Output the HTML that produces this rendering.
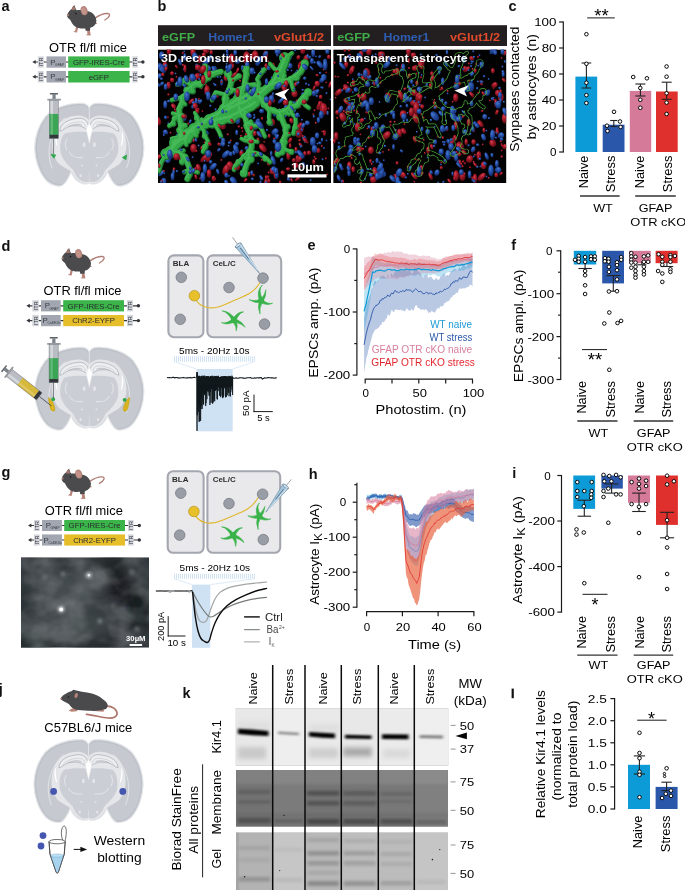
<!DOCTYPE html>
<html><head><meta charset="utf-8"><title>Figure</title>
<style>
html,body{margin:0;padding:0;background:#fff;}
body{width:685px;height:890px;overflow:hidden;font-family:"Liberation Sans",sans-serif;}
svg{display:block;will-change:transform;}
svg text{font-family:"Liberation Sans",sans-serif;}
</style></head><body>
<svg width="685" height="890" viewBox="0 0 685 890">
<rect width="685" height="890" fill="#fff"/>
<!-- panel_a -->
<text x="1.5" y="10.6" font-size="14.5" font-weight="bold" fill="#111">a</text><g transform="translate(55 0) scale(0.1022)"><path d="M395,175 C430,150 470,130 515,132 C545,135 540,165 488,196" fill="none" stroke="#b17f76" stroke-width="13" stroke-linecap="round"/><path d="M205,262 L198,300 L178,312 L215,318 L228,270 Z" fill="#b88479"/><path d="M312,290 L318,332 L302,345 L350,348 L340,290 Z" fill="#b88479"/><path d="M385,215 L415,228 L405,236 L380,232 Z" fill="#b88479"/><path d="M118,150 C125,120 150,95 165,85 C170,70 180,55 192,52 C198,70 200,90 212,100 C250,95 300,100 340,115 C375,128 400,160 405,200 C405,235 385,260 345,272 L342,300 L300,302 L296,278 C260,282 225,278 205,265 C180,250 165,225 150,195 C135,185 118,170 118,150 Z" fill="#4b4b4d"/><path d="M160,98 C165,80 178,62 190,56 C194,70 195,86 200,98 Z" fill="#a8776e"/><ellipse cx="285" cy="104" rx="33" ry="45" fill="#b5857c" transform="rotate(-18 285 104)"/><ellipse cx="282" cy="108" rx="22" ry="34" fill="#c4948a" transform="rotate(-18 282 108)"/><circle cx="205" cy="133" r="8" fill="#1c1416"/><circle cx="128" cy="148" r="9" fill="#b88479"/></g><text x="88" y="51.6" font-size="12.6" text-anchor="middle" textLength="78" lengthAdjust="spacingAndGlyphs">OTR fl/fl mice</text><line x1="34.3" y1="62" x2="142.5" y2="62" stroke="#33363b" stroke-width="1.2"/><polygon points="32.3,62 35.7,59.9 35.7,64.1" fill="#33363b"/><circle cx="142.9" cy="62" r="1.7" fill="#33363b"/><rect x="37.8" y="56.4" width="6" height="11.3" fill="#d3d6dc"/><rect x="132.3" y="56.4" width="5.5" height="11.3" fill="#d3d6dc"/><rect x="46.5" y="56.4" width="19.5" height="11.3" fill="#a1a6b0"/><rect x="68.2" y="56.4" width="61.4" height="11.3" fill="#3bb44a"/><text font-size="5.5" text-anchor="middle" fill="#2e3136" transform="translate(42.8 62) rotate(-90)">ITR</text><text font-size="5.5" text-anchor="middle" fill="#2e3136" transform="translate(137.1 62) rotate(-90)">ITR</text><text x="50.3" y="64.5" font-size="7.8" fill="#3a3d42">P</text><text x="55.1" y="65.8" font-size="3.4" fill="#3a3d42">GFAP</text><text x="98.9" y="64.8" font-size="7.5" text-anchor="middle" fill="#2a2d2f" textLength="52" lengthAdjust="spacingAndGlyphs">GFP-IRES-Cre</text><line x1="34.3" y1="76.8" x2="142.5" y2="76.8" stroke="#33363b" stroke-width="1.2"/><polygon points="32.3,76.8 35.7,74.7 35.7,78.8" fill="#33363b"/><circle cx="142.9" cy="76.8" r="1.7" fill="#33363b"/><rect x="37.8" y="71" width="6" height="11.5" fill="#d3d6dc"/><rect x="132.3" y="71" width="5.5" height="11.5" fill="#d3d6dc"/><rect x="46.5" y="71" width="19.5" height="11.5" fill="#a1a6b0"/><rect x="68.2" y="71" width="61.4" height="11.5" fill="#3bb44a"/><text font-size="5.5" text-anchor="middle" fill="#2e3136" transform="translate(42.8 76.8) rotate(-90)">ITR</text><text font-size="5.5" text-anchor="middle" fill="#2e3136" transform="translate(137.1 76.8) rotate(-90)">ITR</text><text x="50.3" y="79.2" font-size="7.8" fill="#3a3d42">P</text><text x="55.1" y="80.5" font-size="3.4" fill="#3a3d42">GFAP</text><text x="98.9" y="79.5" font-size="7.5" text-anchor="middle" fill="#2a2d2f" textLength="20.4" lengthAdjust="spacingAndGlyphs">eGFP</text><g transform="translate(89.3 102.6) scale(0.1781) translate(-342 -22)"><path d="M344,58 C338,35 320,24 290,24 C220,26 140,50 95,100 C55,150 35,220 35,275 C35,340 60,420 105,465 C130,488 170,496 190,488 C212,475 226,445 240,412 C250,440 270,465 300,476 C320,482 335,480 344,472 Z" fill="#c6cad0"/><path d="M344,58 C338,35 320,24 290,24 C220,26 140,50 95,100 C55,150 35,220 35,275 C35,340 60,420 105,465 C130,488 170,496 190,488 C212,475 226,445 240,412 C250,440 270,465 300,476 C320,482 335,480 344,472" fill="none" stroke="#e6e8eb" stroke-width="6"/><path d="M343,66 C336,44 318,34 290,34 C222,36 148,58 103,106 C65,154 45,222 45,275 C45,338 68,414 111,457 C134,478 168,486 187,479" fill="none" stroke="#a4aab3" stroke-width="1.9"/><path d="M344,124 C332,108 312,96 286,94 C246,92 205,108 180,132 C150,165 135,210 134,262 C134,302 148,340 172,366 C198,388 230,398 245,415 C256,442 276,462 302,473 C322,480 336,478 344,470 L344,124 Z" fill="#e4e6e9"/><path d="M205,108 C160,145 120,215 116,290 C114,330 122,362 134,392" fill="none" stroke="#e4e6e9" stroke-width="5"/><path d="M349,190 C310,184 240,184 205,196 C184,212 174,262 181,302 C190,342 222,372 252,400 C264,430 282,455 306,465 C325,470 338,468 349,462 Z" fill="#cbcfd5"/><path d="M230,300 C242,325 270,334 305,330" fill="none" stroke="#e0e2e6" stroke-width="6" stroke-linecap="round"/><path d="M216,226 C206,245 206,270 216,286" fill="none" stroke="#e0e2e6" stroke-width="6" stroke-linecap="round"/><ellipse cx="313" cy="258" rx="8" ry="13" fill="#e4e6e9"/><circle cx="302" cy="375" r="5" fill="#e4e6e9"/><ellipse cx="293" cy="432" rx="6" ry="9" fill="#e4e6e9"/><path d="M176,183 C178,140 225,112 291,110 C316,112 331,126 337,152 L326,172 C310,160 290,151 271,152 C250,152 232,151 215,162 C200,172 188,181 176,183 Z" fill="#eceef0" stroke="#7c838e" stroke-width="2.4"/><path d="M196,170 C212,142 258,128 298,131 C314,135 322,146 319,160" fill="none" stroke="#8f96a0" stroke-width="1.6"/><path d="M226,157 C248,141 280,138 303,149 C282,146 252,146 226,157 Z" fill="#d5d8dd" stroke="#8f96a0" stroke-width="1.4"/><path d="M154,184 C147,212 148,246 162,270 C168,272 166,262 164,250 C160,228 160,205 160,186 Z" fill="#fff" stroke="#c0c4ca" stroke-width="1"/><g transform="translate(684 0) scale(-1 1)"><path d="M344,58 C338,35 320,24 290,24 C220,26 140,50 95,100 C55,150 35,220 35,275 C35,340 60,420 105,465 C130,488 170,496 190,488 C212,475 226,445 240,412 C250,440 270,465 300,476 C320,482 335,480 344,472 Z" fill="#c6cad0"/><path d="M344,58 C338,35 320,24 290,24 C220,26 140,50 95,100 C55,150 35,220 35,275 C35,340 60,420 105,465 C130,488 170,496 190,488 C212,475 226,445 240,412 C250,440 270,465 300,476 C320,482 335,480 344,472" fill="none" stroke="#e6e8eb" stroke-width="6"/><path d="M343,66 C336,44 318,34 290,34 C222,36 148,58 103,106 C65,154 45,222 45,275 C45,338 68,414 111,457 C134,478 168,486 187,479" fill="none" stroke="#a4aab3" stroke-width="1.9"/><path d="M344,124 C332,108 312,96 286,94 C246,92 205,108 180,132 C150,165 135,210 134,262 C134,302 148,340 172,366 C198,388 230,398 245,415 C256,442 276,462 302,473 C322,480 336,478 344,470 L344,124 Z" fill="#e4e6e9"/><path d="M205,108 C160,145 120,215 116,290 C114,330 122,362 134,392" fill="none" stroke="#e4e6e9" stroke-width="5"/><path d="M349,190 C310,184 240,184 205,196 C184,212 174,262 181,302 C190,342 222,372 252,400 C264,430 282,455 306,465 C325,470 338,468 349,462 Z" fill="#cbcfd5"/><path d="M230,300 C242,325 270,334 305,330" fill="none" stroke="#e0e2e6" stroke-width="6" stroke-linecap="round"/><path d="M216,226 C206,245 206,270 216,286" fill="none" stroke="#e0e2e6" stroke-width="6" stroke-linecap="round"/><ellipse cx="313" cy="258" rx="8" ry="13" fill="#e4e6e9"/><circle cx="302" cy="375" r="5" fill="#e4e6e9"/><ellipse cx="293" cy="432" rx="6" ry="9" fill="#e4e6e9"/><path d="M176,183 C178,140 225,112 291,110 C316,112 331,126 337,152 L326,172 C310,160 290,151 271,152 C250,152 232,151 215,162 C200,172 188,181 176,183 Z" fill="#eceef0" stroke="#7c838e" stroke-width="2.4"/><path d="M196,170 C212,142 258,128 298,131 C314,135 322,146 319,160" fill="none" stroke="#8f96a0" stroke-width="1.6"/><path d="M226,157 C248,141 280,138 303,149 C282,146 252,146 226,157 Z" fill="#d5d8dd" stroke="#8f96a0" stroke-width="1.4"/><path d="M154,184 C147,212 148,246 162,270 C168,272 166,262 164,250 C160,228 160,205 160,186 Z" fill="#fff" stroke="#c0c4ca" stroke-width="1"/></g><path d="M342,136 L360,170 L354,196 L349,218 L342,250 L335,218 L330,196 L324,170 Z" fill="#fff" stroke="#e4e6e9" stroke-width="3"/><line x1="342" y1="50" x2="342" y2="122" stroke="#e9ebee" stroke-width="4"/><line x1="342" y1="418" x2="342" y2="470" stroke="#e3e5e8" stroke-width="3"/></g><g transform="translate(30 88) scale(0.1168)"><rect x="201" y="430" width="5" height="135" fill="#3a3f45"/><rect x="170" y="42" width="70" height="13" fill="#5d6268" rx="4"/><rect x="192" y="52" width="28" height="42" fill="#7d838a"/><rect x="148" y="92" width="117" height="16" fill="#969ba2" rx="5"/><rect x="165" y="106" width="78" height="326" fill="#b9bdc3"/><rect x="176" y="106" width="22" height="116" fill="#d4d7db"/><rect x="165" y="222" width="78" height="180" fill="#3aa655"/><rect x="178" y="222" width="18" height="180" fill="#fff" opacity="0.22"/><rect x="165" y="400" width="78" height="32" fill="#33373c" rx="5"/><rect x="165" y="106" width="78" height="326" fill="none" stroke="#6f747b" stroke-width="4"/></g><path d="M51.0,154.3 L55.6,154.9 L54.0,158.3 Z" fill="#2fa84a" stroke="#2fa84a" stroke-width="0.8" stroke-linejoin="round"/><path d="M122.3,157.6 L126.6,155.0 L126.0,159.6 Z" fill="#2fa84a" stroke="#2fa84a" stroke-width="0.8" stroke-linejoin="round"/>
<!-- panel_b -->
<text x="157.4" y="11.2" font-size="14.5" font-weight="bold" fill="#111">b</text><defs><radialGradient id="gB" cx="0.38" cy="0.32" r="0.75"><stop offset="0" stop-color="#4a7ad0"/><stop offset="0.38" stop-color="#2853ac"/><stop offset="1" stop-color="#0f2460"/></radialGradient><radialGradient id="gR" cx="0.38" cy="0.32" r="0.75"><stop offset="0" stop-color="#d04452"/><stop offset="0.36" stop-color="#aa1a2a"/><stop offset="1" stop-color="#4c0810"/></radialGradient><g id="tr0"><polyline points="166.3,153.9 170,151.2 173,147.6 174.7,143 179.7,139.8 181.8,135.9 186.3,132.7 191,130.8 194.4,127.5 199.9,125.5 204.6,122.2 208.8,119.6 212.6,117 215.4,116 220.6,112.6 226.1,111.4 229.2,109.7 234.2,107.2 238.7,104.8 244.2,103.2 249.8,99.3 253.9,96.4 259.4,94.5 263.3,91.3 266.9,88 272.3,84.2 275.5,79.8 277.1,75.5 280,71.3 283.6,63.8 285.2,58.3"/><polyline points="211.6,121.6 215.3,121.1 220.8,119.6 225.8,118.3 230.3,117.2 235.5,114.7 241.3,112.1 245.7,108.7 250.8,106.5 255.5,102.8"/><polyline points="223.2,107.9 229,105.9 232.6,103.4 238.7,99.7 244.1,98 248.7,95.4 254.2,91.9"/><polyline points="171.5,150.8 175.6,145.3 180.5,141 185.7,138.8 189.3,133.5 194.8,131.2"/></g><g id="tr1"><polyline points="181.8,135.9 180.9,129.9 180.8,126.5 179.8,120.1 179.3,115.2 178.7,109.1 182,102 181.8,97.1 185.7,94.5 187.5,90 192.2,86.8 195.4,84 201.5,82.7 205.3,78.9 207.7,76.4 214.1,73.2 220.6,71.3"/><polyline points="220.6,112.6 221.5,109.6 224.6,103.9 224.5,98.5 225.8,94.5 229.2,89.2 230.9,81.6 228.4,73.8"/><polyline points="238.7,104.8 240.5,101.1 240.8,96.4 241.9,91.2 243.9,86.8 244.5,81.7 246.4,73.8 243.9,68.2"/><polyline points="259.4,94.5 261.2,99.4 264.4,104.1 267.1,107.4 273.1,110.5 280,112.6 284.7,111.1 290.4,107.4 297,105 300.7,99.7 303.5,96.8 308.5,91.9"/><polyline points="272.3,84.2 277.4,83.6 282,80.6 286.7,80.6 290.4,79 295.9,76 300.7,71.3 304.6,63.5"/><polyline points="238.7,104.8 240.4,109.8 241.7,114.5 244.9,117 246.4,122.9 246.3,126.3 248.5,131 249.4,135.1 251.6,141 251.1,147.3 249.1,154.3 249,159.1 245.8,165.3 243.9,172"/><polyline points="171.5,151.4 177.6,152.5 184.4,156.5 187.1,162.5 189.6,169.4 189.3,173.7 187,178.5"/><polyline points="280,112.6 280.9,116 282.9,121.8 285.3,127.6 285.2,130.7 285.6,134.3 282.3,141.2 282.6,146.2 280.4,151.3 277.4,153.9"/></g><g id="tr2"><polyline points="192.2,86.8 187.5,82.2 184.4,79 182,82.9 176.7,84.2"/><polyline points="249,151.4 255.7,152.6 259.4,153.9 266,157.8 269.7,161.7"/><polyline points="249,151.4 244.4,155.2 242,157.6 238.7,161.7 234.6,165.7 233.5,169.4"/><polyline points="199.9,125.5 203.4,129.9 204.4,134.8 207.7,141 205.4,146.1 202.5,151.4"/><polyline points="166.3,153.9 164.5,156.6 161.2,161.7 160,165.7 158.6,170.7"/><polyline points="181.8,97.1 176.6,98 171.5,99.7"/><polyline points="179.3,115.2 174.4,117.9 172.2,123.4 168.9,125.5"/><polyline points="220.6,112.6 216.5,119.9 215.4,125.5 218.7,131.1 220.6,135.9"/><polyline points="259.4,94.5 258.1,89 258.7,83.2 256.8,79 259.3,74.9 264.5,68.7"/><polyline points="290.4,107.4 291.4,113.5 295.1,116.7 295.5,122.9 294.2,127.6 293,133.3"/><polyline points="285.2,58.3 291.7,52.7"/><polyline points="280,71.3 274,68.4 269.7,63.5"/><polyline points="207.7,76.4 204.9,71.9 205.1,66.1"/><polyline points="230.9,81.6 235.4,77.6 238.7,76.4"/><polyline points="300.7,99.7 305,105 308.5,107.4"/><polyline points="246.4,122.9 252.3,125.5 259.4,125.5 261.7,129.6 264.5,135.9"/><polyline points="225.8,94.5 219.4,92.8 215.4,91.9 211.6,99.7"/><polyline points="267.1,107.4 269.1,111.5 268.6,117.2 269.7,122.9"/><polyline points="189.6,169.4 197.3,172"/><polyline points="251.6,141 245.1,140.3 241.3,138.4"/><polyline points="290.4,79 291.7,85.4 293,89.3"/><polyline points="181.8,135.9 175.9,137.3 171.5,138.4"/><polyline points="199.9,125.5 197.4,117.9 194.8,112.6"/><polyline points="243.9,86.8 249.8,84.5 254.2,84.2"/><polyline points="282.6,146.2 285.2,149.3 290.4,151.4"/><polyline points="170,151.2 173.9,155"/><polyline points="173,147.6 176.5,144.1"/><polyline points="174.7,143 175.6,140"/><polyline points="181.8,135.9 185.8,141.4"/><polyline points="191,130.8 196.1,135.4"/><polyline points="204.6,122.2 201.5,119.1"/><polyline points="208.8,119.6 206.1,124.3"/><polyline points="212.6,117 209.9,119.3"/><polyline points="229.2,109.7 232.2,105.6"/><polyline points="249.8,99.3 252.4,101.1"/><polyline points="253.9,96.4 260.3,98"/><polyline points="266.9,88 260.5,89.2"/><polyline points="275.5,79.8 272.2,80.6"/><polyline points="277.1,75.5 279.5,79.3"/><polyline points="280,71.3 282.7,68.8"/><polyline points="283.6,63.8 283,67.4"/><polyline points="215.3,121.1 215.8,126"/><polyline points="220.8,119.6 224.7,117.5"/><polyline points="250.8,106.5 248.8,102.8"/><polyline points="238.7,99.7 239.6,102.6"/><polyline points="244.1,98 248.1,100.1"/><polyline points="175.6,145.3 173.8,149.8"/><polyline points="180.5,141 179.9,135.2"/><polyline points="185.7,138.8 186,144.5"/><polyline points="180.8,126.5 183.8,126.1"/><polyline points="179.8,120.1 180.6,115.5"/><polyline points="179.3,115.2 172.6,113.1"/><polyline points="182,102 184.8,103.8"/><polyline points="192.2,86.8 192.3,90"/><polyline points="195.4,84 199.2,85.5"/><polyline points="201.5,82.7 200.4,85.7"/><polyline points="205.3,78.9 208.9,78.2"/><polyline points="214.1,73.2 210.8,72.5"/><polyline points="221.5,109.6 225.5,112.8"/><polyline points="229.2,89.2 234.4,89.8"/><polyline points="240.8,96.4 236.7,92.3"/><polyline points="243.9,86.8 237.9,88.8"/><polyline points="244.5,81.7 247.7,84.5"/><polyline points="246.4,73.8 247.3,67.6"/><polyline points="261.2,99.4 263.5,101.8"/><polyline points="264.4,104.1 268.5,106.5"/><polyline points="273.1,110.5 278.5,112.6"/><polyline points="280,112.6 281.3,116.5"/><polyline points="284.7,111.1 288.5,113.8"/><polyline points="290.4,107.4 290.4,102.2"/><polyline points="282,80.6 284.3,75.4"/><polyline points="300.7,71.3 302.4,67.1"/><polyline points="240.4,109.8 243.8,111.3"/><polyline points="241.7,114.5 239.8,110.8"/><polyline points="244.9,117 245.3,111.8"/><polyline points="246.4,122.9 249.8,124"/><polyline points="246.3,126.3 250.7,121.1"/><polyline points="249.4,135.1 245.4,137"/><polyline points="251.6,141 256.9,141.4"/><polyline points="249,159.1 245.4,158.4"/><polyline points="177.6,152.5 183.3,150.2"/><polyline points="184.4,156.5 181.7,162.6"/><polyline points="189.6,169.4 183.9,171.6"/><polyline points="285.2,130.7 287,126.4"/><polyline points="285.6,134.3 288.7,133.9"/></g><g id="tr3"><polyline points="165.8,153.5 165.9,153.5"/><polyline points="170.2,151 170.3,151"/><polyline points="174.4,142.5 174.5,142.5"/><polyline points="193.7,128.2 193.8,128.2"/><polyline points="199,124.9 199.1,124.9"/><polyline points="205,123 205.1,123"/><polyline points="209.4,119.3 209.5,119.3"/><polyline points="228.2,109.7 228.3,109.7"/><polyline points="238.5,104.5 238.6,104.5"/><polyline points="243.9,103 244,103"/><polyline points="250.2,99.1 250.3,99.1"/><polyline points="280.2,71.6 280.3,71.6"/><polyline points="284.4,57.5 284.5,57.5"/><polyline points="211.7,122.2 211.8,122.2"/><polyline points="221.6,119.1 221.7,119.1"/><polyline points="230.8,117.5 230.9,117.5"/><polyline points="229,106.7 229.1,106.7"/><polyline points="233.5,103.4 233.6,103.4"/><polyline points="237.7,99.5 237.8,99.5"/><polyline points="244.4,98.8 244.5,98.8"/><polyline points="170.7,151.2 170.8,151.2"/><polyline points="186.4,138.2 186.5,138.2"/><polyline points="188.9,133.8 189,133.8"/></g><g id="tr4"><polyline points="182.1,136.4 182.2,136.4"/><polyline points="180,130 180.1,130"/><polyline points="187.1,90.2 187.2,90.2"/><polyline points="194.5,83.3 194.6,83.3"/><polyline points="207.1,76.6 207.2,76.6"/><polyline points="221.5,110.3 221.6,110.3"/><polyline points="225.2,98.8 225.3,98.8"/><polyline points="229.6,89.9 229.7,89.9"/><polyline points="227.7,73.2 227.8,73.2"/><polyline points="238,105.1 238.1,105.1"/><polyline points="241,101.6 241.1,101.6"/><polyline points="260.4,98.5 260.5,98.5"/><polyline points="264.2,104 264.3,104"/><polyline points="279.8,112.7 279.9,112.7"/><polyline points="284,111.3 284.1,111.3"/><polyline points="290.7,107.4 290.8,107.4"/><polyline points="304.1,97.3 304.2,97.3"/><polyline points="307.7,91.9 307.8,91.9"/><polyline points="272.8,85 272.9,85"/><polyline points="277,83.6 277.1,83.6"/><polyline points="295.6,76.7 295.7,76.7"/><polyline points="304.4,63 304.5,63"/><polyline points="240,109 240.1,109"/><polyline points="247.2,125.5 247.3,125.5"/><polyline points="249.1,130 249.2,130"/><polyline points="250.6,140.5 250.7,140.5"/><polyline points="249.1,153.4 249.2,153.4"/><polyline points="250,159 250.1,159"/><polyline points="243.4,172.9 243.5,172.9"/><polyline points="184.2,157.1 184.3,157.1"/><polyline points="280,116.6 280.1,116.6"/><polyline points="283.3,141.7 283.4,141.7"/><polyline points="281,151.1 281.1,151.1"/></g><g id="tr5"><polyline points="187.3,81.8 187.4,81.8"/><polyline points="248.4,151.3 248.5,151.3"/><polyline points="255.4,153.4 255.5,153.4"/><polyline points="265.1,158.5 265.2,158.5"/><polyline points="243.9,156 244,156"/><polyline points="238.1,161.6 238.2,161.6"/><polyline points="204.4,135.7 204.5,135.7"/><polyline points="204.7,146.4 204.8,146.4"/><polyline points="174.3,118.3 174.4,118.3"/><polyline points="172.8,123.2 172.9,123.2"/><polyline points="215.4,124.6 215.5,124.6"/><polyline points="259,94.4 259.1,94.4"/><polyline points="295.1,126.7 295.2,126.7"/><polyline points="204.8,66.1 204.9,66.1"/><polyline points="235.3,76.7 235.4,76.7"/><polyline points="238.4,75.7 238.5,75.7"/><polyline points="269,122 269.1,122"/><polyline points="250.7,141.7 250.8,141.7"/><polyline points="290.5,78.2 290.6,78.2"/><polyline points="199.1,125.9 199.2,125.9"/><polyline points="196.5,117.8 196.6,117.8"/><polyline points="254.5,84.9 254.6,84.9"/><polyline points="283.1,145.7 283.2,145.7"/><polyline points="290.9,151.4 291,151.4"/><polyline points="172.5,147.1 172.6,147.1"/><polyline points="173.8,142.7 173.9,142.7"/><polyline points="175.4,140.3 175.5,140.3"/><polyline points="185.1,141.4 185.2,141.4"/><polyline points="208.3,119.6 208.4,119.6"/><polyline points="259.8,97.7 259.9,97.7"/><polyline points="280,79 280.1,79"/><polyline points="280.3,71.9 280.4,71.9"/><polyline points="284.5,63.6 284.6,63.6"/><polyline points="249.9,106.9 250,106.9"/><polyline points="239.2,102 239.3,102"/><polyline points="180.4,140.5 180.5,140.5"/><polyline points="180,134.8 180.1,134.8"/><polyline points="185.7,139.6 185.8,139.6"/><polyline points="184.4,125.3 184.5,125.3"/><polyline points="181.6,115.6 181.7,115.6"/><polyline points="192.3,90.8 192.4,90.8"/><polyline points="213.2,74.1 213.3,74.1"/><polyline points="245.8,74.2 245.9,74.2"/><polyline points="262.2,98.6 262.3,98.6"/><polyline points="262.6,101.7 262.7,101.7"/><polyline points="273.5,109.7 273.6,109.7"/><polyline points="285.2,110.3 285.3,110.3"/><polyline points="239.7,110.6 239.8,110.6"/><polyline points="245.7,112.3 245.8,112.3"/><polyline points="250.7,123.7 250.8,123.7"/><polyline points="181.7,161.6 181.8,161.6"/><polyline points="287.1,126.3 287.2,126.3"/><polyline points="285,135.3 285.1,135.3"/></g><clipPath id="cb0"><rect x="158" y="49.4" width="173" height="133.6"/></clipPath></defs><rect x="158" y="25.2" width="173" height="20.8" fill="#231f20"/><text x="162.1" y="40.6" font-size="11" font-weight="bold" fill="#3fae49" textLength="33" lengthAdjust="spacingAndGlyphs">eGFP</text><text x="208.3" y="40.6" font-size="11" font-weight="bold" fill="#2e5eb4" textLength="45.8" lengthAdjust="spacingAndGlyphs">Homer1</text><text x="324.2" y="40.6" font-size="11" text-anchor="end" font-weight="bold" fill="#e04a2a" textLength="50.2" lengthAdjust="spacingAndGlyphs">vGlut1/2</text><g transform="translate(0 0)"><g clip-path="url(#cb0)"><rect x="158" y="49.4" width="174" height="133.6" fill="#020202"/><g fill="url(#gR)"><ellipse cx="214" cy="69.6" rx="1.6" ry="3"/><circle cx="168" cy="117.2" r="1"/><ellipse rx="2.1" ry="3" transform="translate(173.7 106.1)rotate(-40)"/><ellipse cx="257.8" cy="102.4" rx="2.5" ry="6.2"/><circle cx="183" cy="65.1" r="1.2"/><ellipse cx="258.6" cy="134.8" rx="1.4" ry="1.3"/><ellipse cx="193.6" cy="140.3" rx="1.3" ry="2.3"/><ellipse rx="1.9" ry="3.4" transform="translate(209.9 155.5)rotate(25)"/><ellipse rx="2.6" ry="4.5" transform="translate(284.2 87.9)rotate(-20)"/><ellipse rx="2.5" ry="4.9" transform="translate(319.5 105.7)rotate(25)"/><ellipse cx="216.8" cy="96.2" rx="1.8" ry="1.5"/><circle cx="204.7" cy="142.5" r="1"/><ellipse cx="258" cy="140.4" rx="1.6" ry="2.9"/><ellipse cx="320.7" cy="96.9" rx="1.9" ry="2.2"/><ellipse cx="285.7" cy="102.6" rx="2.9" ry="3.2"/><ellipse rx="1.5" ry="2.5" transform="translate(206.1 67.7)rotate(45)"/><circle cx="323.7" cy="69.6" r="1.1"/><circle cx="241.9" cy="128.1" r="1.2"/><ellipse rx="3.4" ry="4.7" transform="translate(221.9 125.1)rotate(-40)"/><ellipse cx="237" cy="165.8" rx="3.4" ry="4.8"/><ellipse cx="226.2" cy="113.7" rx="1.2" ry="2.8"/><circle cx="177" cy="129.7" r="1"/><circle cx="322.2" cy="131.4" r="1"/><ellipse cx="267.8" cy="177.1" rx="1.8" ry="1.9"/><circle cx="327.2" cy="113.6" r="1.2"/><ellipse rx="2.1" ry="2.4" transform="translate(286.1 113.3)rotate(25)"/><circle cx="183.4" cy="122" r="1"/><circle cx="307.4" cy="142.4" r="1.2"/><ellipse rx="2.2" ry="2.8" transform="translate(291.5 120.6)rotate(-20)"/><ellipse cx="297.5" cy="158.7" rx="2" ry="3.4"/><circle cx="163" cy="53.1" r="1.2"/><ellipse cx="323.5" cy="109.1" rx="3.8" ry="6.2"/><circle cx="196.1" cy="79.7" r="1.1"/><ellipse cx="313.8" cy="161.7" rx="1.6" ry="2.8"/><ellipse cx="272.3" cy="170.9" rx="2.7" ry="3.5"/><ellipse cx="294.5" cy="93.8" rx="3.1" ry="3.4"/><circle cx="321.8" cy="146.2" r="1.1"/><circle cx="314.5" cy="157.1" r="1"/><ellipse rx="1.4" ry="1.6" transform="translate(271.7 96.2)rotate(-40)"/><ellipse cx="249.1" cy="174.1" rx="1.7" ry="2.7"/><circle cx="201.6" cy="88.5" r="1.1"/><ellipse rx="2.7" ry="4.2" transform="translate(230.5 66.9)rotate(45)"/><circle cx="301.1" cy="166.7" r="1"/><ellipse cx="309" cy="153.1" rx="2.1" ry="2"/><circle cx="265.1" cy="65.5" r="1"/><ellipse cx="241.5" cy="153.1" rx="2.2" ry="3.2"/><circle cx="174.9" cy="109.8" r="1"/><ellipse rx="1.6" ry="2.3" transform="translate(214.3 179.4)rotate(45)"/><ellipse rx="1.9" ry="3.3" transform="translate(245.8 82.5)rotate(-20)"/><circle cx="303.3" cy="67.7" r="1"/><ellipse cx="199.6" cy="59.2" rx="2.3" ry="4"/><circle cx="281.9" cy="137.6" r="1"/><ellipse rx="1.4" ry="2.8" transform="translate(196 176.7)rotate(-20)"/><ellipse cx="280.2" cy="182.2" rx="1.3" ry="1.8"/><ellipse rx="1.6" ry="2" transform="translate(221.3 94.6)rotate(25)"/><ellipse cx="246.6" cy="58" rx="3.7" ry="6.7"/><ellipse cx="203.9" cy="54.7" rx="2.1" ry="2.5"/><circle cx="315.7" cy="158.8" r="1.2"/><circle cx="256.7" cy="143" r="1"/><ellipse cx="231.6" cy="59.1" rx="3.2" ry="5.6"/><ellipse rx="2.6" ry="3.5" transform="translate(306.1 58.3)rotate(25)"/><ellipse cx="265.6" cy="55.2" rx="2.6" ry="4.5"/><ellipse cx="189.3" cy="173.9" rx="1.9" ry="2.2"/><ellipse cx="274.3" cy="85.5" rx="3.1" ry="2.3"/><ellipse rx="1.4" ry="2.3" transform="translate(245.5 180.1)rotate(45)"/><ellipse cx="271.6" cy="122.3" rx="3.5" ry="3.6"/><ellipse rx="3.1" ry="3" transform="translate(197.7 75.9)rotate(-40)"/><ellipse cx="302.8" cy="51.3" rx="2.3" ry="2.7"/><ellipse rx="2" ry="2.6" transform="translate(273.1 100.3)rotate(-40)"/><ellipse rx="1.3" ry="3" transform="translate(237.5 70.4)rotate(25)"/><circle cx="200.3" cy="178.4" r="1.2"/><ellipse cx="224" cy="112.8" rx="1.3" ry="2.4"/><ellipse cx="203.7" cy="61.4" rx="1.1" ry="1.3"/><ellipse rx="1.9" ry="2.8" transform="translate(198.3 127.6)rotate(45)"/><ellipse cx="290.2" cy="145.7" rx="1.4" ry="2.6"/><ellipse rx="1.5" ry="2.8" transform="translate(300.7 144.9)rotate(-40)"/><ellipse cx="301" cy="127.4" rx="3.1" ry="4.9"/><circle cx="163.4" cy="67.2" r="1.3"/><ellipse cx="254.6" cy="133.3" rx="2.1" ry="2.8"/><ellipse cx="296" cy="149.4" rx="1.6" ry="2.7"/><circle cx="285.5" cy="83.1" r="1"/><ellipse cx="193.5" cy="148.2" rx="3.2" ry="4.3"/><ellipse cx="276.3" cy="151.9" rx="2" ry="1.9"/><circle cx="201.9" cy="148.7" r="1.2"/><ellipse cx="168.5" cy="85.3" rx="2.2" ry="3.5"/><ellipse cx="247.4" cy="111.5" rx="1.2" ry="3"/><circle cx="327.2" cy="174.5" r="1"/><circle cx="325.5" cy="109.4" r="1.2"/><circle cx="194.5" cy="127.1" r="1"/><ellipse cx="180.9" cy="159" rx="1.9" ry="2.8"/><circle cx="313.3" cy="114.3" r="1"/><circle cx="236" cy="89.7" r="1"/><ellipse rx="2.7" ry="2.4" transform="translate(303.4 49.6)rotate(-40)"/><ellipse rx="1.2" ry="2.8" transform="translate(314 88.1)rotate(25)"/><ellipse rx="2.4" ry="2.6" transform="translate(318.1 150.4)rotate(-20)"/><ellipse rx="1.4" ry="2.2" transform="translate(201.1 84.9)rotate(-40)"/><ellipse rx="3.6" ry="4.6" transform="translate(298.5 133.7)rotate(-40)"/><ellipse cx="319.5" cy="104.3" rx="1.5" ry="3.6"/><circle cx="315.8" cy="122.9" r="1.1"/><ellipse cx="202.2" cy="148.1" rx="1.9" ry="2.3"/><ellipse rx="1.5" ry="2.9" transform="translate(273.7 65.4)rotate(-20)"/><ellipse cx="236.4" cy="93.9" rx="2.2" ry="3.6"/><circle cx="188.2" cy="123.7" r="1.2"/><ellipse cx="193" cy="52.1" rx="2.6" ry="4.9"/><ellipse rx="1.6" ry="2.1" transform="translate(204.8 149.9)rotate(-20)"/><ellipse cx="174" cy="169.2" rx="1.4" ry="1.9"/><circle cx="298.9" cy="178.7" r="1"/><ellipse rx="1.2" ry="3.1" transform="translate(297.1 178.8)rotate(45)"/><circle cx="326.2" cy="82.6" r="1"/><ellipse cx="276" cy="175.2" rx="2.4" ry="4"/><ellipse rx="2.1" ry="4.8" transform="translate(253.4 54.7)rotate(25)"/><ellipse cx="324.5" cy="133.1" rx="1.6" ry="3"/><circle cx="210" cy="175.5" r="1.1"/><ellipse rx="2.9" ry="4.2" transform="translate(158.2 121.2)rotate(-20)"/><circle cx="240.2" cy="80.8" r="1.1"/><ellipse cx="211.2" cy="52.3" rx="1.7" ry="2.2"/><circle cx="273.5" cy="173" r="1.1"/><circle cx="230.8" cy="140.6" r="1.1"/><ellipse cx="245.3" cy="76.8" rx="2.9" ry="6"/><circle cx="196.3" cy="151" r="1.2"/><ellipse cx="190.4" cy="79.2" rx="1.5" ry="2.9"/><ellipse cx="226.1" cy="77.8" rx="2.6" ry="3.1"/><ellipse rx="3.1" ry="5.9" transform="translate(226 169.4)rotate(25)"/><ellipse rx="1.6" ry="2.1" transform="translate(191 136.6)rotate(25)"/><circle cx="328.4" cy="108.5" r="1"/><ellipse rx="1.9" ry="2.3" transform="translate(230.7 167.7)rotate(25)"/><circle cx="300.2" cy="107.2" r="1"/><ellipse cx="317.1" cy="75.2" rx="1.6" ry="1.2"/><circle cx="298.4" cy="151.8" r="1"/><ellipse cx="317.2" cy="83.7" rx="2.7" ry="3"/><circle cx="323.7" cy="131.8" r="1.2"/><ellipse rx="2.8" ry="3.8" transform="translate(205.7 49.9)rotate(-40)"/><ellipse rx="2.1" ry="4" transform="translate(300.9 63.7)rotate(45)"/><ellipse cx="299" cy="67.1" rx="1.2" ry="3.2"/><circle cx="277.7" cy="69.6" r="1.1"/><ellipse cx="293.6" cy="129" rx="1.5" ry="1.7"/><ellipse cx="270.4" cy="113.8" rx="1.4" ry="2.4"/><circle cx="170.5" cy="132.8" r="1.1"/><circle cx="326.2" cy="72.5" r="1"/><ellipse cx="198.6" cy="121.4" rx="2.7" ry="4.4"/><circle cx="206.3" cy="85.2" r="1.1"/><circle cx="190.1" cy="80.9" r="1.2"/><circle cx="169.2" cy="83" r="1.1"/><circle cx="175.4" cy="111.4" r="1"/><ellipse cx="198" cy="109.3" rx="1.6" ry="1.6"/><circle cx="261.9" cy="160" r="1.1"/><ellipse rx="2.6" ry="2.2" transform="translate(188.8 130)rotate(25)"/><circle cx="195.7" cy="98.7" r="1"/><circle cx="261.7" cy="136.5" r="1.1"/><circle cx="275.3" cy="74.1" r="1.2"/><circle cx="252.8" cy="57.9" r="1"/><circle cx="268.6" cy="61.6" r="1.1"/><ellipse cx="207" cy="90.5" rx="2.8" ry="4.9"/><ellipse rx="3.1" ry="3.7" transform="translate(230 164.9)rotate(-20)"/><circle cx="321" cy="107.4" r="1.1"/><ellipse cx="258" cy="98.1" rx="1.9" ry="2.3"/><ellipse cx="297.5" cy="102.4" rx="2.1" ry="3.1"/><circle cx="218.2" cy="71" r="1.1"/><ellipse cx="288.4" cy="155.2" rx="2.2" ry="4.7"/><ellipse rx="2" ry="1.9" transform="translate(315.9 91.4)rotate(-20)"/><ellipse cx="268.8" cy="163.8" rx="2" ry="2.1"/><ellipse cx="255.8" cy="55" rx="2.5" ry="4"/><circle cx="325.9" cy="158.4" r="1.1"/><circle cx="274.3" cy="138.6" r="1.2"/><ellipse cx="304.9" cy="153.4" rx="1.8" ry="2.4"/><circle cx="221.6" cy="116.7" r="1.1"/><ellipse rx="2.2" ry="3.6" transform="translate(238.5 109.1)rotate(45)"/><ellipse rx="1.1" ry="2" transform="translate(176.5 66.6)rotate(-40)"/><ellipse cx="165" cy="66.8" rx="2.7" ry="5.2"/><ellipse cx="288.1" cy="169" rx="2.3" ry="1.8"/><circle cx="264.2" cy="141.9" r="1"/><ellipse cx="207.8" cy="157.7" rx="2.7" ry="4.3"/><circle cx="302.1" cy="131" r="1.1"/><circle cx="314.6" cy="110.4" r="1.1"/><circle cx="260.4" cy="131.7" r="1.1"/><circle cx="227.8" cy="134.4" r="1.2"/><ellipse rx="1.8" ry="4.5" transform="translate(295 84.7)rotate(45)"/><ellipse rx="2.2" ry="5.8" transform="translate(254 126.9)rotate(45)"/><ellipse cx="285.7" cy="99" rx="1.2" ry="1.4"/><ellipse rx="2.3" ry="2.3" transform="translate(172.1 80.1)rotate(25)"/><ellipse cx="268.6" cy="180.9" rx="1.9" ry="2.3"/><ellipse rx="1.8" ry="2.8" transform="translate(163.8 69.4)rotate(-20)"/><circle cx="242.5" cy="131.2" r="1"/><ellipse cx="210.5" cy="119.3" rx="1.6" ry="2.1"/><circle cx="221.4" cy="160.1" r="1.1"/><circle cx="280.4" cy="109.6" r="1"/><ellipse rx="2.5" ry="5.9" transform="translate(204.7 157.8)rotate(45)"/><ellipse cx="262.1" cy="118.5" rx="1.3" ry="1.4"/><circle cx="162.4" cy="74.2" r="1.1"/><circle cx="264" cy="137.1" r="1.1"/><ellipse cx="269.2" cy="135.9" rx="1.5" ry="2.1"/><ellipse cx="266.3" cy="182.2" rx="2.2" ry="3.4"/><circle cx="233.5" cy="171.3" r="1"/><ellipse rx="1.6" ry="3.8" transform="translate(330.4 84.3)rotate(25)"/><ellipse rx="1.7" ry="3.1" transform="translate(281.1 84.9)rotate(25)"/><ellipse cx="209.1" cy="173.5" rx="2.3" ry="4.3"/><circle cx="314.5" cy="161.9" r="1.1"/><ellipse rx="1.7" ry="3.5" transform="translate(191.2 101.3)rotate(45)"/><circle cx="239.7" cy="120.3" r="1"/><ellipse rx="2.3" ry="3.9" transform="translate(198.5 167.6)rotate(-20)"/><circle cx="183" cy="53" r="1"/><circle cx="182.5" cy="53.2" r="1"/><circle cx="278.6" cy="147.8" r="1"/><ellipse rx="2.2" ry="5.5" transform="translate(299.4 158.9)rotate(45)"/><circle cx="176.5" cy="76.9" r="1"/><ellipse cx="298.5" cy="134.1" rx="2.7" ry="3.2"/><circle cx="174.9" cy="150.6" r="1.1"/><circle cx="161.6" cy="83.7" r="1.2"/><ellipse cx="213.5" cy="178.2" rx="1.9" ry="2.6"/><ellipse rx="2.2" ry="4.1" transform="translate(229.4 107.7)rotate(-20)"/></g><g fill="url(#gB)"><ellipse rx="1.5" ry="2.4" transform="translate(281.6 160)rotate(25)"/><circle cx="289.9" cy="180" r="1"/><ellipse cx="295.8" cy="74.1" rx="1.4" ry="2.8"/><circle cx="321.3" cy="87.3" r="1.1"/><circle cx="177" cy="134.4" r="1"/><circle cx="294.1" cy="133.3" r="1.3"/><ellipse cx="312" cy="60.9" rx="2" ry="3"/><circle cx="313.9" cy="116.4" r="1.3"/><ellipse cx="237.7" cy="120.4" rx="2.4" ry="3.6"/><ellipse cx="214.5" cy="70.2" rx="2.6" ry="4.3"/><ellipse rx="1.4" ry="2.4" transform="translate(233.9 152.7)rotate(-20)"/><ellipse rx="2.5" ry="3.5" transform="translate(245.8 85.1)rotate(-20)"/><circle cx="283.1" cy="129.9" r="1.2"/><ellipse cx="202.8" cy="177" rx="2.5" ry="5"/><circle cx="184.1" cy="69.2" r="1.2"/><circle cx="176.9" cy="171.2" r="1.2"/><ellipse cx="160.2" cy="163.5" rx="1.2" ry="2.9"/><ellipse rx="1.6" ry="2.5" transform="translate(161.8 83.8)rotate(45)"/><ellipse rx="2.2" ry="3.1" transform="translate(304.4 138.6)rotate(-20)"/><ellipse cx="275.6" cy="135.1" rx="1.3" ry="2.3"/><ellipse cx="230.6" cy="153.9" rx="2.1" ry="2.4"/><ellipse cx="236.7" cy="132.4" rx="1.5" ry="2.7"/><ellipse cx="271.2" cy="153.4" rx="1.3" ry="2.7"/><ellipse cx="252" cy="70.9" rx="2.7" ry="3.4"/><ellipse rx="2" ry="3.4" transform="translate(257.4 121.7)rotate(25)"/><circle cx="229" cy="176" r="1.1"/><ellipse cx="289.9" cy="65.8" rx="2.7" ry="2.8"/><ellipse cx="227.1" cy="51.2" rx="1.3" ry="2.3"/><ellipse cx="203.9" cy="79.4" rx="2.6" ry="3.2"/><circle cx="296.7" cy="101.8" r="1.1"/><ellipse rx="1.5" ry="1.7" transform="translate(298.1 134.1)rotate(25)"/><ellipse rx="2.2" ry="4.7" transform="translate(273.2 160.4)rotate(-20)"/><ellipse rx="1.9" ry="3.9" transform="translate(292.9 112.1)rotate(45)"/><ellipse rx="2.6" ry="3.1" transform="translate(275.4 113.7)rotate(25)"/><ellipse rx="2" ry="2.4" transform="translate(241 106.6)rotate(45)"/><ellipse rx="3" ry="2.8" transform="translate(167.9 160)rotate(-40)"/><circle cx="271.7" cy="77.4" r="1"/><circle cx="258.1" cy="163.5" r="1.1"/><ellipse rx="1.7" ry="2.7" transform="translate(194.1 103.2)rotate(-40)"/><ellipse rx="2.6" ry="2.5" transform="translate(273.6 168.8)rotate(-40)"/><ellipse cx="286.4" cy="108" rx="2.6" ry="3.1"/><circle cx="182.1" cy="115.3" r="1"/><ellipse rx="1.9" ry="1.4" transform="translate(243 116)rotate(45)"/><circle cx="278.4" cy="115.9" r="1.2"/><circle cx="331" cy="139.7" r="1.1"/><ellipse cx="161.6" cy="55.5" rx="2.6" ry="3.9"/><circle cx="241.8" cy="150.6" r="1"/><ellipse rx="1.7" ry="3.4" transform="translate(180 62)rotate(-20)"/><circle cx="207.2" cy="95.1" r="1.1"/><circle cx="219.4" cy="115.4" r="1.2"/><ellipse rx="1.2" ry="1.7" transform="translate(217.7 76.6)rotate(-20)"/><ellipse rx="1.7" ry="3.9" transform="translate(259.5 134.2)rotate(-40)"/><circle cx="226.9" cy="63.9" r="1"/><ellipse cx="290.5" cy="57.4" rx="1.5" ry="2"/><ellipse rx="2" ry="2.4" transform="translate(274.6 141.5)rotate(-20)"/><circle cx="175.5" cy="73.6" r="1"/><ellipse cx="271.4" cy="98.7" rx="2.7" ry="3.7"/><circle cx="210.3" cy="105.8" r="1.2"/><ellipse rx="1.3" ry="1.7" transform="translate(319.6 56.7)rotate(45)"/><circle cx="235.2" cy="51.3" r="1.3"/><ellipse cx="327.7" cy="112.9" rx="1.1" ry="2.2"/><circle cx="184.3" cy="51.5" r="1"/><ellipse rx="2" ry="2.3" transform="translate(325.2 61.2)rotate(-20)"/><ellipse rx="2.5" ry="4.9" transform="translate(236 148.8)rotate(-20)"/><ellipse rx="2" ry="2.6" transform="translate(284.2 60.7)rotate(25)"/><circle cx="316" cy="56.4" r="1"/><ellipse rx="1.2" ry="2.1" transform="translate(276.8 132)rotate(45)"/><ellipse cx="263.3" cy="91.7" rx="3.1" ry="4.1"/><ellipse cx="325.2" cy="65" rx="2.3" ry="5.3"/><circle cx="292.6" cy="109.9" r="1.1"/><ellipse rx="2.1" ry="3" transform="translate(206.4 132.5)rotate(-40)"/><circle cx="301.8" cy="129.7" r="1.2"/><ellipse cx="223.2" cy="140.9" rx="2.1" ry="3.2"/><ellipse rx="1.4" ry="2.6" transform="translate(158.3 84.5)rotate(-40)"/><ellipse rx="3.2" ry="2.8" transform="translate(207.9 68.2)rotate(45)"/><ellipse rx="1.9" ry="1.8" transform="translate(218 60.8)rotate(-20)"/><ellipse rx="1.4" ry="2.6" transform="translate(211.5 57.1)rotate(-40)"/><circle cx="295" cy="110.8" r="1"/><ellipse cx="198.3" cy="126.8" rx="3.1" ry="4"/><circle cx="260" cy="74.7" r="1.1"/><ellipse cx="220.8" cy="124.8" rx="1.3" ry="1.4"/><circle cx="330.5" cy="99.4" r="1"/><circle cx="185" cy="129.2" r="1.2"/><ellipse cx="163.8" cy="181.7" rx="2.5" ry="4"/><ellipse rx="3.2" ry="5.3" transform="translate(292.8 106.3)rotate(25)"/><ellipse cx="304" cy="94.7" rx="2.8" ry="2.8"/><ellipse rx="1.7" ry="2.9" transform="translate(221.9 143.7)rotate(45)"/><circle cx="317.5" cy="143.8" r="1"/><ellipse cx="173.5" cy="172.4" rx="1.3" ry="2.9"/><circle cx="198.7" cy="145.7" r="1.1"/><circle cx="168.3" cy="123.3" r="1"/><ellipse cx="246.8" cy="148.2" rx="2.1" ry="2.2"/><ellipse rx="2.2" ry="3" transform="translate(159 76)rotate(45)"/><circle cx="214" cy="83.7" r="1"/><ellipse cx="199.3" cy="68.5" rx="1.5" ry="3.4"/><circle cx="164.2" cy="173.3" r="1.1"/><ellipse rx="1.1" ry="2.8" transform="translate(311.7 68.1)rotate(-40)"/><ellipse cx="236.3" cy="94.8" rx="2.3" ry="3.9"/><ellipse rx="2.1" ry="2.2" transform="translate(196.3 57)rotate(25)"/><circle cx="230.4" cy="82.4" r="1"/><circle cx="297.1" cy="84.2" r="1"/><ellipse rx="2.1" ry="3.6" transform="translate(184.5 118)rotate(25)"/><ellipse cx="178.6" cy="150.2" rx="2.8" ry="3.5"/><ellipse rx="1.1" ry="2.6" transform="translate(199.2 101.5)rotate(-20)"/><ellipse cx="327.3" cy="51.5" rx="2.1" ry="2.5"/><circle cx="302" cy="119.8" r="1.1"/><circle cx="195.8" cy="125.7" r="1"/><circle cx="281.1" cy="75.7" r="1"/><circle cx="243.7" cy="86" r="1.1"/><circle cx="298.4" cy="127.3" r="1.1"/><circle cx="228.6" cy="145.8" r="1"/><ellipse cx="303.7" cy="164.9" rx="1.1" ry="3"/><circle cx="308.9" cy="85" r="1.1"/><ellipse cx="186.3" cy="99" rx="1.3" ry="2.6"/><ellipse cx="247.2" cy="65.5" rx="2.3" ry="3.9"/><ellipse rx="1.7" ry="4.1" transform="translate(281 100.4)rotate(45)"/><ellipse cx="235.2" cy="52.8" rx="1.9" ry="2.7"/><circle cx="265.1" cy="71.8" r="1.2"/><ellipse rx="1.8" ry="4" transform="translate(161.4 173.2)rotate(45)"/><circle cx="248.5" cy="143.3" r="1"/><ellipse cx="165.8" cy="65.8" rx="1.5" ry="1.8"/><ellipse rx="2" ry="1.8" transform="translate(228.2 67.7)rotate(45)"/><ellipse rx="2.6" ry="3.9" transform="translate(186.4 159.8)rotate(-40)"/><ellipse cx="226.4" cy="175.2" rx="2" ry="2.6"/><ellipse rx="2.8" ry="4.3" transform="translate(233.4 180.5)rotate(-40)"/><ellipse rx="1.8" ry="3.7" transform="translate(214.2 69)rotate(-40)"/><circle cx="221" cy="120.3" r="1"/><ellipse rx="3.3" ry="5.8" transform="translate(161.6 68)rotate(-40)"/><circle cx="163.9" cy="135.1" r="1.1"/><ellipse cx="251.8" cy="172.9" rx="1.6" ry="2.7"/><circle cx="322.5" cy="87.8" r="1.2"/><ellipse rx="1.4" ry="2.2" transform="translate(260.8 177.1)rotate(-20)"/><ellipse cx="234.1" cy="117.8" rx="3.1" ry="4.1"/><circle cx="285.3" cy="148.3" r="1.2"/><ellipse cx="196.3" cy="101.1" rx="1.5" ry="3.2"/><circle cx="240.7" cy="158.8" r="1"/><ellipse rx="1.6" ry="1.4" transform="translate(252.4 178.9)rotate(25)"/><circle cx="254.3" cy="115.1" r="1.2"/><circle cx="291.6" cy="70.6" r="1"/><ellipse cx="168.7" cy="101.2" rx="1.6" ry="1.4"/><circle cx="324" cy="148.1" r="1"/><ellipse rx="2.8" ry="3.7" transform="translate(274.8 131.7)rotate(45)"/><ellipse cx="204.5" cy="133.7" rx="2" ry="2.5"/><circle cx="229" cy="122.9" r="1"/><circle cx="183.9" cy="163" r="1.2"/><circle cx="305.3" cy="141.9" r="1.2"/><ellipse rx="1.4" ry="3.3" transform="translate(249 128.9)rotate(45)"/><circle cx="234.8" cy="74" r="1.2"/><ellipse rx="2.5" ry="5.1" transform="translate(258.6 61.1)rotate(25)"/><ellipse rx="2" ry="2.5" transform="translate(193.3 106.4)rotate(45)"/><circle cx="209.9" cy="121.1" r="1.2"/><ellipse rx="1.3" ry="1.3" transform="translate(300.8 146.5)rotate(45)"/><ellipse cx="322" cy="139.8" rx="1.2" ry="2.1"/><ellipse cx="255.1" cy="126.1" rx="3.1" ry="3.8"/><circle cx="266.1" cy="182.5" r="1.2"/><ellipse cx="187.5" cy="91.9" rx="3.4" ry="4.4"/><ellipse cx="312.8" cy="141.6" rx="2.9" ry="4.6"/><ellipse cx="185.1" cy="88.1" rx="1.5" ry="1.7"/><circle cx="267" cy="130" r="1.2"/><ellipse cx="165.3" cy="104.4" rx="2" ry="3.9"/><ellipse cx="210.7" cy="161.9" rx="1.8" ry="1.9"/><ellipse rx="1.9" ry="3.9" transform="translate(253.7 84.9)rotate(45)"/><ellipse cx="262.1" cy="68.8" rx="1.5" ry="1.4"/><ellipse rx="1.4" ry="2.7" transform="translate(322 114.9)rotate(25)"/><circle cx="182.9" cy="81.2" r="1.2"/><circle cx="306.7" cy="176" r="1"/><ellipse cx="161.4" cy="78.8" rx="1.5" ry="1.3"/><circle cx="199.2" cy="79.2" r="1.1"/><ellipse rx="1.4" ry="1.7" transform="translate(159.1 165.2)rotate(-40)"/><ellipse rx="1.7" ry="2.6" transform="translate(200 101.5)rotate(45)"/><circle cx="161.9" cy="165.4" r="1"/><ellipse rx="1.2" ry="1.7" transform="translate(159.3 167.3)rotate(25)"/><circle cx="227.8" cy="58.1" r="1"/><circle cx="200.4" cy="74.9" r="1.2"/><circle cx="272.9" cy="95" r="1"/><circle cx="204.7" cy="161" r="1"/><circle cx="297.3" cy="70.7" r="1.2"/><ellipse cx="323.8" cy="77.2" rx="2.8" ry="3.3"/><circle cx="180.7" cy="143.8" r="1.1"/><ellipse cx="221.7" cy="82.3" rx="1.5" ry="3.4"/><circle cx="246.8" cy="121.9" r="1.1"/><circle cx="271.8" cy="125.2" r="1.2"/><circle cx="188.6" cy="163.1" r="1.2"/><ellipse cx="255.2" cy="97.7" rx="1.3" ry="1.5"/><ellipse rx="1.8" ry="2.8" transform="translate(197.2 66.3)rotate(-20)"/><circle cx="320.1" cy="73" r="1.3"/><ellipse cx="313.2" cy="52.8" rx="2" ry="4.2"/><circle cx="314.7" cy="62.5" r="1.2"/><ellipse rx="1.4" ry="1.9" transform="translate(195.9 139.9)rotate(-20)"/><circle cx="223.9" cy="54.6" r="1.2"/><ellipse rx="1.8" ry="2.9" transform="translate(303.2 125.6)rotate(25)"/><ellipse rx="2.3" ry="4.3" transform="translate(319.9 64.3)rotate(-40)"/><circle cx="326.5" cy="140.4" r="1"/><ellipse rx="1.5" ry="2.8" transform="translate(217.8 171.5)rotate(-20)"/><ellipse rx="2.7" ry="5.6" transform="translate(206.6 61.4)rotate(45)"/><circle cx="246" cy="139.8" r="1.1"/><circle cx="292.6" cy="114.8" r="1.1"/><circle cx="254.7" cy="72.7" r="1.1"/><circle cx="203" cy="178.1" r="1.1"/><ellipse rx="1.9" ry="2.9" transform="translate(268.1 67.7)rotate(-40)"/><ellipse rx="2.5" ry="3.5" transform="translate(247.2 108.9)rotate(-20)"/><ellipse rx="1.4" ry="2.5" transform="translate(259.6 81.6)rotate(-20)"/><ellipse cx="261.6" cy="111" rx="2.5" ry="2.3"/><circle cx="220.4" cy="77" r="1"/><circle cx="279.4" cy="109.3" r="1"/><circle cx="220.8" cy="71.9" r="1"/><ellipse cx="287.8" cy="60.6" rx="2.5" ry="3.2"/><circle cx="242.6" cy="107.4" r="1.1"/><ellipse cx="317.1" cy="135.5" rx="2.2" ry="3"/><circle cx="200.6" cy="67.9" r="1"/></g><g fill="none" stroke="#1c6e2b" stroke-linecap="round" stroke-linejoin="round" transform="translate(0.5 0.6)"><use href="#tr0" stroke-width="9.3"/><use href="#tr1" stroke-width="6.3"/><use href="#tr2" stroke-width="4.7"/><use href="#tr3" stroke-width="11.8"/><use href="#tr4" stroke-width="8.5"/><use href="#tr5" stroke-width="6.3"/></g><g fill="none" stroke="#35aa48" stroke-linecap="round" stroke-linejoin="round"><use href="#tr0" stroke-width="8"/><use href="#tr1" stroke-width="5"/><use href="#tr2" stroke-width="3.4"/><use href="#tr3" stroke-width="10.5"/><use href="#tr4" stroke-width="7.2"/><use href="#tr5" stroke-width="5"/></g><g fill="none" stroke="#6bdc7b" stroke-linecap="round" stroke-linejoin="round" opacity="0.3" transform="translate(-0.7 -0.8)"><use href="#tr0" stroke-width="2.4"/><use href="#tr1" stroke-width="1.5"/><use href="#tr2" stroke-width="1"/><use href="#tr3" stroke-width="3.1"/><use href="#tr4" stroke-width="2.2"/><use href="#tr5" stroke-width="1.5"/></g><g fill="url(#gR)"><ellipse cx="209.3" cy="74.2" rx="2" ry="3.5"/><ellipse rx="1.8" ry="2.2" transform="translate(293.7 160.3)rotate(25)"/><ellipse cx="197.8" cy="67.6" rx="2.9" ry="3"/><ellipse cx="176.6" cy="156.7" rx="3.2" ry="3.5"/><ellipse rx="2.4" ry="3.2" transform="translate(195.4 105.9)rotate(-20)"/><ellipse cx="277" cy="71.3" rx="1.7" ry="1.4"/><ellipse rx="1.5" ry="3.7" transform="translate(234 74.9)rotate(45)"/><circle cx="182.8" cy="59" r="1"/><ellipse cx="168.9" cy="50.6" rx="2.2" ry="4.7"/><ellipse rx="1.9" ry="2.7" transform="translate(158.7 156.8)rotate(45)"/><ellipse rx="1.4" ry="2.4" transform="translate(232.1 120.8)rotate(-40)"/><ellipse rx="1.9" ry="2.3" transform="translate(298.3 57.4)rotate(25)"/><circle cx="241.2" cy="135.9" r="1.2"/><ellipse rx="1.8" ry="1.8" transform="translate(162.8 74.6)rotate(25)"/><circle cx="254" cy="175.4" r="1.2"/><ellipse cx="203.2" cy="79.8" rx="2.3" ry="4.8"/><circle cx="302.9" cy="136.2" r="1.1"/><ellipse rx="1.7" ry="2.7" transform="translate(197.3 110.6)rotate(-40)"/><ellipse rx="1.8" ry="3.2" transform="translate(305.3 140.2)rotate(-40)"/><ellipse rx="1.4" ry="2.5" transform="translate(266.4 177.7)rotate(-20)"/><circle cx="255.4" cy="152.9" r="1"/><circle cx="199" cy="99.1" r="1"/><ellipse rx="1.6" ry="2.2" transform="translate(209.9 143.9)rotate(-40)"/><circle cx="316.7" cy="165.7" r="1.1"/><ellipse rx="1.8" ry="3" transform="translate(290.1 140.3)rotate(25)"/><ellipse rx="1.3" ry="2.6" transform="translate(282.9 55.2)rotate(-40)"/><circle cx="163.9" cy="171" r="1.1"/><ellipse cx="161.7" cy="181.5" rx="1.5" ry="2"/><ellipse rx="3" ry="4.4" transform="translate(202.7 69.5)rotate(25)"/><ellipse cx="251.1" cy="141.5" rx="2.7" ry="2"/><ellipse cx="184.1" cy="116.4" rx="2.7" ry="2.2"/><circle cx="299.6" cy="140.2" r="1.3"/><ellipse cx="304.2" cy="102" rx="2.5" ry="2.4"/><ellipse cx="195.4" cy="168.8" rx="1.3" ry="1.8"/><circle cx="238.9" cy="126.5" r="1.3"/><circle cx="258.2" cy="94" r="1"/><ellipse rx="1.6" ry="2.2" transform="translate(165.9 68.9)rotate(25)"/><ellipse rx="1.3" ry="2.8" transform="translate(219.7 126)rotate(-40)"/><ellipse cx="308.9" cy="152.8" rx="1.8" ry="2.3"/><ellipse rx="2.8" ry="3.3" transform="translate(295.6 166)rotate(25)"/><circle cx="246" cy="134.3" r="1.2"/><circle cx="168.5" cy="94.5" r="1.2"/><circle cx="221.5" cy="81.9" r="1.1"/><ellipse cx="159.3" cy="165.8" rx="1.3" ry="2.2"/><circle cx="187.2" cy="58.3" r="1.2"/><circle cx="253.4" cy="174.6" r="1.2"/><ellipse rx="2" ry="2.1" transform="translate(171.8 73.3)rotate(45)"/><ellipse rx="2.1" ry="2.5" transform="translate(282.8 172.6)rotate(-40)"/><circle cx="289.2" cy="133.1" r="1.1"/><circle cx="235.5" cy="168.7" r="1.1"/><circle cx="199.8" cy="57" r="1"/><ellipse rx="1.5" ry="2.4" transform="translate(299.2 126.3)rotate(-40)"/><circle cx="268.7" cy="172.7" r="1.1"/><ellipse cx="270.3" cy="103.6" rx="1.7" ry="1.8"/><circle cx="165.9" cy="133.1" r="1.2"/><circle cx="202.5" cy="111.3" r="1"/><ellipse cx="328.8" cy="56.9" rx="1.9" ry="2.2"/><ellipse cx="185" cy="68.5" rx="1.6" ry="3.9"/><ellipse cx="251.2" cy="128" rx="1.7" ry="2.5"/><ellipse cx="286.2" cy="83.8" rx="2.2" ry="3.5"/><ellipse rx="1.2" ry="2.1" transform="translate(291.7 180)rotate(-20)"/><circle cx="201.8" cy="124" r="1"/><circle cx="184.1" cy="133.4" r="1.3"/><ellipse cx="266.1" cy="65.7" rx="1.3" ry="2.8"/><ellipse rx="2.9" ry="4.8" transform="translate(262.9 147.9)rotate(-40)"/><ellipse rx="1.6" ry="1.6" transform="translate(218.7 144.2)rotate(45)"/><ellipse cx="237.6" cy="92.7" rx="2" ry="4.4"/><ellipse cx="269.7" cy="103.1" rx="1.8" ry="3.7"/><ellipse cx="317" cy="175.6" rx="1.5" ry="2.1"/><circle cx="233" cy="80.3" r="1.1"/></g><g fill="url(#gB)"><circle cx="209.6" cy="182.2" r="1.2"/><circle cx="307.3" cy="165.5" r="1.2"/><ellipse rx="1.9" ry="1.7" transform="translate(206.9 93.7)rotate(45)"/><ellipse cx="194.7" cy="56.4" rx="2.7" ry="4"/><ellipse rx="1.2" ry="3" transform="translate(291.9 108.1)rotate(-40)"/><circle cx="184.3" cy="171.3" r="1.1"/><ellipse rx="1.4" ry="2.1" transform="translate(218.8 149.8)rotate(45)"/><circle cx="310.6" cy="180.3" r="1.1"/><ellipse cx="277.3" cy="54.5" rx="1.4" ry="2.2"/><circle cx="161.4" cy="181.8" r="1.3"/><ellipse cx="242.3" cy="67.5" rx="1.2" ry="2.5"/><circle cx="285.7" cy="116.3" r="1.1"/><circle cx="316.9" cy="96.1" r="1.2"/><circle cx="284.5" cy="85.9" r="1.2"/><ellipse cx="165.5" cy="117.4" rx="1.5" ry="1.9"/><ellipse rx="1.7" ry="2.9" transform="translate(277 136.7)rotate(25)"/><ellipse cx="227.1" cy="91.9" rx="1.8" ry="2"/><ellipse rx="2.3" ry="4.9" transform="translate(228.9 68.5)rotate(25)"/><ellipse cx="278" cy="146.9" rx="3.4" ry="5"/><ellipse rx="2" ry="3.3" transform="translate(265.4 53.9)rotate(45)"/><ellipse rx="2.2" ry="5.2" transform="translate(253 91.6)rotate(25)"/><circle cx="260.5" cy="182.3" r="1.2"/><ellipse rx="1.4" ry="2.3" transform="translate(223.5 144.5)rotate(25)"/><ellipse cx="170.5" cy="155.9" rx="2.3" ry="3.5"/><ellipse rx="1.4" ry="2.1" transform="translate(303.5 164)rotate(-40)"/><ellipse cx="318.4" cy="120" rx="1.6" ry="3"/><ellipse rx="1.6" ry="2.8" transform="translate(187.8 159.2)rotate(-40)"/><ellipse rx="2.4" ry="3.5" transform="translate(213.7 97.7)rotate(45)"/><ellipse cx="175.8" cy="97" rx="2.4" ry="3.4"/><ellipse rx="2" ry="3" transform="translate(226.4 182.6)rotate(-20)"/><ellipse rx="1.7" ry="2.6" transform="translate(159 66.8)rotate(45)"/><circle cx="201.7" cy="123.7" r="1.1"/><ellipse cx="211" cy="122.2" rx="2.4" ry="3.3"/><circle cx="248.9" cy="115.3" r="1.1"/><ellipse cx="208.2" cy="153.7" rx="3" ry="3.7"/><ellipse cx="288.3" cy="179" rx="1.5" ry="1.8"/><ellipse rx="2.3" ry="3.5" transform="translate(305 66.7)rotate(-40)"/><circle cx="273.1" cy="93.4" r="1.1"/><ellipse rx="3" ry="2.5" transform="translate(249 115.7)rotate(45)"/><ellipse cx="319.8" cy="143" rx="1.8" ry="1.6"/><ellipse cx="226.8" cy="67.5" rx="1.6" ry="2.6"/><circle cx="251.7" cy="173.1" r="1.3"/><ellipse cx="237.6" cy="61.4" rx="2.6" ry="2.3"/><ellipse cx="304.7" cy="78.2" rx="1.7" ry="1.7"/><ellipse cx="307.3" cy="122.9" rx="2.5" ry="2.3"/><circle cx="166.7" cy="133.1" r="1.3"/><ellipse rx="1.3" ry="2.2" transform="translate(190.2 121.4)rotate(25)"/><ellipse rx="1.1" ry="1.8" transform="translate(254.1 117.7)rotate(45)"/><circle cx="306.2" cy="83.7" r="1.2"/><ellipse rx="1.6" ry="2.1" transform="translate(222.7 111.4)rotate(-20)"/><ellipse cx="237" cy="143.8" rx="2.2" ry="1.8"/><circle cx="322.6" cy="159.4" r="1.1"/><ellipse rx="3.1" ry="4" transform="translate(192.7 77.4)rotate(-20)"/><ellipse rx="1.6" ry="1.4" transform="translate(309.9 57.1)rotate(-40)"/><circle cx="298.9" cy="115.8" r="1.1"/><ellipse rx="2.3" ry="3.9" transform="translate(186.4 78.9)rotate(-20)"/><circle cx="183.2" cy="172" r="1.2"/><ellipse rx="1.5" ry="1.7" transform="translate(293.7 176.4)rotate(45)"/><ellipse cx="184.8" cy="57" rx="1.6" ry="3.8"/><circle cx="198.3" cy="127.2" r="1.3"/><ellipse rx="2" ry="4.5" transform="translate(315.8 92.7)rotate(45)"/><circle cx="326.5" cy="93.2" r="1.1"/><circle cx="278.1" cy="75.9" r="1.1"/><ellipse rx="1.4" ry="1.5" transform="translate(227.4 54.6)rotate(-40)"/><ellipse cx="208.3" cy="95.9" rx="2.2" ry="4.4"/><ellipse cx="241.9" cy="164.8" rx="1.8" ry="1.8"/><ellipse cx="204.9" cy="168.7" rx="2.1" ry="4.9"/><ellipse cx="261.6" cy="178.6" rx="1.6" ry="2.2"/><circle cx="215.6" cy="109.5" r="1.2"/><circle cx="294.3" cy="89.2" r="1.1"/><ellipse rx="1.7" ry="1.7" transform="translate(253.4 154.7)rotate(-40)"/><ellipse rx="1.7" ry="1.4" transform="translate(229.5 142.5)rotate(-20)"/><circle cx="220.2" cy="137.9" r="1.1"/><circle cx="302.8" cy="89.9" r="1.2"/><ellipse rx="1.5" ry="2" transform="translate(184.5 85.5)rotate(-40)"/><circle cx="245.7" cy="98.4" r="1.2"/><ellipse cx="180" cy="81.4" rx="2.5" ry="5"/><ellipse cx="321.2" cy="114.7" rx="2.4" ry="4"/><circle cx="287.8" cy="69.9" r="1.2"/><ellipse cx="247.6" cy="88.4" rx="2.1" ry="4.2"/><ellipse rx="1.6" ry="2.5" transform="translate(261 154.1)rotate(-40)"/><ellipse rx="2.3" ry="2.6" transform="translate(165.1 132)rotate(45)"/><circle cx="260.4" cy="73.8" r="1.3"/><circle cx="163.6" cy="154.8" r="1.1"/><circle cx="296" cy="152.3" r="1.2"/><circle cx="280.6" cy="58.3" r="1.1"/><circle cx="248.9" cy="93.5" r="1.1"/><ellipse rx="1.3" ry="2.3" transform="translate(307.9 56.1)rotate(-20)"/><ellipse rx="2.2" ry="2.7" transform="translate(297 115.2)rotate(25)"/><ellipse cx="314.5" cy="148.9" rx="2.8" ry="3.9"/><ellipse rx="2.3" ry="5.2" transform="translate(300.8 154.2)rotate(-40)"/><ellipse cx="169.8" cy="154" rx="2.6" ry="4.5"/><ellipse rx="2.7" ry="5.2" transform="translate(259.7 124.4)rotate(-40)"/><ellipse rx="2.5" ry="4.7" transform="translate(225.8 154.1)rotate(45)"/><ellipse rx="2.2" ry="3.3" transform="translate(322 79.9)rotate(45)"/><ellipse rx="1.2" ry="1.6" transform="translate(295.2 50)rotate(45)"/><circle cx="229.1" cy="89.4" r="1.1"/><circle cx="226.1" cy="111.6" r="1.1"/><ellipse cx="190.4" cy="168.2" rx="1.4" ry="1.7"/><ellipse cx="266.5" cy="99.6" rx="2.5" ry="3.4"/><ellipse cx="187" cy="96.4" rx="2.8" ry="4.9"/><ellipse rx="2.4" ry="4.4" transform="translate(213.1 166.5)rotate(45)"/><circle cx="249.2" cy="49.4" r="1.2"/><ellipse rx="1.1" ry="2.1" transform="translate(298 82.9)rotate(45)"/><circle cx="181.4" cy="150" r="1.2"/><circle cx="215.3" cy="85" r="1.3"/><ellipse cx="276.7" cy="174.7" rx="1.8" ry="3.9"/><ellipse cx="277.6" cy="51.8" rx="3.1" ry="2.7"/><circle cx="211.8" cy="117.9" r="1.1"/><circle cx="322" cy="113.9" r="1.1"/><ellipse rx="2" ry="1.8" transform="translate(190.5 172)rotate(25)"/><ellipse cx="266.5" cy="81.7" rx="1.7" ry="3.5"/><ellipse cx="172.6" cy="176.3" rx="1.9" ry="3.9"/><ellipse rx="2.4" ry="2.3" transform="translate(314.2 92.7)rotate(-20)"/><circle cx="192.7" cy="157.3" r="1.1"/><ellipse cx="275.9" cy="170.7" rx="2.2" ry="3.2"/><ellipse rx="2.6" ry="4.3" transform="translate(278 85.8)rotate(45)"/><ellipse cx="176.8" cy="84.2" rx="1.3" ry="2.9"/><ellipse rx="1.7" ry="2.5" transform="translate(193.3 170.8)rotate(25)"/><ellipse cx="165.6" cy="86.7" rx="1.8" ry="3.2"/></g></g></g><rect x="333.2" y="25.2" width="173.8" height="20.8" fill="#231f20"/><text x="337.3" y="40.6" font-size="11" font-weight="bold" fill="#3fae49" textLength="33" lengthAdjust="spacingAndGlyphs">eGFP</text><text x="383.5" y="40.6" font-size="11" font-weight="bold" fill="#2e5eb4" textLength="45.8" lengthAdjust="spacingAndGlyphs">Homer1</text><text x="500.2" y="40.6" font-size="11" text-anchor="end" font-weight="bold" fill="#e04a2a" textLength="50.2" lengthAdjust="spacingAndGlyphs">vGlut1/2</text><g transform="translate(175.2 0)"><g clip-path="url(#cb0)"><rect x="158" y="49.4" width="174" height="133.6" fill="#020202"/><g fill="url(#gR)"><ellipse rx="2" ry="3.9" transform="translate(171.2 101.7)rotate(-40)"/><circle cx="202.9" cy="152.5" r="1"/><circle cx="219.2" cy="175" r="1.1"/><ellipse cx="252.9" cy="150.1" rx="1.9" ry="3.7"/><ellipse rx="3.2" ry="5.1" transform="translate(211.1 135.5)rotate(45)"/><ellipse cx="303.6" cy="154.9" rx="2.4" ry="3.7"/><circle cx="307.6" cy="144.5" r="1"/><circle cx="318.4" cy="88" r="1.1"/><ellipse cx="169.6" cy="49.8" rx="1.5" ry="2.4"/><ellipse cx="284.1" cy="154.3" rx="2.3" ry="2.1"/><circle cx="305" cy="81.3" r="1"/><ellipse rx="1.2" ry="2.2" transform="translate(325.8 173.7)rotate(45)"/><circle cx="263.9" cy="86.2" r="1"/><circle cx="205.2" cy="77.9" r="1.1"/><circle cx="326.6" cy="156.6" r="1.3"/><circle cx="303.1" cy="92.8" r="1"/><ellipse cx="205.6" cy="57.3" rx="1.5" ry="2.6"/><circle cx="301.1" cy="64.2" r="1.1"/><circle cx="215.3" cy="125.3" r="1.1"/><ellipse cx="303.2" cy="157.4" rx="1.2" ry="2.9"/><circle cx="245.3" cy="106" r="1"/><ellipse rx="1.6" ry="1.8" transform="translate(259.2 102.9)rotate(-40)"/><circle cx="297.1" cy="177.8" r="1.2"/><ellipse cx="240.7" cy="67.3" rx="1.6" ry="2.5"/><ellipse rx="1.2" ry="1.5" transform="translate(217.1 74.8)rotate(-40)"/><ellipse rx="1.7" ry="2.5" transform="translate(233.9 75.8)rotate(25)"/><ellipse cx="287.3" cy="176.1" rx="3.1" ry="4.9"/><ellipse cx="193.6" cy="51.1" rx="2.9" ry="4.2"/><ellipse cx="219.5" cy="71.3" rx="2.3" ry="2.3"/><ellipse cx="188.3" cy="96.9" rx="3.1" ry="3.9"/><ellipse rx="2.2" ry="4.7" transform="translate(176.5 70)rotate(25)"/><circle cx="240.4" cy="159.2" r="1"/><circle cx="245.9" cy="77.4" r="1.1"/><ellipse cx="280.9" cy="175.7" rx="2.9" ry="5.4"/><circle cx="298.5" cy="161.8" r="1"/><circle cx="259.3" cy="100" r="1"/><ellipse cx="238.2" cy="55.2" rx="2.7" ry="2.6"/><ellipse cx="266.1" cy="167.7" rx="1.6" ry="1.7"/><circle cx="314.7" cy="100.5" r="1"/><ellipse cx="192.6" cy="110.4" rx="1.8" ry="3"/><circle cx="169.7" cy="146.2" r="1"/><circle cx="274.4" cy="144.8" r="1.1"/><ellipse cx="239.6" cy="68.3" rx="2.9" ry="2.7"/><ellipse rx="1.5" ry="2.5" transform="translate(328.7 80)rotate(-40)"/><circle cx="200" cy="170.7" r="1.1"/><ellipse rx="3.3" ry="2.8" transform="translate(227.5 175.1)rotate(45)"/><circle cx="203.5" cy="69.9" r="1"/><circle cx="326.4" cy="144.3" r="1.1"/><ellipse cx="246.6" cy="63.5" rx="2.7" ry="4.6"/><ellipse rx="2.4" ry="4" transform="translate(305.3 123.7)rotate(-40)"/><ellipse rx="1.8" ry="3.1" transform="translate(280.1 137.8)rotate(-20)"/><ellipse rx="2.3" ry="2.5" transform="translate(162.2 160.2)rotate(-20)"/><ellipse rx="1.4" ry="2.7" transform="translate(274.2 180.8)rotate(-40)"/><ellipse cx="284.3" cy="162.9" rx="2" ry="3.4"/><ellipse cx="289.9" cy="69.1" rx="2.2" ry="3.2"/><ellipse cx="171" cy="64.6" rx="2.1" ry="3.1"/><ellipse rx="2.3" ry="3.4" transform="translate(228.5 131)rotate(-40)"/><circle cx="302.8" cy="145.1" r="1"/><circle cx="232.5" cy="166.7" r="1.1"/><circle cx="280.2" cy="83.2" r="1.2"/><ellipse rx="3.3" ry="6.1" transform="translate(174.4 108.6)rotate(25)"/><ellipse rx="1" ry="1.6" transform="translate(205.4 82.8)rotate(25)"/><circle cx="158.3" cy="152.4" r="1.1"/><ellipse cx="185.9" cy="54.1" rx="2.4" ry="3.3"/><circle cx="179.1" cy="110.6" r="1.1"/><ellipse rx="2.8" ry="5.2" transform="translate(200.4 172)rotate(-20)"/><ellipse cx="195.7" cy="150.3" rx="2.9" ry="3.8"/><ellipse cx="321.9" cy="131" rx="1.5" ry="3.7"/><ellipse rx="2.3" ry="5.7" transform="translate(225.6 95.1)rotate(-20)"/><ellipse cx="271.5" cy="129.3" rx="1.8" ry="2"/><circle cx="160.5" cy="97.7" r="1"/><circle cx="325.7" cy="141.3" r="1.2"/><ellipse rx="1.5" ry="1.9" transform="translate(175.3 89.9)rotate(-40)"/><circle cx="307" cy="110.9" r="1.2"/><circle cx="293.7" cy="63.6" r="1.1"/><circle cx="266.1" cy="162.4" r="1"/><circle cx="272.5" cy="91.1" r="1.1"/><circle cx="302.8" cy="57" r="1.1"/><circle cx="168.7" cy="88.9" r="1.2"/><circle cx="219.5" cy="121.8" r="1.1"/><ellipse cx="222.1" cy="71.6" rx="2.3" ry="3.8"/><circle cx="289.6" cy="173.9" r="1"/><circle cx="289.9" cy="163.4" r="1.1"/><circle cx="159.3" cy="62.7" r="1.3"/><circle cx="239.8" cy="114.5" r="1"/><ellipse cx="228" cy="114.2" rx="3.4" ry="3.9"/><ellipse cx="191" cy="84.9" rx="1.2" ry="1.8"/><circle cx="246.1" cy="114.1" r="1.1"/><circle cx="318.6" cy="99.7" r="1"/><circle cx="248.2" cy="117.6" r="1.2"/><ellipse rx="1.9" ry="4.3" transform="translate(239 175.8)rotate(-40)"/><circle cx="193.5" cy="138" r="1.3"/><circle cx="241.3" cy="73.4" r="1"/><ellipse cx="162.2" cy="112.2" rx="2.2" ry="2.5"/><circle cx="262.7" cy="136.4" r="1"/><circle cx="286.1" cy="163.9" r="1.3"/><ellipse cx="197.3" cy="129.3" rx="2.1" ry="3.1"/><circle cx="233.9" cy="68.2" r="1.1"/><ellipse cx="320.5" cy="103.1" rx="1.5" ry="4"/><ellipse rx="2.9" ry="6" transform="translate(240.5 117.8)rotate(-20)"/><circle cx="191.3" cy="112.3" r="1.2"/><circle cx="326.7" cy="150.4" r="1"/><ellipse cx="280.6" cy="125.4" rx="2" ry="4.3"/><ellipse cx="298.4" cy="130.4" rx="1.5" ry="2"/><ellipse cx="255.2" cy="86" rx="1.6" ry="2.9"/><circle cx="213.6" cy="150" r="1.1"/><circle cx="299.8" cy="154.9" r="1.1"/><ellipse cx="184.1" cy="148.9" rx="3.3" ry="3"/><ellipse cx="299.8" cy="178.7" rx="2.1" ry="4.9"/><circle cx="181.9" cy="59.2" r="1.3"/><ellipse rx="1.4" ry="2.2" transform="translate(280.1 127.3)rotate(25)"/><circle cx="313.5" cy="178" r="1.1"/><ellipse cx="256.7" cy="73.7" rx="1.8" ry="2.4"/><circle cx="248.6" cy="139.9" r="1"/><ellipse rx="1.8" ry="3.4" transform="translate(239.6 139.2)rotate(-20)"/><ellipse rx="3.7" ry="3" transform="translate(238.5 92.7)rotate(45)"/><ellipse cx="227.4" cy="67.3" rx="2" ry="3.8"/><ellipse cx="243.5" cy="98.2" rx="3.3" ry="6"/><ellipse cx="246.2" cy="167.6" rx="1.9" ry="2.6"/><circle cx="215.4" cy="121.9" r="1.3"/><ellipse cx="298.4" cy="142" rx="2.2" ry="2.7"/><ellipse rx="1.4" ry="2" transform="translate(266.9 88.4)rotate(-20)"/><ellipse cx="221.9" cy="163" rx="1.6" ry="1.8"/><circle cx="273.2" cy="151.8" r="1"/><circle cx="229.3" cy="124.3" r="1"/><circle cx="172.8" cy="82.7" r="1.1"/><circle cx="293.9" cy="81" r="1"/><circle cx="192.3" cy="112.2" r="1"/><circle cx="287.3" cy="166.3" r="1.2"/><circle cx="203.9" cy="57.9" r="1"/><ellipse rx="1.3" ry="2.5" transform="translate(308.2 93.3)rotate(-40)"/><ellipse cx="288" cy="161.5" rx="1.2" ry="1.3"/><circle cx="170.5" cy="112.5" r="1"/><ellipse cx="236.2" cy="112" rx="2.5" ry="4.5"/><ellipse cx="233.3" cy="51.2" rx="2.4" ry="5.4"/><ellipse cx="287.9" cy="116.4" rx="1.4" ry="1.5"/><circle cx="162.1" cy="117.9" r="1.1"/><ellipse cx="191.3" cy="74" rx="3.8" ry="6"/><circle cx="168.7" cy="111.2" r="1.2"/><ellipse rx="1.3" ry="1.7" transform="translate(279.4 157)rotate(25)"/><ellipse rx="1.3" ry="3.1" transform="translate(173.4 56)rotate(45)"/><ellipse rx="2.5" ry="4.5" transform="translate(163.2 92.2)rotate(45)"/><circle cx="249.6" cy="153" r="1"/><ellipse cx="241.7" cy="83.1" rx="1.7" ry="2.5"/><circle cx="281.2" cy="152.3" r="1.3"/><circle cx="319.6" cy="132.1" r="1"/><ellipse cx="206.2" cy="54.4" rx="3.6" ry="3.2"/><circle cx="265.1" cy="89.5" r="1"/><ellipse cx="233.7" cy="60.8" rx="1.1" ry="2.7"/><circle cx="207.8" cy="152" r="1"/><ellipse rx="2.1" ry="2.7" transform="translate(186.4 120.5)rotate(45)"/><ellipse cx="280.5" cy="97.8" rx="2.6" ry="4.2"/><ellipse cx="321.1" cy="175" rx="2" ry="2.4"/><ellipse rx="1.1" ry="2.4" transform="translate(298.3 150.8)rotate(45)"/><circle cx="176.5" cy="158.1" r="1.2"/><circle cx="239.2" cy="181.7" r="1"/><circle cx="187.9" cy="148.9" r="1.2"/><ellipse rx="1.3" ry="3.1" transform="translate(300.1 164.7)rotate(-40)"/><ellipse cx="322.7" cy="93.1" rx="2.9" ry="3.1"/><ellipse rx="1" ry="1.5" transform="translate(222.8 96.5)rotate(45)"/><ellipse rx="2" ry="3.1" transform="translate(288.8 152.2)rotate(-40)"/><ellipse rx="2.5" ry="2.6" transform="translate(329.4 146.7)rotate(45)"/><circle cx="233.6" cy="90.4" r="1.1"/><circle cx="167.5" cy="169.1" r="1.1"/><ellipse rx="2.7" ry="5.2" transform="translate(306.3 176.9)rotate(45)"/><ellipse rx="1.6" ry="2.8" transform="translate(321.7 112.2)rotate(25)"/><circle cx="201.1" cy="62.8" r="1.2"/><circle cx="197.3" cy="58.8" r="1"/><ellipse rx="2.9" ry="3" transform="translate(237.9 103.1)rotate(45)"/><ellipse rx="2.8" ry="3.3" transform="translate(213.1 95.5)rotate(-40)"/><ellipse cx="241.7" cy="105" rx="2.8" ry="3"/><ellipse cx="220.8" cy="177.5" rx="1.6" ry="4"/><ellipse rx="2" ry="2.1" transform="translate(260.2 107.2)rotate(25)"/><ellipse rx="1.4" ry="2.4" transform="translate(175.6 155.5)rotate(45)"/><circle cx="185.3" cy="134.5" r="1"/><ellipse cx="329.6" cy="118.3" rx="3" ry="5.4"/><ellipse cx="308.7" cy="130.2" rx="1.5" ry="2.6"/><ellipse cx="161" cy="136.1" rx="2.1" ry="4.2"/><ellipse rx="3.2" ry="4.8" transform="translate(167.6 116.9)rotate(-20)"/><ellipse rx="1.4" ry="2.7" transform="translate(246.4 174)rotate(45)"/><ellipse rx="1.5" ry="2" transform="translate(181.6 141.3)rotate(-40)"/><circle cx="174" cy="50.2" r="1.2"/><ellipse rx="1.3" ry="2.5" transform="translate(199 83.6)rotate(-20)"/><circle cx="326.9" cy="145.8" r="1"/><ellipse cx="195.3" cy="161.1" rx="1.4" ry="2"/><ellipse cx="308.4" cy="165.4" rx="2.8" ry="3.8"/><ellipse rx="1.5" ry="2.9" transform="translate(187.7 78.3)rotate(-20)"/><ellipse cx="185.9" cy="104.2" rx="1.6" ry="2"/><circle cx="172.7" cy="75.2" r="1.2"/><ellipse cx="241" cy="108.2" rx="3" ry="6.1"/><circle cx="192.2" cy="128.5" r="1"/><ellipse cx="279.3" cy="178.6" rx="1.2" ry="1.9"/><circle cx="277.5" cy="101.8" r="1"/><ellipse rx="2" ry="3.5" transform="translate(159.1 162.9)rotate(45)"/><circle cx="322.7" cy="132.2" r="1.1"/><ellipse cx="158.7" cy="141.1" rx="2" ry="2.5"/><ellipse rx="1.9" ry="3.7" transform="translate(256.9 78.7)rotate(25)"/><ellipse cx="178" cy="169.3" rx="1.8" ry="3"/><ellipse rx="2.5" ry="4.1" transform="translate(243.8 98)rotate(45)"/><ellipse cx="178.1" cy="83.4" rx="1.8" ry="3.4"/><ellipse rx="2.5" ry="2.2" transform="translate(296.4 58.4)rotate(25)"/><ellipse cx="300.1" cy="70.8" rx="1.5" ry="2.3"/><circle cx="297.4" cy="69" r="1.1"/><ellipse rx="3.4" ry="4.3" transform="translate(284.9 145.6)rotate(-40)"/><ellipse rx="1.9" ry="3.7" transform="translate(291.7 69.2)rotate(45)"/><ellipse cx="174.1" cy="166" rx="2.3" ry="4.5"/><circle cx="167.7" cy="66" r="1"/><circle cx="177.4" cy="71" r="1.1"/><ellipse cx="325.7" cy="97.6" rx="2.9" ry="4.1"/><ellipse cx="198.2" cy="179.6" rx="3.4" ry="3.4"/><ellipse rx="1.7" ry="3.3" transform="translate(184.3 96.3)rotate(-40)"/><ellipse cx="293.5" cy="122.5" rx="2" ry="3.8"/><ellipse rx="1.3" ry="1.5" transform="translate(267.6 137.6)rotate(-20)"/><circle cx="243.9" cy="141.4" r="1.1"/><ellipse rx="3.3" ry="3.8" transform="translate(317.6 143.1)rotate(-20)"/><ellipse rx="1.7" ry="2.8" transform="translate(256.6 146.7)rotate(-20)"/><circle cx="212.7" cy="99.7" r="1.2"/><ellipse rx="3.3" ry="3.9" transform="translate(294.3 159.1)rotate(25)"/><ellipse rx="1.7" ry="3.5" transform="translate(296.6 94.4)rotate(-40)"/><circle cx="243.1" cy="160.1" r="1"/><ellipse rx="1.7" ry="1.4" transform="translate(229.7 88.7)rotate(-20)"/><circle cx="175.8" cy="86.4" r="1"/><ellipse cx="283.7" cy="83.7" rx="2.3" ry="2.2"/><ellipse rx="1.7" ry="2.6" transform="translate(282.9 78.1)rotate(45)"/><ellipse cx="291" cy="141.9" rx="1.7" ry="3.1"/><ellipse rx="2.3" ry="5.6" transform="translate(276.2 142.6)rotate(25)"/><ellipse rx="1.8" ry="1.7" transform="translate(167.3 181.4)rotate(45)"/><ellipse cx="306.4" cy="84.1" rx="1.5" ry="1.4"/><circle cx="294.9" cy="167.4" r="1.1"/><ellipse rx="2.6" ry="5.1" transform="translate(171.9 88.3)rotate(-40)"/><circle cx="269.6" cy="161.4" r="1.1"/><circle cx="196.6" cy="164" r="1.1"/><circle cx="185.9" cy="182.6" r="1.2"/><ellipse cx="224.3" cy="132.9" rx="2.5" ry="4.2"/><ellipse rx="1.4" ry="1.9" transform="translate(212.1 57.5)rotate(-20)"/><ellipse cx="317.7" cy="70.8" rx="2" ry="2.7"/><ellipse rx="1.3" ry="2" transform="translate(181.7 112.2)rotate(25)"/><circle cx="186" cy="167.8" r="1.3"/><ellipse cx="182.3" cy="127.2" rx="2.8" ry="4.6"/><circle cx="163" cy="76.7" r="1"/><ellipse rx="1.8" ry="4.1" transform="translate(255.4 176.1)rotate(-20)"/><circle cx="220.3" cy="130.2" r="1.2"/><circle cx="326.3" cy="58" r="1"/><ellipse rx="2.7" ry="4.3" transform="translate(245.8 65.2)rotate(-20)"/><circle cx="275.3" cy="144.7" r="1"/><ellipse rx="1.3" ry="2.3" transform="translate(325.6 91.2)rotate(-20)"/><circle cx="160.3" cy="76.5" r="1.1"/><ellipse rx="2.6" ry="3.4" transform="translate(319.2 85.1)rotate(45)"/><ellipse rx="1.9" ry="2.5" transform="translate(329.7 53)rotate(25)"/><ellipse cx="247" cy="106.6" rx="2" ry="2.4"/></g><g fill="url(#gB)"><ellipse cx="232" cy="120.4" rx="1.2" ry="1.8"/><ellipse cx="317" cy="98.8" rx="1.3" ry="1.8"/><circle cx="295.9" cy="66.1" r="1.2"/><ellipse cx="243.9" cy="111.3" rx="2.4" ry="2.6"/><ellipse rx="2.5" ry="4.9" transform="translate(318.2 50.2)rotate(45)"/><circle cx="232.3" cy="113" r="1"/><circle cx="166.5" cy="181.4" r="1.1"/><ellipse cx="192.3" cy="84.1" rx="2.5" ry="3"/><ellipse cx="288.5" cy="59.3" rx="2.2" ry="3.9"/><circle cx="232.7" cy="173.9" r="1"/><ellipse rx="3.4" ry="5.5" transform="translate(259.6 115.9)rotate(-40)"/><circle cx="207.3" cy="54.7" r="1"/><circle cx="191.1" cy="103.4" r="1.1"/><ellipse cx="236.5" cy="81.5" rx="1.6" ry="2.5"/><circle cx="228.6" cy="121" r="1.2"/><circle cx="272.4" cy="93.5" r="1"/><circle cx="170" cy="60.7" r="1"/><ellipse rx="1.7" ry="2" transform="translate(266.7 100.5)rotate(45)"/><ellipse cx="208.5" cy="174.2" rx="2.4" ry="2.6"/><ellipse cx="180" cy="141" rx="2.1" ry="4.2"/><circle cx="281.7" cy="156.4" r="1"/><circle cx="258.9" cy="146" r="1.3"/><ellipse cx="281.2" cy="86.4" rx="2.9" ry="2.7"/><ellipse rx="1.5" ry="3.6" transform="translate(283.6 164.9)rotate(-40)"/><circle cx="297.7" cy="61.7" r="1.1"/><ellipse rx="2" ry="3.1" transform="translate(172.6 90.3)rotate(45)"/><ellipse rx="3" ry="3.3" transform="translate(325.7 135.5)rotate(45)"/><circle cx="283.8" cy="66.3" r="1.3"/><circle cx="265.2" cy="137.5" r="1"/><circle cx="261.4" cy="55.2" r="1.2"/><ellipse rx="1.6" ry="2.9" transform="translate(235.1 99.5)rotate(25)"/><circle cx="208.7" cy="160.3" r="1"/><ellipse cx="275.9" cy="146.8" rx="2.8" ry="3.7"/><ellipse rx="3" ry="3.5" transform="translate(220.3 136.8)rotate(25)"/><circle cx="267.9" cy="142.1" r="1.2"/><ellipse rx="1.7" ry="3.3" transform="translate(163.6 177.9)rotate(-20)"/><ellipse cx="216.9" cy="112.5" rx="2.3" ry="2.3"/><circle cx="192.1" cy="169.2" r="1"/><circle cx="230.7" cy="177.4" r="1.2"/><circle cx="269" cy="144.6" r="1.3"/><circle cx="200.5" cy="54.3" r="1.1"/><ellipse rx="1.2" ry="1.9" transform="translate(184.4 154.2)rotate(25)"/><circle cx="328.7" cy="101.8" r="1.1"/><circle cx="177.7" cy="92.3" r="1"/><ellipse rx="1.5" ry="1.7" transform="translate(193.8 126.8)rotate(-20)"/><ellipse cx="198.4" cy="127.7" rx="1.5" ry="1.6"/><ellipse cx="269.5" cy="129.8" rx="1.3" ry="1.8"/><ellipse cx="230" cy="97.9" rx="2.2" ry="5.6"/><ellipse rx="1.6" ry="1.6" transform="translate(306.2 81.9)rotate(25)"/><ellipse cx="204.6" cy="153.1" rx="1.8" ry="1.4"/><ellipse cx="197.4" cy="132.9" rx="2.7" ry="3.5"/><circle cx="296.3" cy="63.4" r="1.1"/><ellipse cx="329.8" cy="61.6" rx="1.2" ry="1.3"/><ellipse rx="1.4" ry="1.7" transform="translate(173.7 98.7)rotate(25)"/><ellipse rx="1.5" ry="2.1" transform="translate(327.9 72)rotate(-20)"/><ellipse cx="196.1" cy="101.2" rx="2.6" ry="3.9"/><ellipse rx="2.4" ry="2.8" transform="translate(289.7 132)rotate(25)"/><circle cx="181.8" cy="139.4" r="1"/><circle cx="313.4" cy="79.1" r="1"/><circle cx="250" cy="97.6" r="1.1"/><ellipse rx="1.9" ry="3.2" transform="translate(186.5 171.9)rotate(25)"/><ellipse cx="276" cy="139.7" rx="1.5" ry="1.7"/><circle cx="269.6" cy="142.1" r="1.1"/><ellipse cx="264.1" cy="72.3" rx="1.4" ry="2.4"/><circle cx="241.6" cy="131.8" r="1"/><ellipse cx="252.5" cy="131.8" rx="2.4" ry="2.7"/><ellipse rx="2" ry="3.2" transform="translate(301.6 125.1)rotate(-40)"/><ellipse rx="1.4" ry="3.6" transform="translate(270.9 63.6)rotate(-20)"/><circle cx="204.3" cy="162.4" r="1.1"/><ellipse rx="1.6" ry="2.4" transform="translate(160.7 168.3)rotate(-20)"/><circle cx="193.1" cy="169.4" r="1.2"/><ellipse cx="169.4" cy="59" rx="1.5" ry="2"/><ellipse cx="206.2" cy="172.3" rx="3.2" ry="5.7"/><ellipse cx="295.7" cy="86.9" rx="3.2" ry="5"/><ellipse cx="173.8" cy="173" rx="1.7" ry="3.2"/><ellipse rx="2.2" ry="2.6" transform="translate(279 111.4)rotate(25)"/><ellipse cx="204.8" cy="176.8" rx="1.3" ry="2"/><ellipse cx="174.4" cy="108.2" rx="2.3" ry="3"/><ellipse cx="266" cy="151.7" rx="2.6" ry="3.2"/><ellipse cx="243.8" cy="171.3" rx="2.3" ry="5.1"/><circle cx="189.9" cy="179.1" r="1.1"/><ellipse cx="201" cy="125.7" rx="2.4" ry="3.6"/><ellipse rx="2.3" ry="4.6" transform="translate(206.8 128.7)rotate(25)"/><ellipse cx="201.9" cy="160.4" rx="1.7" ry="2.7"/><ellipse rx="2.9" ry="4.4" transform="translate(292.5 88.4)rotate(45)"/><ellipse cx="302.4" cy="144.7" rx="1.6" ry="1.5"/><ellipse cx="313.2" cy="91.9" rx="1.8" ry="2.3"/><circle cx="282.9" cy="161.7" r="1.1"/><circle cx="269.7" cy="114.3" r="1"/><ellipse rx="1.5" ry="2.7" transform="translate(234.9 168.2)rotate(25)"/><ellipse cx="267.1" cy="128.8" rx="2.4" ry="3.8"/><circle cx="297.6" cy="180.4" r="1.1"/><circle cx="298.6" cy="156.5" r="1"/><circle cx="192.2" cy="76.9" r="1.1"/><ellipse rx="2.4" ry="3.3" transform="translate(189.6 49.4)rotate(45)"/><circle cx="177.7" cy="79.3" r="1"/><ellipse rx="2.6" ry="2.9" transform="translate(278.6 153.7)rotate(45)"/><circle cx="270.7" cy="120.7" r="1.1"/><ellipse rx="2" ry="3" transform="translate(297.8 149.3)rotate(25)"/><ellipse rx="2.5" ry="4.5" transform="translate(188.8 103.7)rotate(45)"/><ellipse rx="3.1" ry="3.2" transform="translate(322.8 170)rotate(45)"/><ellipse cx="327.2" cy="51.2" rx="1.9" ry="3.5"/><ellipse rx="2.3" ry="2.4" transform="translate(180.7 89.5)rotate(-40)"/><ellipse cx="271.8" cy="52.3" rx="1.3" ry="2.3"/><circle cx="180.2" cy="139" r="1.2"/><circle cx="252.4" cy="157.4" r="1"/><ellipse cx="320" cy="52.8" rx="2" ry="2.3"/><circle cx="244.7" cy="104.8" r="1"/><ellipse cx="325.3" cy="100.6" rx="1.2" ry="2.9"/><ellipse cx="269.8" cy="160.6" rx="1.5" ry="1.6"/><ellipse rx="2.2" ry="3.7" transform="translate(165.3 109.4)rotate(25)"/><circle cx="220.5" cy="130" r="1.1"/><circle cx="303" cy="65.8" r="1"/><ellipse cx="272.8" cy="154.9" rx="2.7" ry="5"/><ellipse cx="296.4" cy="103.5" rx="1.8" ry="2.9"/><circle cx="296.1" cy="61.3" r="1"/><ellipse rx="1.4" ry="2.2" transform="translate(299 123.2)rotate(45)"/><ellipse cx="201.6" cy="81.6" rx="1.9" ry="4.4"/><ellipse cx="321.4" cy="103.9" rx="2.1" ry="1.8"/><ellipse cx="278" cy="127.9" rx="1.9" ry="3.1"/><ellipse rx="1.5" ry="2.1" transform="translate(233.6 87)rotate(-40)"/><circle cx="174.3" cy="118.4" r="1.2"/><circle cx="302" cy="88.3" r="1.2"/><ellipse cx="246.8" cy="128.9" rx="1.5" ry="2.5"/><ellipse cx="321.7" cy="163.8" rx="1.9" ry="3.7"/><circle cx="298.1" cy="51.4" r="1.1"/><ellipse cx="277.3" cy="173.6" rx="1.1" ry="2.2"/><ellipse rx="1.9" ry="2.6" transform="translate(296.6 74)rotate(45)"/><circle cx="225.6" cy="106.2" r="1.3"/><ellipse rx="1.7" ry="1.9" transform="translate(270.5 103.2)rotate(25)"/><ellipse rx="2.2" ry="4.4" transform="translate(329.7 111.6)rotate(-20)"/><circle cx="302.2" cy="166.9" r="1.2"/><ellipse rx="2.7" ry="4.5" transform="translate(212.1 98.6)rotate(-20)"/><ellipse rx="1.6" ry="3.1" transform="translate(173.3 168.6)rotate(-20)"/><ellipse cx="282" cy="79.3" rx="2.3" ry="4.8"/><circle cx="204.3" cy="102.1" r="1"/><circle cx="160.2" cy="164.5" r="1.3"/><circle cx="197.5" cy="83.2" r="1"/><circle cx="258.7" cy="116.7" r="1.1"/><ellipse cx="222.4" cy="181.6" rx="2.2" ry="5.1"/><ellipse cx="281" cy="157.6" rx="2.1" ry="3.8"/><ellipse rx="1.1" ry="2.3" transform="translate(251.4 84.9)rotate(25)"/><ellipse rx="2.5" ry="3.1" transform="translate(261.7 172.6)rotate(25)"/><circle cx="245.7" cy="54.5" r="1.1"/><ellipse cx="203" cy="86" rx="1.4" ry="2"/><ellipse rx="1.7" ry="2.1" transform="translate(256 172.3)rotate(-20)"/><ellipse rx="1.6" ry="2.5" transform="translate(194.2 77.3)rotate(45)"/><circle cx="295.2" cy="133.8" r="1.1"/><circle cx="171.1" cy="109.9" r="1"/><ellipse cx="323.1" cy="104.7" rx="2.9" ry="4"/><ellipse cx="210.7" cy="115.1" rx="1.4" ry="2"/><circle cx="263" cy="182.5" r="1.1"/><ellipse rx="1.6" ry="2.4" transform="translate(174.2 56.8)rotate(-40)"/><circle cx="259.4" cy="126.9" r="1"/><ellipse cx="265.4" cy="58.1" rx="1.5" ry="2.4"/><ellipse rx="2.5" ry="2.4" transform="translate(175.7 147.1)rotate(25)"/><ellipse rx="1.7" ry="3.9" transform="translate(165.9 166.8)rotate(-20)"/><circle cx="218.8" cy="112" r="1"/><circle cx="167.1" cy="90.4" r="1.1"/><ellipse rx="1.8" ry="3.8" transform="translate(311.5 156.1)rotate(-20)"/><ellipse rx="1.9" ry="3.2" transform="translate(265.8 113.3)rotate(-40)"/><ellipse rx="2.3" ry="2.4" transform="translate(183.6 144.2)rotate(-20)"/><ellipse rx="1.1" ry="2.3" transform="translate(296.5 81.2)rotate(25)"/><ellipse cx="264.3" cy="68.3" rx="2.7" ry="2.4"/><circle cx="311.3" cy="176.6" r="1"/><circle cx="324.4" cy="88" r="1.3"/><ellipse rx="1.9" ry="4.7" transform="translate(167.1 65.7)rotate(-40)"/><ellipse cx="214.5" cy="58.9" rx="1.6" ry="2"/><ellipse rx="1.6" ry="2.1" transform="translate(309.9 163.4)rotate(-40)"/><ellipse rx="2.1" ry="2.1" transform="translate(195.5 174.9)rotate(25)"/><ellipse rx="2.4" ry="4.3" transform="translate(174.9 151.8)rotate(25)"/><circle cx="327.2" cy="66.7" r="1.1"/><ellipse cx="183.1" cy="139.8" rx="1.6" ry="2.3"/><circle cx="264.3" cy="99.1" r="1"/><circle cx="309" cy="76.3" r="1.2"/><ellipse cx="286.1" cy="172.3" rx="2.3" ry="3"/><circle cx="174.1" cy="103.1" r="1.1"/><ellipse cx="159.2" cy="170.8" rx="1.1" ry="1.9"/><circle cx="321.2" cy="133" r="1"/><circle cx="259.7" cy="107.6" r="1.3"/><circle cx="305.2" cy="166.5" r="1"/><ellipse rx="1.2" ry="2.8" transform="translate(178.3 107.7)rotate(25)"/><ellipse rx="2.8" ry="4.5" transform="translate(223.7 172.5)rotate(25)"/><circle cx="243.5" cy="102.2" r="1.1"/><circle cx="246.4" cy="74.9" r="1"/><ellipse cx="324.8" cy="95.2" rx="1.9" ry="3.3"/><ellipse rx="1.1" ry="1.7" transform="translate(225.9 70.2)rotate(25)"/><ellipse cx="315.8" cy="170.4" rx="2.8" ry="5.8"/><ellipse cx="317.3" cy="134.9" rx="2.5" ry="5.4"/><circle cx="304.7" cy="158.9" r="1.3"/><ellipse rx="1.1" ry="2.5" transform="translate(288.2 112)rotate(-40)"/><circle cx="268.2" cy="182" r="1.2"/><ellipse cx="272.5" cy="141" rx="1.4" ry="2"/><ellipse rx="2.5" ry="4.4" transform="translate(211.4 64.7)rotate(45)"/><ellipse cx="267.5" cy="81.4" rx="1.8" ry="3.8"/><ellipse rx="1.6" ry="3.2" transform="translate(224.7 182.9)rotate(-40)"/><circle cx="298.7" cy="56.9" r="1.2"/><ellipse rx="2.6" ry="2.7" transform="translate(244.2 89.3)rotate(-20)"/><ellipse cx="273.5" cy="141.5" rx="1.6" ry="2.5"/><ellipse cx="169.6" cy="123.3" rx="1.6" ry="1.8"/><ellipse cx="163.9" cy="147.8" rx="1.6" ry="2.6"/><ellipse cx="190.2" cy="73.6" rx="2.3" ry="4.2"/><ellipse cx="297.6" cy="129" rx="1.8" ry="3"/><ellipse cx="326.5" cy="139.2" rx="1.7" ry="1.6"/><circle cx="197.9" cy="162" r="1"/><circle cx="293.4" cy="145.4" r="1.2"/><circle cx="209.7" cy="146" r="1.3"/><ellipse rx="1.6" ry="1.2" transform="translate(299.1 181.1)rotate(-40)"/><ellipse cx="259.9" cy="141.9" rx="2" ry="2.7"/><circle cx="270.2" cy="129.3" r="1.1"/><ellipse rx="2.5" ry="2.8" transform="translate(311.8 93)rotate(-20)"/><ellipse rx="2.3" ry="2.4" transform="translate(268.1 108.6)rotate(-20)"/><circle cx="284.1" cy="75.8" r="1.2"/><ellipse cx="218.3" cy="146.9" rx="1.4" ry="3"/><circle cx="288" cy="69.1" r="1"/><ellipse rx="2.5" ry="5.1" transform="translate(204.7 167.5)rotate(25)"/><ellipse cx="202.1" cy="176.3" rx="2.2" ry="3.8"/><ellipse cx="192.3" cy="106.9" rx="2.1" ry="5.1"/><circle cx="160.3" cy="169.6" r="1.2"/><circle cx="221.5" cy="65.4" r="1.1"/><ellipse cx="235.2" cy="90.2" rx="1.8" ry="2.8"/><ellipse cx="316.8" cy="155.1" rx="1.6" ry="2.2"/><circle cx="311.2" cy="130.7" r="1"/><circle cx="163.8" cy="143" r="1.1"/><ellipse cx="218.6" cy="116" rx="1.6" ry="3.2"/><ellipse cx="328" cy="74.5" rx="1.6" ry="2.5"/><circle cx="183.8" cy="120" r="1.1"/><circle cx="265.8" cy="164.4" r="1"/><circle cx="239.4" cy="173.9" r="1.2"/><ellipse rx="2.3" ry="4.1" transform="translate(217.5 178.5)rotate(-40)"/><ellipse cx="277.2" cy="110.9" rx="2.6" ry="5.4"/><ellipse cx="183.9" cy="74.8" rx="1.8" ry="2.2"/><circle cx="176" cy="121.7" r="1.2"/><circle cx="238.1" cy="85.5" r="1.2"/><circle cx="190.4" cy="73.1" r="1.1"/><circle cx="190.6" cy="146.5" r="1"/><circle cx="304.3" cy="55.3" r="1"/><circle cx="320.8" cy="137.7" r="1.1"/><circle cx="255.8" cy="120" r="1.2"/><circle cx="307.2" cy="81.9" r="1"/><circle cx="204.6" cy="114.4" r="1.3"/><ellipse rx="3" ry="4.9" transform="translate(278.6 117)rotate(-40)"/><ellipse cx="228.1" cy="67.6" rx="1.9" ry="4.1"/><ellipse cx="309.6" cy="116.7" rx="2.5" ry="2.8"/><circle cx="318.4" cy="98" r="1"/><circle cx="189.7" cy="118.6" r="1"/><circle cx="197.5" cy="55.7" r="1.1"/><ellipse rx="2.2" ry="3.6" transform="translate(308.4 137.1)rotate(-20)"/><ellipse rx="1.4" ry="1.4" transform="translate(182.8 140.4)rotate(-20)"/><circle cx="297.2" cy="180.1" r="1"/><ellipse rx="2.1" ry="2.9" transform="translate(283.2 149)rotate(-40)"/><ellipse cx="271.5" cy="128.1" rx="1.7" ry="2.4"/><ellipse cx="231.7" cy="105.7" rx="1.4" ry="1.9"/><ellipse rx="2.4" ry="2.7" transform="translate(231.8 99)rotate(45)"/><circle cx="243.8" cy="72.8" r="1"/><ellipse rx="2.4" ry="3.5" transform="translate(184.2 56.3)rotate(-20)"/><circle cx="302.7" cy="81.6" r="1.1"/><circle cx="239.3" cy="101.2" r="1.1"/><ellipse cx="306.4" cy="64.7" rx="2.2" ry="3.1"/><ellipse rx="1.7" ry="4" transform="translate(183.1 57.5)rotate(45)"/><ellipse cx="294.4" cy="174.5" rx="1.8" ry="3.9"/><ellipse cx="228.7" cy="116.7" rx="2.6" ry="3.3"/><circle cx="195.6" cy="168.8" r="1"/><ellipse rx="3.3" ry="2.9" transform="translate(283.9 118.6)rotate(-40)"/><ellipse cx="177.2" cy="104.2" rx="1.9" ry="2.4"/><circle cx="179.5" cy="124.3" r="1.1"/><circle cx="313.8" cy="118.2" r="1.1"/><circle cx="293.3" cy="70.2" r="1.1"/><circle cx="186.6" cy="75.1" r="1"/><ellipse rx="1.3" ry="1.8" transform="translate(226.4 150.9)rotate(-40)"/></g><mask id="mo" maskUnits="userSpaceOnUse" x="158" y="49.4" width="174" height="133.6"><g fill="none" stroke="#fff" stroke-linecap="round" stroke-linejoin="round"><use href="#tr0" stroke-width="8.5"/><use href="#tr1" stroke-width="5.5"/><use href="#tr2" stroke-width="3.9"/><use href="#tr3" stroke-width="11"/><use href="#tr4" stroke-width="7.7"/><use href="#tr5" stroke-width="5.5"/></g><g fill="none" stroke="#000" stroke-linecap="round" stroke-linejoin="round"><use href="#tr0" stroke-width="7.1"/><use href="#tr1" stroke-width="4.1"/><use href="#tr2" stroke-width="2.5"/><use href="#tr3" stroke-width="9.6"/><use href="#tr4" stroke-width="6.3"/><use href="#tr5" stroke-width="4.1"/></g></mask><rect x="158" y="49.4" width="174" height="133.6" fill="#48a538" mask="url(#mo)"/></g></g><text x="161" y="61.5" font-size="10.2" font-weight="bold" fill="#fff" textLength="107" lengthAdjust="spacingAndGlyphs">3D reconstruction</text><text x="336.8" y="61.5" font-size="10.2" font-weight="bold" fill="#fff" textLength="131" lengthAdjust="spacingAndGlyphs">Transparent astrocyte</text><polygon points="274.5,94 289.5,88.5 284.5,94.5 287.5,100.5" fill="#fff"/><polygon points="454.5,90.5 468.5,85.5 464.5,91 467,96.5" fill="#fff"/><rect x="287.5" y="174.3" width="39" height="3.2" fill="#fff"/><text x="307.5" y="171.3" font-size="10.6" text-anchor="middle" font-weight="bold" fill="#fff" textLength="33" lengthAdjust="spacingAndGlyphs">10µm</text>
<!-- panel_c -->
<text x="508.6" y="10.6" font-size="14.5" font-weight="bold" fill="#111">c</text><rect x="575.4" y="76.6" width="21.8" height="75.4" fill="#0d9bd8"/><rect x="602.7" y="124.7" width="21.8" height="27.3" fill="#2a57a9"/><rect x="629.8" y="90.9" width="21.4" height="61.1" fill="#d67a9a"/><rect x="656" y="91.5" width="21.7" height="60.5" fill="#e0302d"/><line x1="563.3" y1="21.5" x2="563.3" y2="152.5" stroke="#1a1a1a" stroke-width="1.2"/><line x1="559.1" y1="152" x2="563.3" y2="152" stroke="#1a1a1a" stroke-width="1.2"/><text x="556.5" y="156.2" font-size="11.6" text-anchor="end">0</text><line x1="559.1" y1="126" x2="563.3" y2="126" stroke="#1a1a1a" stroke-width="1.2"/><text x="556.5" y="130.2" font-size="11.6" text-anchor="end" textLength="14.8" lengthAdjust="spacingAndGlyphs">20</text><line x1="559.1" y1="100" x2="563.3" y2="100" stroke="#1a1a1a" stroke-width="1.2"/><text x="556.5" y="104.2" font-size="11.6" text-anchor="end" textLength="14.8" lengthAdjust="spacingAndGlyphs">40</text><line x1="559.1" y1="74" x2="563.3" y2="74" stroke="#1a1a1a" stroke-width="1.2"/><text x="556.5" y="78.2" font-size="11.6" text-anchor="end" textLength="14.8" lengthAdjust="spacingAndGlyphs">60</text><line x1="559.1" y1="48" x2="563.3" y2="48" stroke="#1a1a1a" stroke-width="1.2"/><text x="556.5" y="52.2" font-size="11.6" text-anchor="end" textLength="14.8" lengthAdjust="spacingAndGlyphs">80</text><line x1="559.1" y1="22" x2="563.3" y2="22" stroke="#1a1a1a" stroke-width="1.2"/><text x="556.5" y="26.2" font-size="11.6" text-anchor="end" textLength="22.3" lengthAdjust="spacingAndGlyphs">100</text><line x1="586.4" y1="63" x2="586.4" y2="88" stroke="#222" stroke-width="1.1"/><line x1="581.6" y1="63" x2="591.2" y2="63" stroke="#222" stroke-width="1.1"/><line x1="581.6" y1="88" x2="591.2" y2="88" stroke="#222" stroke-width="1.1"/><line x1="613.8" y1="120.5" x2="613.8" y2="126.5" stroke="#222" stroke-width="1.1"/><line x1="610.2" y1="120.5" x2="617.4" y2="120.5" stroke="#222" stroke-width="1.1"/><line x1="610.2" y1="126.5" x2="617.4" y2="126.5" stroke="#222" stroke-width="1.1"/><line x1="640.4" y1="84" x2="640.4" y2="96" stroke="#222" stroke-width="1.1"/><line x1="635.4" y1="84" x2="645.4" y2="84" stroke="#222" stroke-width="1.1"/><line x1="635.4" y1="96" x2="645.4" y2="96" stroke="#222" stroke-width="1.1"/><line x1="666.7" y1="82.2" x2="666.7" y2="99.3" stroke="#222" stroke-width="1.1"/><line x1="661.7" y1="82.2" x2="671.7" y2="82.2" stroke="#222" stroke-width="1.1"/><line x1="661.7" y1="99.3" x2="671.7" y2="99.3" stroke="#222" stroke-width="1.1"/><g fill="#fff" stroke="#000" stroke-width="0.95"><circle cx="586.4" cy="34.2" r="1.8"/><circle cx="586.4" cy="63.8" r="1.8"/><circle cx="586.4" cy="82.8" r="1.8"/><circle cx="586.4" cy="95.1" r="1.8"/><circle cx="586.4" cy="103" r="1.8"/><circle cx="614" cy="111.8" r="1.8"/><circle cx="620" cy="121.5" r="1.8"/><circle cx="607" cy="125.7" r="1.8"/><circle cx="620.6" cy="127" r="1.8"/><circle cx="607.5" cy="131" r="1.8"/><circle cx="633.2" cy="77" r="1.8"/><circle cx="646.9" cy="78.3" r="1.8"/><circle cx="640.3" cy="88" r="1.8"/><circle cx="640.3" cy="99.8" r="1.8"/><circle cx="640.3" cy="107.8" r="1.8"/><circle cx="666.6" cy="66.5" r="1.8"/><circle cx="666.6" cy="76.7" r="1.8"/><circle cx="666.6" cy="93.3" r="1.8"/><circle cx="666.6" cy="102.6" r="1.8"/><circle cx="666.6" cy="114" r="1.8"/></g><line x1="587.2" y1="17.9" x2="614.8" y2="17.9" stroke="#1a1a1a" stroke-width="1"/><text x="601.4" y="21.8" font-size="18" text-anchor="middle" textLength="14.4" lengthAdjust="spacingAndGlyphs">**</text><text font-size="12.4" text-anchor="middle" textLength="125.4" lengthAdjust="spacingAndGlyphs" transform="translate(519.2 89.1) rotate(-90)">Synpases contacted</text><text font-size="12.4" text-anchor="middle" textLength="105.5" lengthAdjust="spacingAndGlyphs" transform="translate(536.4 86.8) rotate(-90)">by astrocytes (n)</text><text font-size="12.2" text-anchor="end" textLength="32.6" lengthAdjust="spacingAndGlyphs" transform="translate(587.7 155.6) rotate(-90)">Naive</text><text font-size="12.2" text-anchor="end" textLength="36.6" lengthAdjust="spacingAndGlyphs" transform="translate(615.2 155.6) rotate(-90)">Stress</text><text font-size="12.2" text-anchor="end" textLength="32.6" lengthAdjust="spacingAndGlyphs" transform="translate(644.4 155.6) rotate(-90)">Naive</text><text font-size="12.2" text-anchor="end" textLength="36.6" lengthAdjust="spacingAndGlyphs" transform="translate(672.4 155.6) rotate(-90)">Stress</text><line x1="580" y1="196" x2="619.6" y2="196" stroke="#333" stroke-width="1.3"/><line x1="635.2" y1="196" x2="675.8" y2="196" stroke="#333" stroke-width="1.3"/><text x="603" y="211.8" font-size="11.6" text-anchor="middle" textLength="19.7" lengthAdjust="spacingAndGlyphs">WT</text><text x="655.5" y="211.8" font-size="11.6" text-anchor="middle" textLength="33.7" lengthAdjust="spacingAndGlyphs">GFAP</text><text x="658.2" y="225.6" font-size="11.6" text-anchor="middle" textLength="56" lengthAdjust="spacingAndGlyphs">OTR cKO</text>
<!-- panel_d -->
<text x="1.5" y="250.8" font-size="14.5" font-weight="bold" fill="#111">d</text><g transform="translate(49.6 243) scale(0.1022)"><path d="M395,175 C430,150 470,130 515,132 C545,135 540,165 488,196" fill="none" stroke="#b17f76" stroke-width="13" stroke-linecap="round"/><path d="M205,262 L198,300 L178,312 L215,318 L228,270 Z" fill="#b88479"/><path d="M312,290 L318,332 L302,345 L350,348 L340,290 Z" fill="#b88479"/><path d="M385,215 L415,228 L405,236 L380,232 Z" fill="#b88479"/><path d="M118,150 C125,120 150,95 165,85 C170,70 180,55 192,52 C198,70 200,90 212,100 C250,95 300,100 340,115 C375,128 400,160 405,200 C405,235 385,260 345,272 L342,300 L300,302 L296,278 C260,282 225,278 205,265 C180,250 165,225 150,195 C135,185 118,170 118,150 Z" fill="#4b4b4d"/><path d="M160,98 C165,80 178,62 190,56 C194,70 195,86 200,98 Z" fill="#a8776e"/><ellipse cx="285" cy="104" rx="33" ry="45" fill="#b5857c" transform="rotate(-18 285 104)"/><ellipse cx="282" cy="108" rx="22" ry="34" fill="#c4948a" transform="rotate(-18 282 108)"/><circle cx="205" cy="133" r="8" fill="#1c1416"/><circle cx="128" cy="148" r="9" fill="#b88479"/></g><text x="82.5" y="294.8" font-size="12.6" text-anchor="middle" textLength="78" lengthAdjust="spacingAndGlyphs">OTR fl/fl mice</text><line x1="28.4" y1="305.8" x2="138" y2="305.8" stroke="#33363b" stroke-width="1.2"/><polygon points="26.4,305.8 29.8,303.7 29.8,307.9" fill="#33363b"/><circle cx="138.4" cy="305.8" r="1.7" fill="#33363b"/><rect x="32.3" y="300.2" width="6.5" height="11.2" fill="#d3d6dc"/><rect x="127" y="300.2" width="5.9" height="11.2" fill="#d3d6dc"/><rect x="41" y="300.2" width="19.7" height="11.2" fill="#a1a6b0"/><rect x="63.2" y="300.2" width="60.8" height="11.2" fill="#3bb44a"/><text font-size="5.5" text-anchor="middle" fill="#2e3136" transform="translate(37.5 305.8) rotate(-90)">ITR</text><text font-size="5.5" text-anchor="middle" fill="#2e3136" transform="translate(131.9 305.8) rotate(-90)">ITR</text><text x="44.8" y="308.3" font-size="7.8" fill="#3a3d42">P</text><text x="49.6" y="309.6" font-size="3.4" fill="#3a3d42">GFAP</text><text x="93.6" y="308.5" font-size="7.5" text-anchor="middle" fill="#2a2d2f" textLength="52" lengthAdjust="spacingAndGlyphs">GFP-IRES-Cre</text><line x1="28.4" y1="320.6" x2="138" y2="320.6" stroke="#33363b" stroke-width="1.2"/><polygon points="26.4,320.6 29.8,318.5 29.8,322.7" fill="#33363b"/><circle cx="138.4" cy="320.6" r="1.7" fill="#33363b"/><rect x="32.3" y="315" width="6.5" height="11.2" fill="#d3d6dc"/><rect x="127" y="315" width="5.9" height="11.2" fill="#d3d6dc"/><rect x="41" y="315" width="19.7" height="11.2" fill="#a1a6b0"/><rect x="63.2" y="315" width="60.8" height="11.2" fill="#e6be2a"/><text font-size="5.5" text-anchor="middle" fill="#2e3136" transform="translate(37.5 320.6) rotate(-90)">ITR</text><text font-size="5.5" text-anchor="middle" fill="#2e3136" transform="translate(131.9 320.6) rotate(-90)">ITR</text><text x="42.6" y="323.1" font-size="7.8" fill="#3a3d42">P</text><text x="47.4" y="324.4" font-size="3.4" fill="#3a3d42">CaMKIIa</text><text x="93.6" y="323.3" font-size="7.5" text-anchor="middle" fill="#2a2d2f" textLength="42.9" lengthAdjust="spacingAndGlyphs">ChR2-EYFP</text><g transform="translate(89.3 346.6) scale(0.1781) translate(-342 -22)"><path d="M344,58 C338,35 320,24 290,24 C220,26 140,50 95,100 C55,150 35,220 35,275 C35,340 60,420 105,465 C130,488 170,496 190,488 C212,475 226,445 240,412 C250,440 270,465 300,476 C320,482 335,480 344,472 Z" fill="#c6cad0"/><path d="M344,58 C338,35 320,24 290,24 C220,26 140,50 95,100 C55,150 35,220 35,275 C35,340 60,420 105,465 C130,488 170,496 190,488 C212,475 226,445 240,412 C250,440 270,465 300,476 C320,482 335,480 344,472" fill="none" stroke="#e6e8eb" stroke-width="6"/><path d="M343,66 C336,44 318,34 290,34 C222,36 148,58 103,106 C65,154 45,222 45,275 C45,338 68,414 111,457 C134,478 168,486 187,479" fill="none" stroke="#a4aab3" stroke-width="1.9"/><path d="M344,124 C332,108 312,96 286,94 C246,92 205,108 180,132 C150,165 135,210 134,262 C134,302 148,340 172,366 C198,388 230,398 245,415 C256,442 276,462 302,473 C322,480 336,478 344,470 L344,124 Z" fill="#e4e6e9"/><path d="M205,108 C160,145 120,215 116,290 C114,330 122,362 134,392" fill="none" stroke="#e4e6e9" stroke-width="5"/><path d="M349,190 C310,184 240,184 205,196 C184,212 174,262 181,302 C190,342 222,372 252,400 C264,430 282,455 306,465 C325,470 338,468 349,462 Z" fill="#cbcfd5"/><path d="M230,300 C242,325 270,334 305,330" fill="none" stroke="#e0e2e6" stroke-width="6" stroke-linecap="round"/><path d="M216,226 C206,245 206,270 216,286" fill="none" stroke="#e0e2e6" stroke-width="6" stroke-linecap="round"/><ellipse cx="313" cy="258" rx="8" ry="13" fill="#e4e6e9"/><circle cx="302" cy="375" r="5" fill="#e4e6e9"/><ellipse cx="293" cy="432" rx="6" ry="9" fill="#e4e6e9"/><path d="M176,183 C178,140 225,112 291,110 C316,112 331,126 337,152 L326,172 C310,160 290,151 271,152 C250,152 232,151 215,162 C200,172 188,181 176,183 Z" fill="#eceef0" stroke="#7c838e" stroke-width="2.4"/><path d="M196,170 C212,142 258,128 298,131 C314,135 322,146 319,160" fill="none" stroke="#8f96a0" stroke-width="1.6"/><path d="M226,157 C248,141 280,138 303,149 C282,146 252,146 226,157 Z" fill="#d5d8dd" stroke="#8f96a0" stroke-width="1.4"/><path d="M154,184 C147,212 148,246 162,270 C168,272 166,262 164,250 C160,228 160,205 160,186 Z" fill="#fff" stroke="#c0c4ca" stroke-width="1"/><g transform="translate(684 0) scale(-1 1)"><path d="M344,58 C338,35 320,24 290,24 C220,26 140,50 95,100 C55,150 35,220 35,275 C35,340 60,420 105,465 C130,488 170,496 190,488 C212,475 226,445 240,412 C250,440 270,465 300,476 C320,482 335,480 344,472 Z" fill="#c6cad0"/><path d="M344,58 C338,35 320,24 290,24 C220,26 140,50 95,100 C55,150 35,220 35,275 C35,340 60,420 105,465 C130,488 170,496 190,488 C212,475 226,445 240,412 C250,440 270,465 300,476 C320,482 335,480 344,472" fill="none" stroke="#e6e8eb" stroke-width="6"/><path d="M343,66 C336,44 318,34 290,34 C222,36 148,58 103,106 C65,154 45,222 45,275 C45,338 68,414 111,457 C134,478 168,486 187,479" fill="none" stroke="#a4aab3" stroke-width="1.9"/><path d="M344,124 C332,108 312,96 286,94 C246,92 205,108 180,132 C150,165 135,210 134,262 C134,302 148,340 172,366 C198,388 230,398 245,415 C256,442 276,462 302,473 C322,480 336,478 344,470 L344,124 Z" fill="#e4e6e9"/><path d="M205,108 C160,145 120,215 116,290 C114,330 122,362 134,392" fill="none" stroke="#e4e6e9" stroke-width="5"/><path d="M349,190 C310,184 240,184 205,196 C184,212 174,262 181,302 C190,342 222,372 252,400 C264,430 282,455 306,465 C325,470 338,468 349,462 Z" fill="#cbcfd5"/><path d="M230,300 C242,325 270,334 305,330" fill="none" stroke="#e0e2e6" stroke-width="6" stroke-linecap="round"/><path d="M216,226 C206,245 206,270 216,286" fill="none" stroke="#e0e2e6" stroke-width="6" stroke-linecap="round"/><ellipse cx="313" cy="258" rx="8" ry="13" fill="#e4e6e9"/><circle cx="302" cy="375" r="5" fill="#e4e6e9"/><ellipse cx="293" cy="432" rx="6" ry="9" fill="#e4e6e9"/><path d="M176,183 C178,140 225,112 291,110 C316,112 331,126 337,152 L326,172 C310,160 290,151 271,152 C250,152 232,151 215,162 C200,172 188,181 176,183 Z" fill="#eceef0" stroke="#7c838e" stroke-width="2.4"/><path d="M196,170 C212,142 258,128 298,131 C314,135 322,146 319,160" fill="none" stroke="#8f96a0" stroke-width="1.6"/><path d="M226,157 C248,141 280,138 303,149 C282,146 252,146 226,157 Z" fill="#d5d8dd" stroke="#8f96a0" stroke-width="1.4"/><path d="M154,184 C147,212 148,246 162,270 C168,272 166,262 164,250 C160,228 160,205 160,186 Z" fill="#fff" stroke="#c0c4ca" stroke-width="1"/></g><path d="M342,136 L360,170 L354,196 L349,218 L342,250 L335,218 L330,196 L324,170 Z" fill="#fff" stroke="#e4e6e9" stroke-width="3"/><line x1="342" y1="50" x2="342" y2="122" stroke="#e9ebee" stroke-width="4"/><line x1="342" y1="418" x2="342" y2="470" stroke="#e3e5e8" stroke-width="3"/></g><path d="M48.6,397.5 C50.5,398.5 52.5,401 53.5,404 C55,407.5 55.5,410.5 54,411.2 C51.5,411.6 50.5,409.5 50,407 C49.3,403.5 48.3,400 48.6,397.5 Z" fill="#d9b320" stroke="#b8951c" stroke-width="0.5"/><path d="M129.6,397.5 C127.7,398.5 125.7,401 124.7,404 C123.2,407.5 122.7,410.5 124.2,411.2 C126.7,411.6 127.7,409.5 128.2,407 C128.9,403.5 129.9,400 129.6,397.5 Z" fill="#d9b320" stroke="#b8951c" stroke-width="0.5"/><circle cx="53.2" cy="399.2" r="1.9" fill="#2fa84a"/><circle cx="124.6" cy="399.8" r="1.9" fill="#2fa84a"/><g transform="translate(29.8 332.2) scale(0.1168)"><rect x="201" y="430" width="5" height="135" fill="#3a3f45"/><rect x="170" y="42" width="70" height="13" fill="#5d6268" rx="4"/><rect x="192" y="52" width="28" height="42" fill="#7d838a"/><rect x="148" y="92" width="117" height="16" fill="#969ba2" rx="5"/><rect x="165" y="106" width="78" height="326" fill="#b9bdc3"/><rect x="176" y="106" width="22" height="116" fill="#d4d7db"/><rect x="165" y="222" width="78" height="180" fill="#3aa655"/><rect x="178" y="222" width="18" height="180" fill="#fff" opacity="0.22"/><rect x="165" y="400" width="78" height="32" fill="#33373c" rx="5"/><rect x="165" y="106" width="78" height="326" fill="none" stroke="#6f747b" stroke-width="4"/></g><g transform="translate(51.5 406) rotate(-52) translate(-23.77 -65.99)"><g transform="translate(0 0) scale(0.1168)"><rect x="201" y="430" width="5" height="135" fill="#3a3f45"/><rect x="170" y="42" width="70" height="13" fill="#5d6268" rx="4"/><rect x="192" y="52" width="28" height="42" fill="#7d838a"/><rect x="148" y="92" width="117" height="16" fill="#969ba2" rx="5"/><rect x="165" y="106" width="78" height="326" fill="#b9bdc3"/><rect x="176" y="106" width="22" height="116" fill="#d4d7db"/><rect x="165" y="222" width="78" height="180" fill="#d6b83a"/><rect x="178" y="222" width="18" height="180" fill="#fff" opacity="0.22"/><rect x="165" y="400" width="78" height="32" fill="#33373c" rx="5"/><rect x="165" y="106" width="78" height="326" fill="none" stroke="#6f747b" stroke-width="4"/></g></g><rect x="168.4" y="255.4" width="35" height="81.8" rx="5.5" fill="#e9e9eb" stroke="#a5a7b0" stroke-width="2.1"/><rect x="207.4" y="255.4" width="73.8" height="81.8" rx="5.5" fill="#e9e9eb" stroke="#a5a7b0" stroke-width="2.1"/><text x="172.7" y="266" font-size="7.3" font-weight="bold" fill="#2c2c2e" textLength="16.5" lengthAdjust="spacingAndGlyphs">BLA</text><text x="212.7" y="266" font-size="7.3" font-weight="bold" fill="#2c2c2e" textLength="23" lengthAdjust="spacingAndGlyphs">CeL/C</text><path d="M194.4,295.7 C198,309 212,310.5 225,304.5 C240,297 252,295.5 259,284 L261.8,280.5" fill="none" stroke="#e0b62a" stroke-width="1.1"/><circle cx="181.3" cy="277.3" r="5.3" fill="#999da6" stroke="#70747c" stroke-width="0.7"/><circle cx="180.2" cy="319.3" r="5.3" fill="#999da6" stroke="#70747c" stroke-width="0.7"/><circle cx="229" cy="287.5" r="5.3" fill="#999da6" stroke="#70747c" stroke-width="0.7"/><circle cx="263" cy="278.1" r="5.3" fill="#999da6" stroke="#70747c" stroke-width="0.7"/><circle cx="264.5" cy="324.1" r="5.3" fill="#999da6" stroke="#70747c" stroke-width="0.7"/><circle cx="194.4" cy="295.7" r="5.3" fill="#e7c02c" stroke="#b8951c" stroke-width="0.7"/><path d="M262.8,300.1 Q257.6,289.8 262.4,284.9 Q255.8,290.6 259.6,301.5 Z" fill="#39b24a" stroke="#39b24a" stroke-width="0.6" stroke-linejoin="round"/><path d="M262.4,302 Q266.5,296.8 265.9,289.8 Q265.1,295.4 260,299.6 Z" fill="#39b24a" stroke="#39b24a" stroke-width="0.6" stroke-linejoin="round"/><path d="M260.8,299.2 Q253.9,301.6 249.2,299.6 Q254.5,303.6 261.6,302.4 Z" fill="#39b24a" stroke="#39b24a" stroke-width="0.6" stroke-linejoin="round"/><path d="M260.1,302.1 Q266.5,306.3 272.6,303.2 Q267.7,304.7 262.3,299.5 Z" fill="#39b24a" stroke="#39b24a" stroke-width="0.6" stroke-linejoin="round"/><path d="M259.7,300.1 Q257.1,307.4 260,314 Q258.9,308.2 262.7,301.5 Z" fill="#39b24a" stroke="#39b24a" stroke-width="0.6" stroke-linejoin="round"/><circle cx="261.2" cy="300.8" r="3" fill="#39b24a"/><path d="M235.4,319.4 Q230.1,311.4 222.1,310.8 Q228.3,312.4 232.4,321 Z" fill="#39b24a" stroke="#39b24a" stroke-width="0.6" stroke-linejoin="round"/><path d="M235.4,321 Q239.5,312.4 243.5,311.9 Q237.7,311.4 232.4,319.4 Z" fill="#39b24a" stroke="#39b24a" stroke-width="0.6" stroke-linejoin="round"/><path d="M233,318.8 Q226.3,324.1 221.5,322.6 Q227.5,325.7 234.8,321.6 Z" fill="#39b24a" stroke="#39b24a" stroke-width="0.6" stroke-linejoin="round"/><path d="M232.5,321.1 Q236.8,326.7 236.3,331 Q238.6,325.5 235.3,319.3 Z" fill="#39b24a" stroke="#39b24a" stroke-width="0.6" stroke-linejoin="round"/><path d="M233.4,321.8 Q241.9,323.6 245.1,327.2 Q242.5,321.6 234.4,318.6 Z" fill="#39b24a" stroke="#39b24a" stroke-width="0.6" stroke-linejoin="round"/><circle cx="233.9" cy="320.2" r="3" fill="#39b24a"/><line x1="238.2" y1="245.2" x2="232.6" y2="237.4" stroke="#444" stroke-width="0.50"/><polygon points="259.6,273.6 241,243.1 235.4,247.3" fill="#a5c6dd" stroke="#5d7c94" stroke-width="0.5" stroke-linejoin="round"/><ellipse cx="238.2" cy="245.2" rx="1.3" ry="3.5" fill="#cfe3f1" stroke="#4f6d85" stroke-width="0.6" transform="rotate(-127 238.2 245.2)"/><line x1="248.9" y1="259.4" x2="240.3" y2="248" stroke="#3f5d75" stroke-width="0.80"/><line x1="257.8" y1="270.5" x2="239.9" y2="243.9" stroke="#e4f0f8" stroke-width="0.80"/><text x="214.3" y="353.8" font-size="9.4" text-anchor="middle" textLength="70.5" lengthAdjust="spacingAndGlyphs">5ms - 20Hz 10s</text><path d="M174.5,356.2V361.8M176.5,356.2V361.8M178.5,356.2V361.8M180.5,356.2V361.8M182.5,356.2V361.8M184.5,356.2V361.8M186.5,356.2V361.8M188.5,356.2V361.8M190.5,356.2V361.8M192.5,356.2V361.8M194.5,356.2V361.8M196.5,356.2V361.8M198.5,356.2V361.8M200.5,356.2V361.8M202.5,356.2V361.8M204.5,356.2V361.8M206.5,356.2V361.8M208.5,356.2V361.8M210.5,356.2V361.8M212.5,356.2V361.8M214.4,356.2V361.8M216.4,356.2V361.8M218.4,356.2V361.8M220.4,356.2V361.8M222.4,356.2V361.8M224.4,356.2V361.8M226.4,356.2V361.8M228.4,356.2V361.8M230.4,356.2V361.8M232.4,356.2V361.8M234.4,356.2V361.8M236.4,356.2V361.8M238.4,356.2V361.8M240.4,356.2V361.8M242.4,356.2V361.8M244.4,356.2V361.8M246.4,356.2V361.8M248.4,356.2V361.8M250.4,356.2V361.8M252.4,356.2V361.8M254.4,356.2V361.8" fill="none" stroke="#c9def2" stroke-width="0.9"/><line x1="174.5" y1="361.8" x2="196.6" y2="369" stroke="#d5e5f5" stroke-width="0.80"/><line x1="254.4" y1="361.8" x2="232.7" y2="369" stroke="#d5e5f5" stroke-width="0.80"/><rect x="196.6" y="369" width="36.1" height="62.3" fill="#cfe2f4"/><polyline points="167,377.5 168.1,377.7 169.2,377.6 170.3,377.8 171.4,377.8 172.5,377.4 173.6,377.3 174.7,378 175.8,377.5 176.9,377.5 178,378.1 179.1,377.7 180.2,378 181.3,377.7 182.4,377.8 183.5,377.4 184.6,377.8 185.7,378 186.8,377.7 187.9,377.9 189,377.8 190.1,377.4 191.2,377.9 192.3,377.8 193.4,377.5 194.5,377.3 195.6,378" fill="none" stroke="#10181c" stroke-width="1.1" stroke-linejoin="round"/><polyline points="196.6,377.7 196.9,372 197,430.9 197.2,372.1 197.3,415.3 197.5,373.7 197.6,414.2 197.8,376.9 197.9,410.7 198.1,376.8 198.2,412 198.4,376.6 198.5,397.9 198.7,376.4 198.8,403.4 199,375.7 199.1,421.8 199.3,376 199.4,406.9 199.6,376.6 199.7,421.3 199.9,376.1 200,406.9 200.2,377.8 200.3,395.3 200.5,377.7 200.6,420.9 200.8,377.6 200.9,409.2 201.1,376 201.2,399 201.4,377.8 201.5,397.2 201.7,376 201.8,406.4 202,375.7 202.1,409 202.3,376.6 202.4,391.7 202.6,377 202.7,392.5 202.9,377.8 203,401.7 203.2,375.8 203.3,404 203.5,376.9 203.6,404.7 203.8,376.6 203.9,395.3 204.1,375.8 204.2,394.9 204.4,376.3 204.5,393.1 204.7,375.7 204.8,391.9 205,377.9 205.1,393.6 205.3,377.9 205.4,393.6 205.6,377.8 205.7,406 205.9,376.4 206,403.2 206.2,376.3 206.3,394 206.5,376.4 206.6,389.1 206.8,376.9 206.9,399.2 207.1,377.1 207.2,390.7 207.4,376.6 207.5,390.8 207.7,376.2 207.8,390.7 208,376.3 208.1,391.9 208.3,376.1 208.4,389.4 208.6,376.9 208.7,389 208.9,377.2 209,395.6 209.2,376.9 209.3,393 209.5,377.2 209.6,396 209.8,376.9 209.9,404.9 210.1,376.7 210.2,388 210.4,376.1 210.5,392.2 210.7,376.1 210.8,388.8 211,377.1 211.1,402.8 211.3,376.2 211.4,388.7 211.6,377 211.7,388.9 211.9,375.9 212,389.1 212.2,375.8 212.3,386.7 212.5,376.9 212.6,403.7 212.8,377.4 212.9,402.8 213.1,376.4 213.2,401.6 213.4,377.1 213.5,388 213.7,376.6 213.8,386.6 214,377.8 214.1,390.7 214.3,375.9 214.4,399.2 214.6,376.6 214.7,401.3 214.8,377.5 215,390 215.1,376.7 215.3,389.5 215.4,376.6 215.6,390.9 215.7,376 215.9,387.1 216,377.1 216.2,389.8 216.3,376.1 216.5,388.5 216.6,375.9 216.8,389.7 216.9,377.9 217.1,399.1 217.2,377.8 217.4,399.4 217.5,376.7 217.7,386.8 217.8,376.2 218,387.8 218.1,377.6 218.3,385.7 218.4,375.8 218.6,385.7 218.7,376.8 218.9,391.1 219,377.1 219.2,386.8 219.3,377.1 219.5,395.8 219.6,377.6 219.8,386.7 219.9,377.1 220.1,388.6 220.2,377.1 220.4,385.9 220.5,377.1 220.7,397.2 220.8,377 221,395.6 221.1,376.4 221.3,387.3 221.4,376.9 221.6,388.2 221.7,376.4 221.9,387.4 222,377 222.2,386.8 222.3,377.1 222.5,398.1 222.6,377.3 222.8,396.6 222.9,376.1 223.1,385.3 223.2,376.2 223.4,397.4 223.5,376.7 223.7,395.9 223.8,377.9 224,387.3 224.1,377.8 224.3,388.1 224.4,376 224.6,385.1 224.7,376 224.9,384.7 225,376.4 225.2,388.3 225.3,376.6 225.5,397.4 225.6,376.2 225.8,389.2 225.9,377.7 226.1,387.6 226.2,377.8 226.4,397 226.5,376.1 226.7,386.9 226.8,377.4 227,385.2 227.1,377 227.3,395.2 227.4,377.1 227.6,386.1 227.7,376.8 227.9,384.7 228,376.3 228.2,392.2 228.3,376.2 228.5,387.3 228.6,376.8 228.8,393 228.9,377.6 229.1,396.2 229.2,375.9 229.3,387.4 229.5,376.3 229.6,386.1 229.8,377.5 229.9,385.4 230.1,377.4 230.2,385.5 230.4,377.2 230.5,396.4 230.7,376 230.8,391.8 231,377.4 231.1,385.3 231.3,377.1 231.4,386.1 231.6,377.2 231.7,385.6 231.9,375.7 232,389.5 232.2,376.9 232.3,386.6 232.5,376.7 232.6,395 232.7,377.9" fill="none" stroke="#10181c" stroke-width="0.8" stroke-linejoin="round"/><rect x="197" y="377.4" width="35.4" height="8" fill="#10181c"/><polyline points="232.7,377.9 233.8,378.1 234.9,378.2 236,377.8 237.1,378.1 238.2,378.3 239.3,377.9 240.4,377.7 241.5,377.7 242.6,378.1 243.7,378 244.8,378.3 245.9,378.2 247,377.7 248.1,377.7 249.2,377.7 250.3,377.6 251.4,378.1 252.5,378.2 253.6,378.2 254.7,377.7 255.8,378.2 256.9,377.8 258,377.8 259.1,378.1 260.2,377.6 261.3,377.6 262.4,379.1 263.5,378.6 264.6,377.8 265.7,378 266.8,378 267.9,377.5 269,377.8 270.1,377.8 271.2,377.9 272.3,377.7 273.4,378 274.5,378.3 275.6,377.8 276.7,377.9" fill="none" stroke="#10181c" stroke-width="1.1" stroke-linejoin="round"/><line x1="254" y1="394.6" x2="254" y2="412.1" stroke="#1a1a1a" stroke-width="1"/><line x1="253.5" y1="411.6" x2="272.8" y2="411.6" stroke="#1a1a1a" stroke-width="1"/><text font-size="8.6" text-anchor="middle" textLength="25.5" lengthAdjust="spacingAndGlyphs" transform="translate(248.6 403.2) rotate(-90)">50 pA</text><text x="263.4" y="420.9" font-size="8.6" text-anchor="middle" textLength="12.5" lengthAdjust="spacingAndGlyphs">5 s</text>
<!-- panel_e -->
<text x="307.6" y="250.3" font-size="14.5" font-weight="bold" fill="#111">e</text><polygon points="364.1,319.1 365.2,312 366.3,305.6 367.3,302 368.4,299.8 369.5,296.6 370.6,294.1 371.6,289.3 372.7,287.1 373.8,282.4 374.9,280.4 375.9,281.2 377,282.5 378.1,279.7 379.1,280.8 380.2,276.1 381.3,277.2 382.4,275.1 383.4,276.1 384.5,276.4 385.6,277.4 386.7,277.7 387.7,274.8 388.8,275.5 389.9,277.8 391,273.5 392,273.9 393.1,275.9 394.2,273.5 395.2,270 396.3,272 397.4,271.9 398.5,271.5 399.5,270.4 400.6,269.4 401.7,271.5 402.8,270.2 403.8,270.2 404.9,270.2 406,268.8 407,270.5 408.1,271.5 409.2,270.3 410.3,270.8 411.3,273.6 412.4,273.9 413.5,271.3 414.6,269.5 415.6,268.1 416.7,268.4 417.8,271.1 418.8,271.8 419.9,272.9 421,274.7 422.1,276.7 423.1,277.8 424.2,275.8 425.3,275.1 426.4,274.5 427.4,274.8 428.5,278.5 429.6,276.8 430.7,276.4 431.7,277.2 432.8,279.3 433.9,279.4 434.9,280 436,277.2 437.1,279.5 438.2,279.5 439.2,279.7 440.3,276.5 441.4,276.3 442.5,275.6 443.5,273.8 444.6,273.7 445.7,276.7 446.7,275.1 447.8,274.9 448.9,275.4 450,273 451,271 452.1,271.5 453.2,269.8 454.3,268.7 455.3,269 456.4,269.3 457.5,270.2 458.6,269.1 459.6,266.8 460.7,268.9 461.8,266.5 462.8,264.8 463.9,264.3 465,266.1 466.1,266.6 467.1,266 468.2,262.8 469.3,261.7 470.4,260.1 471.4,258.9 472.5,259.7 472.5,286.6 471.4,285 470.4,284.4 469.3,285.7 468.2,286.9 467.1,286.9 466.1,287.8 465,288.2 463.9,288.6 462.8,288 461.8,288.8 460.7,288.7 459.6,288.3 458.6,290.3 457.5,293.3 456.4,292.4 455.3,294 454.3,295 453.2,295 452.1,297.3 451,297.4 450,299.3 448.9,301 447.8,301.2 446.7,301.8 445.7,302.5 444.6,302.9 443.5,305.2 442.5,306.3 441.4,306.6 440.3,306.1 439.2,309.2 438.2,307.3 437.1,309 436,310.5 434.9,312.7 433.9,312.2 432.8,311.7 431.7,310.4 430.7,312.5 429.6,312.1 428.5,313.4 427.4,310.4 426.4,309.9 425.3,308.8 424.2,310.8 423.1,309.1 422.1,309.6 421,309.9 419.9,308.8 418.8,308.1 417.8,307.9 416.7,305.2 415.6,305.3 414.6,307.4 413.5,310.8 412.4,310.2 411.3,308.7 410.3,310.8 409.2,310.4 408.1,310 407,308.2 406,309.3 404.9,311.4 403.8,311.1 402.8,309.8 401.7,311.1 400.6,309.2 399.5,310.6 398.5,309.8 397.4,309.7 396.3,309.7 395.2,309.3 394.2,311.6 393.1,312.2 392,309.5 391,311.4 389.9,315.8 388.8,315 387.7,314.2 386.7,318.6 385.6,318.9 384.5,321.6 383.4,322.5 382.4,321.6 381.3,325 380.2,324.9 379.1,327.5 378.1,327.8 377,329 375.9,329.2 374.9,330 373.8,332.2 372.7,334.1 371.6,337.9 370.6,341.9 369.5,346.3 368.4,350.2 367.3,355.2 366.3,358.6 365.2,365.7 364.1,372.4" fill="#2a57a9" opacity="0.33"/><polygon points="364.1,291.2 365.2,287.8 366.3,283.8 367.3,279.2 368.4,275.8 369.5,270.8 370.6,265.7 371.6,261.6 372.7,256.8 373.8,258 374.9,258.6 375.9,258.8 377,259.7 378.1,261.2 379.1,260.7 380.2,261.4 381.3,262.6 382.4,262.2 383.4,262.2 384.5,263.6 385.6,262.7 386.7,262.4 387.7,262.3 388.8,262.7 389.9,262.5 391,263.6 392,264.4 393.1,264 394.2,263.9 395.2,264 396.3,265 397.4,264.2 398.5,264.1 399.5,263.5 400.6,262.9 401.7,262.1 402.8,263.3 403.8,263.8 404.9,262.6 406,261.6 407,261.6 408.1,262.6 409.2,262.8 410.3,263.4 411.3,262.8 412.4,262.9 413.5,263 414.6,262.4 415.6,263.5 416.7,263.2 417.8,261.9 418.8,262.6 419.9,263 421,263.7 422.1,263.6 423.1,262.8 424.2,262.8 425.3,263.7 426.4,264.5 427.4,264.2 428.5,264.3 429.6,264.6 430.7,265.4 431.7,264.5 432.8,263.9 433.9,264.3 434.9,263.9 436,263.7 437.1,264.5 438.2,264.7 439.2,264.3 440.3,264.5 441.4,263.6 442.5,264.4 443.5,262.8 444.6,262.9 445.7,262.7 446.7,261.4 447.8,262.1 448.9,261.9 450,260.9 451,261 452.1,260.7 453.2,260.7 454.3,260.7 455.3,259.5 456.4,258.9 457.5,259.3 458.6,260.2 459.6,260.7 460.7,261 461.8,260.5 462.8,259.6 463.9,260.2 465,259.3 466.1,259.3 467.1,258.1 468.2,258.1 469.3,258 470.4,257.5 471.4,256.4 472.5,256.3 472.5,267 471.4,267 470.4,267.7 469.3,268.6 468.2,268.8 467.1,268.2 466.1,269.1 465,269.5 463.9,270.8 462.8,270.5 461.8,269.9 460.7,271 459.6,270.9 458.6,270.6 457.5,270.2 456.4,269.6 455.3,270.4 454.3,271.1 453.2,271.7 452.1,272.3 451,272.5 450,272 448.9,272.3 447.8,272.5 446.7,272.8 445.7,274.3 444.6,274.4 443.5,274.9 442.5,275.7 441.4,276.2 440.3,276.4 439.2,276.3 438.2,276.4 437.1,276.3 436,275.1 434.9,274.7 433.9,274.5 432.8,274.1 431.7,275.3 430.7,275.2 429.6,275.3 428.5,274.8 427.4,274.9 426.4,274.8 425.3,275.5 424.2,275.9 423.1,276.5 422.1,276.8 421,275.9 419.9,275.4 418.8,274.2 417.8,274.2 416.7,274.9 415.6,275.6 414.6,276.2 413.5,275.8 412.4,275.3 411.3,275.5 410.3,274.9 409.2,275.1 408.1,276 407,275.7 406,276.1 404.9,276.9 403.8,277.2 402.8,276.3 401.7,276.9 400.6,276.6 399.5,276.4 398.5,277 397.4,277.4 396.3,278.1 395.2,277.1 394.2,276.2 393.1,276.7 392,276.7 391,276.8 389.9,275.5 388.8,276.1 387.7,276.8 386.7,277.4 385.6,278.3 384.5,279.1 383.4,278.7 382.4,278.6 381.3,278.8 380.2,279.3 379.1,279.9 378.1,281.8 377,282.2 375.9,282.9 374.9,284.7 373.8,286 372.7,285.5 371.6,291.5 370.6,297.5 369.5,303.9 368.4,310.6 367.3,316.2 366.3,321.6 365.2,326.9 364.1,332" fill="#0d9bd8" opacity="0.27"/><polygon points="364.1,257.1 365.2,258 366.3,257.1 367.3,257 368.4,256.5 369.5,256.8 370.6,257.1 371.6,256.5 372.7,256.6 373.8,256.3 374.9,256.5 375.9,255.8 377,255.4 378.1,254.6 379.1,253.6 380.2,253 381.3,253.4 382.4,253.9 383.4,253.4 384.5,252.6 385.6,252.7 386.7,253.3 387.7,252.5 388.8,251.8 389.9,252.5 391,252.8 392,251.1 393.1,251.5 394.2,251.5 395.2,252.1 396.3,251.5 397.4,251.6 398.5,251.6 399.5,251.7 400.6,251.8 401.7,251.9 402.8,252.6 403.8,253.4 404.9,253.8 406,253.3 407,253.4 408.1,254.5 409.2,254.5 410.3,254.5 411.3,254.5 412.4,254.7 413.5,254.8 414.6,253.9 415.6,255 416.7,255 417.8,255.7 418.8,256 419.9,255.8 421,256.4 422.1,255.5 423.1,255.4 424.2,255.4 425.3,256.1 426.4,256.2 427.4,255.7 428.5,255.7 429.6,256 430.7,257 431.7,257.8 432.8,257.5 433.9,257.5 434.9,258.3 436,258.5 437.1,258.7 438.2,259.5 439.2,259.1 440.3,259.1 441.4,259.1 442.5,257.8 443.5,257.8 444.6,257.1 445.7,256.5 446.7,256.2 447.8,256.4 448.9,256.4 450,256.1 451,255.9 452.1,255.6 453.2,255.6 454.3,254.9 455.3,254.7 456.4,254.7 457.5,254.1 458.6,254.5 459.6,254.6 460.7,254.5 461.8,254.5 462.8,254 463.9,253.4 465,253.5 466.1,253.4 467.1,252.6 468.2,252.5 469.3,253.6 470.4,253.2 471.4,253.8 472.5,252.6 472.5,263.9 471.4,265 470.4,264.9 469.3,265.4 468.2,265.1 467.1,264.9 466.1,264.6 465,265 463.9,265.5 462.8,265.5 461.8,265.9 460.7,266 459.6,265.9 458.6,265.8 457.5,265.9 456.4,266.5 455.3,267.1 454.3,267.1 453.2,267.7 452.1,266.8 451,267.6 450,267.3 448.9,267.8 447.8,267.9 446.7,268.8 445.7,269.7 444.6,269.9 443.5,270.2 442.5,270.4 441.4,271.5 440.3,271.7 439.2,272.3 438.2,273.3 437.1,272.2 436,272.5 434.9,273.2 433.9,273.1 432.8,273.5 431.7,273.3 430.7,272.8 429.6,272.9 428.5,272.9 427.4,273.4 426.4,273.7 425.3,273.3 424.2,273.1 423.1,273.1 422.1,273.4 421,274.4 419.9,274.8 418.8,274.1 417.8,274.3 416.7,274.3 415.6,274.7 414.6,274.8 413.5,274.9 412.4,275 411.3,274.8 410.3,274.7 409.2,275.8 408.1,276.4 407,276 406,276.7 404.9,277 403.8,278 402.8,277.8 401.7,277 400.6,277.4 399.5,278.1 398.5,278.6 397.4,279.2 396.3,279.3 395.2,278.6 394.2,279 393.1,278.9 392,277.9 391,278.4 389.9,278.6 388.8,278.4 387.7,278.3 386.7,278.7 385.6,278.5 384.5,277.6 383.4,278.7 382.4,277.6 381.3,278 380.2,277.8 379.1,277.6 378.1,278.2 377,278 375.9,278.2 374.9,279.2 373.8,280.3 372.7,281.1 371.6,282.2 370.6,283.6 369.5,284.4 368.4,285.2 367.3,286.6 366.3,287.7 365.2,289.8 364.1,290.1" fill="#d67a9a" opacity="0.33"/><polygon points="364.1,266.3 365.2,265.7 366.3,264.6 367.3,262.6 368.4,261.9 369.5,260.9 370.6,259.7 371.6,257.6 372.7,256.6 373.8,255.8 374.9,253.7 375.9,253.5 377,254.2 378.1,254.5 379.1,254.4 380.2,254.4 381.3,254.3 382.4,254 383.4,255 384.5,255.7 385.6,255.6 386.7,256.1 387.7,256.5 388.8,256.5 389.9,257.3 391,257.2 392,257.4 393.1,256.9 394.2,257.1 395.2,257.3 396.3,257.5 397.4,257.4 398.5,258.1 399.5,257.8 400.6,257.2 401.7,258.2 402.8,257.7 403.8,257.9 404.9,258.6 406,258.6 407,259.6 408.1,259.3 409.2,259.9 410.3,259.9 411.3,259.8 412.4,259.9 413.5,259.2 414.6,259.1 415.6,259 416.7,260.2 417.8,259.4 418.8,258.8 419.9,258.8 421,258.7 422.1,259.2 423.1,259.4 424.2,259.1 425.3,260.2 426.4,259.4 427.4,260.3 428.5,260.2 429.6,260 430.7,260.5 431.7,260.4 432.8,260.3 433.9,260.8 434.9,260.5 436,261.4 437.1,261.4 438.2,261.3 439.2,260.9 440.3,261.2 441.4,260.1 442.5,259 443.5,258.6 444.6,258.1 445.7,258.1 446.7,257.5 447.8,257.1 448.9,256.5 450,256.3 451,255.6 452.1,256.2 453.2,255.3 454.3,254.5 455.3,254.4 456.4,254.5 457.5,254.4 458.6,254.6 459.6,254.3 460.7,254.3 461.8,254.1 462.8,254.3 463.9,254.3 465,253.7 466.1,254.4 467.1,254 468.2,254.4 469.3,254 470.4,253.9 471.4,253.2 472.5,252.6 472.5,261 471.4,260.7 470.4,261.2 469.3,261.2 468.2,262 467.1,261.5 466.1,261 465,261 463.9,261.4 462.8,262 461.8,262.2 460.7,262.6 459.6,263.1 458.6,262.5 457.5,263.2 456.4,263.4 455.3,263.8 454.3,263.8 453.2,264.3 452.1,264.5 451,264.9 450,265.3 448.9,266 447.8,266.6 446.7,267 445.7,267.3 444.6,267.4 443.5,267.4 442.5,268.2 441.4,268.5 440.3,268.9 439.2,268.5 438.2,268.9 437.1,269 436,268.7 434.9,268.8 433.9,268.6 432.8,269 431.7,268.6 430.7,269.5 429.6,268.4 428.5,268.1 427.4,268.4 426.4,267.8 425.3,268.4 424.2,268.8 423.1,269.1 422.1,268.4 421,268.2 419.9,268.8 418.8,268.6 417.8,268.3 416.7,269.1 415.6,268.7 414.6,269.2 413.5,268.6 412.4,268.8 411.3,268.1 410.3,269.1 409.2,269.3 408.1,268.9 407,268.3 406,267.9 404.9,268.4 403.8,267.6 402.8,267.3 401.7,267.8 400.6,268.1 399.5,268.2 398.5,268.7 397.4,268.4 396.3,267.5 395.2,267.7 394.2,267.7 393.1,266.9 392,266.5 391,266.4 389.9,266.5 388.8,266.2 387.7,266.9 386.7,266.9 385.6,265.9 384.5,266.8 383.4,265.7 382.4,265.4 381.3,265.2 380.2,265.1 379.1,265.7 378.1,265.5 377,265.6 375.9,265.2 374.9,265.8 373.8,268.6 372.7,270.1 371.6,272.8 370.6,275.9 369.5,278.1 368.4,280.8 367.3,282.7 366.3,284.4 365.2,287.8 364.1,289.5" fill="#e0302d" opacity="0.24"/><polyline points="364.1,344.9 365.2,339 366.3,333.3 367.3,329.4 368.4,325.3 369.5,322 370.6,319.2 371.6,314.7 372.7,311.2 373.8,308.2 374.9,306.9 375.9,305.3 377,305.4 378.1,304 379.1,303.5 380.2,300.3 381.3,300.5 382.4,298.4 383.4,299.3 384.5,297.6 385.6,297.4 386.7,296.9 387.7,294.9 388.8,296.1 389.9,296.4 391,293.6 392,293 393.1,294 394.2,291.7 395.2,290.3 396.3,292 397.4,291.9 398.5,292.7 399.5,292.4 400.6,291.2 401.7,291.8 402.8,290.3 403.8,291.4 404.9,291.5 406,289.5 407,289.9 408.1,290.2 409.2,289.9 410.3,290.2 411.3,290.7 412.4,292.3 413.5,291.1 414.6,289.7 415.6,288.9 416.7,289.5 417.8,290.9 418.8,291.8 419.9,291.4 421,291.2 422.1,292.9 423.1,293.6 424.2,293.6 425.3,293.2 426.4,292.1 427.4,292.5 428.5,294.2 429.6,292.8 430.7,293.3 431.7,293.3 432.8,294.3 433.9,294.3 434.9,294.5 436,292.8 437.1,293.6 438.2,292.5 439.2,292.7 440.3,291 441.4,291.8 442.5,291.4 443.5,290.6 444.6,289 445.7,289.7 446.7,288.5 447.8,288.3 448.9,287.6 450,286.4 451,283.8 452.1,283.5 453.2,281.6 454.3,282.6 455.3,280.6 456.4,280.9 457.5,281.3 458.6,279.5 459.6,277.7 460.7,279.2 461.8,279.1 462.8,277.1 463.9,277.1 465,277.1 466.1,277.6 467.1,277.5 468.2,275.4 469.3,272.8 470.4,270.9 471.4,271 472.5,272.4" fill="none" stroke="#2a57a9" stroke-width="0.9" stroke-linejoin="round"/><polyline points="364.1,311.4 365.2,307 366.3,302.8 367.3,297.8 368.4,293.1 369.5,287.5 370.6,282.1 371.6,277.1 372.7,271.8 373.8,272.3 374.9,272.2 375.9,271 377,270.7 378.1,270.6 379.1,270.2 380.2,270.4 381.3,270.3 382.4,270.6 383.4,270.8 384.5,271.1 385.6,270.7 386.7,270 387.7,269.5 388.8,269.5 389.9,269.3 391,269.9 392,270.3 393.1,269.8 394.2,269.9 395.2,269.9 396.3,270.7 397.4,270.9 398.5,270.6 399.5,270.1 400.6,269.7 401.7,269.5 402.8,269.9 403.8,270 404.9,269.5 406,269 407,269.3 408.1,269.8 409.2,269.6 410.3,269.5 411.3,269.6 412.4,269.9 413.5,269.8 414.6,269.4 415.6,269.8 416.7,269.5 417.8,268.7 418.8,268.5 419.9,269.1 421,269.3 422.1,269.9 423.1,269.4 424.2,269.3 425.3,269.8 426.4,269.7 427.4,269.6 428.5,269.6 429.6,269.9 430.7,270.2 431.7,270.3 432.8,269.6 433.9,270 434.9,270.1 436,270.3 437.1,270.7 438.2,270.7 439.2,270.6 440.3,270.3 441.4,269.9 442.5,269.6 443.5,268.5 444.6,268.6 445.7,268.4 446.7,267.8 447.8,267.6 448.9,267.2 450,266.7 451,267 452.1,266.4 453.2,266.7 454.3,266.6 455.3,265.8 456.4,265 457.5,264.8 458.6,265.3 459.6,265.2 460.7,265.2 461.8,264.4 462.8,264.7 463.9,264.8 465,264.2 466.1,263.8 467.1,263.6 468.2,263.5 469.3,262.7 470.4,262.8 471.4,262.2 472.5,262.5" fill="none" stroke="#0d9bd8" stroke-width="1.2" stroke-linejoin="round"/><polyline points="364.1,274.1 365.2,273.7 366.3,272.4 367.3,271.8 368.4,270.7 369.5,270.5 370.6,270 371.6,269.2 372.7,268.8 373.8,267.7 374.9,267.3 375.9,267.1 377,267.1 378.1,266.9 379.1,266.1 380.2,265.6 381.3,265.5 382.4,265.6 383.4,266 384.5,265.4 385.6,265.7 386.7,265.8 387.7,265.5 388.8,264.9 389.9,265.2 391,265.4 392,264.6 393.1,265.1 394.2,264.7 395.2,265.1 396.3,265.1 397.4,265.2 398.5,265.1 399.5,264.5 400.6,264.2 401.7,264.4 402.8,264.9 403.8,265.1 404.9,265.2 406,264.7 407,264.3 408.1,264.9 409.2,265 410.3,264.4 411.3,264.9 412.4,265.2 413.5,265.2 414.6,264.6 415.6,264.9 416.7,264.6 417.8,265 418.8,264.7 419.9,265.1 421,264.9 422.1,264.7 423.1,264.5 424.2,264.8 425.3,264.5 426.4,264.9 427.4,264.6 428.5,264.5 429.6,264.4 430.7,265.3 431.7,265.6 432.8,265.5 433.9,265.2 434.9,265.7 436,265.5 437.1,265.7 438.2,266.3 439.2,266.2 440.3,266.1 441.4,265.6 442.5,264.5 443.5,263.9 444.6,263.3 445.7,262.7 446.7,262.7 447.8,262.2 448.9,261.9 450,261.5 451,261.7 452.1,261.1 453.2,261.4 454.3,261.2 455.3,260.8 456.4,260.4 457.5,260.1 458.6,260.3 459.6,260.4 460.7,260 461.8,260.3 462.8,259.6 463.9,259.7 465,259.6 466.1,259.6 467.1,259.1 468.2,259.3 469.3,259.4 470.4,259.4 471.4,259.4 472.5,258.7" fill="none" stroke="#d67a9a" stroke-width="0.9" stroke-linejoin="round"/><polyline points="364.1,278.3 365.2,276.6 366.3,274.4 367.3,272.5 368.4,271.1 369.5,269.4 370.6,267.7 371.6,265.3 372.7,263.5 373.8,261.8 374.9,259.6 375.9,259.2 377,259.9 378.1,259.8 379.1,260.2 380.2,260 381.3,259.9 382.4,260 383.4,260.3 384.5,261 385.6,260.8 386.7,261.5 387.7,261.6 388.8,261.3 389.9,261.9 391,262.2 392,262.2 393.1,262.3 394.2,262.8 395.2,263.1 396.3,262.9 397.4,263 398.5,263.5 399.5,263.3 400.6,263.1 401.7,263.2 402.8,263 403.8,263.5 404.9,263.8 406,263.4 407,263.8 408.1,264.1 409.2,264.4 410.3,263.8 411.3,263.5 412.4,264 413.5,263.7 414.6,264.1 415.6,263.9 416.7,264.5 417.8,264.2 418.8,263.9 419.9,264 421,264 422.1,264.5 423.1,264.5 424.2,264.2 425.3,264.5 426.4,264.3 427.4,264.4 428.5,264.2 429.6,264.2 430.7,264.7 431.7,264.5 432.8,264.4 433.9,264.8 434.9,264.7 436,265 437.1,265.1 438.2,265.4 439.2,265 440.3,264.7 441.4,263.8 442.5,263.4 443.5,262.9 444.6,262.6 445.7,262.3 446.7,262.2 447.8,261.5 448.9,261.2 450,260.9 451,260.4 452.1,260.5 453.2,260 454.3,259.5 455.3,259.5 456.4,259.7 457.5,258.9 458.6,258.7 459.6,258.8 460.7,259 461.8,258.5 462.8,258.6 463.9,257.8 465,257.5 466.1,257.6 467.1,257.5 468.2,257.7 469.3,257.6 470.4,257.1 471.4,256.4 472.5,256.4" fill="none" stroke="#e0302d" stroke-width="0.9" stroke-linejoin="round"/><line x1="356.9" y1="248.4" x2="356.9" y2="375.6" stroke="#1a1a1a" stroke-width="1.2"/><line x1="352.7" y1="248.9" x2="356.9" y2="248.9" stroke="#1a1a1a" stroke-width="1.2"/><text x="350.3" y="253.1" font-size="11.6" text-anchor="end">0</text><line x1="352.7" y1="312" x2="356.9" y2="312" stroke="#1a1a1a" stroke-width="1.2"/><text x="350.3" y="316.2" font-size="11.6" text-anchor="end" textLength="26.7" lengthAdjust="spacingAndGlyphs">-100</text><line x1="352.7" y1="375.1" x2="356.9" y2="375.1" stroke="#1a1a1a" stroke-width="1.2"/><text x="350.3" y="379.3" font-size="11.6" text-anchor="end" textLength="26.7" lengthAdjust="spacingAndGlyphs">-200</text><line x1="354.3" y1="280.4" x2="356.9" y2="280.4" stroke="#1a1a1a" stroke-width="1.2"/><line x1="354.3" y1="343.6" x2="356.9" y2="343.6" stroke="#1a1a1a" stroke-width="1.2"/><line x1="364.7" y1="379.2" x2="473" y2="379.2" stroke="#1a1a1a" stroke-width="1.2"/><line x1="365.2" y1="379.2" x2="365.2" y2="383.6" stroke="#1a1a1a" stroke-width="1.2"/><line x1="392" y1="379.2" x2="392" y2="383.6" stroke="#1a1a1a" stroke-width="1.2"/><line x1="418.8" y1="379.2" x2="418.8" y2="383.6" stroke="#1a1a1a" stroke-width="1.2"/><line x1="445.7" y1="379.2" x2="445.7" y2="383.6" stroke="#1a1a1a" stroke-width="1.2"/><line x1="472.5" y1="379.2" x2="472.5" y2="383.6" stroke="#1a1a1a" stroke-width="1.2"/><text x="365.7" y="396.8" font-size="11.6" text-anchor="middle">0</text><text x="419.8" y="396.8" font-size="11.6" text-anchor="middle" textLength="14.4" lengthAdjust="spacingAndGlyphs">50</text><text x="473.5" y="396.8" font-size="11.6" text-anchor="middle" textLength="21.7" lengthAdjust="spacingAndGlyphs">100</text><text x="421" y="414" font-size="13.2" text-anchor="middle" textLength="91" lengthAdjust="spacingAndGlyphs">Photostim. (n)</text><text font-size="13" text-anchor="middle" textLength="110" lengthAdjust="spacingAndGlyphs" transform="translate(317.6 322.7) rotate(-90)">EPSCs amp. (pA)</text><text x="472" y="328" font-size="10.2" text-anchor="end" fill="#1c9ad6" textLength="41.8" lengthAdjust="spacingAndGlyphs">WT naive</text><text x="472.2" y="340.5" font-size="10.2" text-anchor="end" fill="#2b58aa" textLength="42.6" lengthAdjust="spacingAndGlyphs">WT stress</text><text x="472.2" y="353" font-size="10.2" text-anchor="end" fill="#d87f9f" textLength="100.5" lengthAdjust="spacingAndGlyphs">GFAP OTR cKO naive</text><text x="474.8" y="365.5" font-size="10.2" text-anchor="end" fill="#e2282e" textLength="103.5" lengthAdjust="spacingAndGlyphs">GFAP OTR cKO stress</text>
<!-- panel_f -->
<text x="511.2" y="249.6" font-size="14.5" font-weight="bold" fill="#111">f</text><rect x="573.8" y="250.8" width="22.4" height="13.7" fill="#0d9bd8"/><rect x="602.2" y="250.8" width="21.8" height="32.6" fill="#2a57a9"/><rect x="629" y="250.8" width="21.8" height="12.4" fill="#d67a9a"/><rect x="655.6" y="250.8" width="22" height="12.4" fill="#e0302d"/><line x1="560.7" y1="250.3" x2="560.7" y2="380" stroke="#1a1a1a" stroke-width="1.2"/><line x1="556.5" y1="250.8" x2="560.7" y2="250.8" stroke="#1a1a1a" stroke-width="1.2"/><text x="552.5" y="255" font-size="11.6" text-anchor="end">0</text><line x1="556.5" y1="293.7" x2="560.7" y2="293.7" stroke="#1a1a1a" stroke-width="1.2"/><text x="554.1" y="297.9" font-size="11.6" text-anchor="end" textLength="26.7" lengthAdjust="spacingAndGlyphs">-100</text><line x1="556.5" y1="336.6" x2="560.7" y2="336.6" stroke="#1a1a1a" stroke-width="1.2"/><text x="554.1" y="340.8" font-size="11.6" text-anchor="end" textLength="26.7" lengthAdjust="spacingAndGlyphs">-200</text><line x1="556.5" y1="379.5" x2="560.7" y2="379.5" stroke="#1a1a1a" stroke-width="1.2"/><text x="554.1" y="383.7" font-size="11.6" text-anchor="end" textLength="26.7" lengthAdjust="spacingAndGlyphs">-300</text><line x1="558.1" y1="272.2" x2="560.7" y2="272.2" stroke="#1a1a1a" stroke-width="1.2"/><line x1="558.1" y1="315.1" x2="560.7" y2="315.1" stroke="#1a1a1a" stroke-width="1.2"/><line x1="558.1" y1="358.1" x2="560.7" y2="358.1" stroke="#1a1a1a" stroke-width="1.2"/><line x1="585.1" y1="262" x2="585.1" y2="268.5" stroke="#222" stroke-width="1.1"/><line x1="578.4" y1="268.5" x2="591.8" y2="268.5" stroke="#222" stroke-width="1.1"/><line x1="613.3" y1="275.6" x2="613.3" y2="291.2" stroke="#222" stroke-width="1.1"/><line x1="606.2" y1="275.6" x2="620.4" y2="275.6" stroke="#222" stroke-width="1.1"/><line x1="610.6" y1="291.2" x2="615.4" y2="291.2" stroke="#222" stroke-width="1.1"/><line x1="641.8" y1="261.3" x2="641.8" y2="264.8" stroke="#222" stroke-width="1.1"/><line x1="637.2" y1="264.8" x2="646.4" y2="264.8" stroke="#222" stroke-width="1.1"/><line x1="666.9" y1="261.5" x2="666.9" y2="266.5" stroke="#222" stroke-width="1.1"/><line x1="660.6" y1="266.5" x2="673.2" y2="266.5" stroke="#222" stroke-width="1.1"/><g fill="#fff" stroke="#000" stroke-width="0.95"><circle cx="578.7" cy="255.9" r="1.8"/><circle cx="578.7" cy="258.8" r="1.8"/><circle cx="585.1" cy="257.1" r="1.8"/><circle cx="591" cy="256.4" r="1.8"/><circle cx="594.8" cy="256.4" r="1.8"/><circle cx="575" cy="259.8" r="1.8"/><circle cx="578.7" cy="261.8" r="1.8"/><circle cx="585.1" cy="261.8" r="1.8"/><circle cx="591" cy="259.3" r="1.8"/><circle cx="594.8" cy="259.8" r="1.8"/><circle cx="585.1" cy="271" r="1.8"/><circle cx="585.1" cy="275.2" r="1.8"/><circle cx="585.1" cy="285.3" r="1.8"/><circle cx="585.1" cy="294" r="1.8"/><circle cx="604.9" cy="258.1" r="1.8"/><circle cx="608.6" cy="258.8" r="1.8"/><circle cx="621.2" cy="257.1" r="1.8"/><circle cx="604.9" cy="261.3" r="1.8"/><circle cx="608.6" cy="261.8" r="1.8"/><circle cx="621.2" cy="259.8" r="1.8"/><circle cx="617" cy="262.3" r="1.8"/><circle cx="617" cy="265.1" r="1.8"/><circle cx="608.9" cy="266.8" r="1.8"/><circle cx="617" cy="270.2" r="1.8"/><circle cx="608.9" cy="271.9" r="1.8"/><circle cx="617" cy="279.4" r="1.8"/><circle cx="608.9" cy="291.5" r="1.8"/><circle cx="617" cy="291.2" r="1.8"/><circle cx="609.3" cy="312.5" r="1.8"/><circle cx="604.3" cy="323.5" r="1.8"/><circle cx="617.5" cy="323" r="1.8"/><circle cx="621.1" cy="320.9" r="1.8"/><circle cx="609.3" cy="369.8" r="1.8"/><circle cx="631.3" cy="253.1" r="1.8"/><circle cx="631.3" cy="256.4" r="1.8"/><circle cx="635.5" cy="256.8" r="1.8"/><circle cx="643.9" cy="256.4" r="1.8"/><circle cx="648.1" cy="255.4" r="1.8"/><circle cx="631.3" cy="259.8" r="1.8"/><circle cx="631.3" cy="262.6" r="1.8"/><circle cx="635.5" cy="262.6" r="1.8"/><circle cx="643.9" cy="261.8" r="1.8"/><circle cx="648.1" cy="261.8" r="1.8"/><circle cx="631.3" cy="267.7" r="1.8"/><circle cx="635.5" cy="266.8" r="1.8"/><circle cx="643.9" cy="266.8" r="1.8"/><circle cx="635.5" cy="271" r="1.8"/><circle cx="643.9" cy="271" r="1.8"/><circle cx="635.5" cy="274.9" r="1.8"/><circle cx="643.9" cy="274.4" r="1.8"/><circle cx="635.5" cy="277.7" r="1.8"/><circle cx="658.6" cy="254.2" r="1.8"/><circle cx="662.3" cy="256.8" r="1.8"/><circle cx="670.4" cy="255.1" r="1.8"/><circle cx="674.9" cy="255.9" r="1.8"/><circle cx="670.4" cy="257.1" r="1.8"/><circle cx="662.3" cy="261.8" r="1.8"/><circle cx="670.4" cy="261.8" r="1.8"/><circle cx="662.3" cy="264.8" r="1.8"/><circle cx="670.4" cy="269.3" r="1.8"/><circle cx="670.4" cy="271.9" r="1.8"/><circle cx="658.1" cy="271" r="1.8"/><circle cx="662.3" cy="273.5" r="1.8"/><circle cx="662.3" cy="281.9" r="1.8"/></g><line x1="582" y1="349.6" x2="607" y2="349.6" stroke="#1a1a1a" stroke-width="1"/><text x="594.9" y="366.2" font-size="18" text-anchor="middle" textLength="14.4" lengthAdjust="spacingAndGlyphs">**</text><text font-size="13" text-anchor="middle" textLength="112.6" lengthAdjust="spacingAndGlyphs" transform="translate(522.6 325.9) rotate(-90)">EPSCs ampl. (pA)</text><text font-size="12.2" text-anchor="end" textLength="32.6" lengthAdjust="spacingAndGlyphs" transform="translate(586.3 381) rotate(-90)">Naive</text><text font-size="12.2" text-anchor="end" textLength="36.6" lengthAdjust="spacingAndGlyphs" transform="translate(614.6 381) rotate(-90)">Stress</text><text font-size="12.2" text-anchor="end" textLength="32.6" lengthAdjust="spacingAndGlyphs" transform="translate(644.2 381) rotate(-90)">Naive</text><text font-size="12.2" text-anchor="end" textLength="36.6" lengthAdjust="spacingAndGlyphs" transform="translate(671.4 381) rotate(-90)">Stress</text><line x1="577.3" y1="421" x2="617.5" y2="421" stroke="#333" stroke-width="1.3"/><line x1="633.7" y1="421" x2="673.2" y2="421" stroke="#333" stroke-width="1.3"/><text x="598.3" y="437.4" font-size="11.6" text-anchor="middle" textLength="19.7" lengthAdjust="spacingAndGlyphs">WT</text><text x="653.7" y="437.4" font-size="11.6" text-anchor="middle" textLength="33.7" lengthAdjust="spacingAndGlyphs">GFAP</text><text x="654.8" y="450.8" font-size="11.6" text-anchor="middle" textLength="56" lengthAdjust="spacingAndGlyphs">OTR cKO</text>
<!-- panel_g -->
<text x="1.5" y="477.3" font-size="14.5" font-weight="bold" fill="#111">g</text><g transform="translate(49.6 463.4) scale(0.1022)"><path d="M395,175 C430,150 470,130 515,132 C545,135 540,165 488,196" fill="none" stroke="#b17f76" stroke-width="13" stroke-linecap="round"/><path d="M205,262 L198,300 L178,312 L215,318 L228,270 Z" fill="#b88479"/><path d="M312,290 L318,332 L302,345 L350,348 L340,290 Z" fill="#b88479"/><path d="M385,215 L415,228 L405,236 L380,232 Z" fill="#b88479"/><path d="M118,150 C125,120 150,95 165,85 C170,70 180,55 192,52 C198,70 200,90 212,100 C250,95 300,100 340,115 C375,128 400,160 405,200 C405,235 385,260 345,272 L342,300 L300,302 L296,278 C260,282 225,278 205,265 C180,250 165,225 150,195 C135,185 118,170 118,150 Z" fill="#4b4b4d"/><path d="M160,98 C165,80 178,62 190,56 C194,70 195,86 200,98 Z" fill="#a8776e"/><ellipse cx="285" cy="104" rx="33" ry="45" fill="#b5857c" transform="rotate(-18 285 104)"/><ellipse cx="282" cy="108" rx="22" ry="34" fill="#c4948a" transform="rotate(-18 282 108)"/><circle cx="205" cy="133" r="8" fill="#1c1416"/><circle cx="128" cy="148" r="9" fill="#b88479"/></g><text x="83.8" y="514.6" font-size="12.6" text-anchor="middle" textLength="78" lengthAdjust="spacingAndGlyphs">OTR fl/fl mice</text><line x1="30" y1="525.5" x2="138.9" y2="525.5" stroke="#33363b" stroke-width="1.2"/><polygon points="28,525.5 31.4,523.4 31.4,527.6" fill="#33363b"/><circle cx="139.3" cy="525.5" r="1.7" fill="#33363b"/><rect x="33.9" y="520" width="5.8" height="11" fill="#d3d6dc"/><rect x="128" y="520" width="5.6" height="11" fill="#d3d6dc"/><rect x="42" y="520" width="19.9" height="11" fill="#a1a6b0"/><rect x="64.2" y="520" width="60.8" height="11" fill="#3bb44a"/><text font-size="5.5" text-anchor="middle" fill="#2e3136" transform="translate(38.8 525.5) rotate(-90)">ITR</text><text font-size="5.5" text-anchor="middle" fill="#2e3136" transform="translate(132.8 525.5) rotate(-90)">ITR</text><text x="45.8" y="528" font-size="7.8" fill="#3a3d42">P</text><text x="50.6" y="529.3" font-size="3.4" fill="#3a3d42">GFAP</text><text x="94.6" y="528.2" font-size="7.5" text-anchor="middle" fill="#2a2d2f" textLength="52" lengthAdjust="spacingAndGlyphs">GFP-IRES-Cre</text><line x1="30" y1="540" x2="138.9" y2="540" stroke="#33363b" stroke-width="1.2"/><polygon points="28,540 31.4,537.9 31.4,542.1" fill="#33363b"/><circle cx="139.3" cy="540" r="1.7" fill="#33363b"/><rect x="33.9" y="534.4" width="5.8" height="11.2" fill="#d3d6dc"/><rect x="128" y="534.4" width="5.6" height="11.2" fill="#d3d6dc"/><rect x="42" y="534.4" width="19.9" height="11.2" fill="#a1a6b0"/><rect x="64.2" y="534.4" width="60.8" height="11.2" fill="#e6be2a"/><text font-size="5.5" text-anchor="middle" fill="#2e3136" transform="translate(38.8 540) rotate(-90)">ITR</text><text font-size="5.5" text-anchor="middle" fill="#2e3136" transform="translate(132.8 540) rotate(-90)">ITR</text><text x="43.6" y="542.5" font-size="7.8" fill="#3a3d42">P</text><text x="48.4" y="543.8" font-size="3.4" fill="#3a3d42">CaMKIIa</text><text x="94.6" y="542.7" font-size="7.5" text-anchor="middle" fill="#2a2d2f" textLength="42.9" lengthAdjust="spacingAndGlyphs">ChR2-EYFP</text><defs><filter id="bl6" x="-20%" y="-20%" width="140%" height="140%"><feGaussianBlur stdDeviation="7"/></filter><filter id="bl2" x="-50%" y="-50%" width="200%" height="200%"><feGaussianBlur stdDeviation="1.6"/></filter><filter id="bl1" x="-50%" y="-50%" width="200%" height="200%"><feGaussianBlur stdDeviation="0.7"/></filter><filter id="tb" x="0" y="0" width="100%" height="100%"><feTurbulence type="fractalNoise" baseFrequency="0.035 0.045" numOctaves="3" seed="8"/><feColorMatrix type="matrix" values="0 0 0 0 0.5  0 0 0 0 0.53  0 0 0 0 0.55  2.6 0 0 0 -0.95"/></filter><clipPath id="cg"><rect x="21" y="557.3" width="128" height="90.4"/></clipPath></defs><g clip-path="url(#cg)"><rect x="21" y="557.3" width="128" height="90.4" fill="#2f3539"/><g filter="url(#bl6)"><ellipse cx="45" cy="578" rx="26" ry="12" fill="#3f4549"/><ellipse cx="72" cy="592" rx="30" ry="14" fill="#454b4f"/><ellipse cx="92" cy="580" rx="22" ry="12" fill="#494f53"/><ellipse cx="52" cy="618" rx="26" ry="14" fill="#464c50"/><ellipse cx="88" cy="624" rx="28" ry="12" fill="#40464a"/><ellipse cx="62" cy="606" rx="20" ry="10" fill="#494f53"/><ellipse cx="122" cy="585" rx="16" ry="20" fill="#15191b"/><ellipse cx="140" cy="610" rx="12" ry="24" fill="#181c1e"/><ellipse cx="112" cy="566" rx="12" ry="10" fill="#1d2123"/><ellipse cx="30" cy="642" rx="22" ry="8" fill="#24292c"/><ellipse cx="100" cy="646" rx="34" ry="6" fill="#23282b"/><ellipse cx="26" cy="566" rx="10" ry="8" fill="#33383c"/><ellipse cx="136" cy="574" rx="10" ry="8" fill="#3a4044"/><ellipse cx="120" cy="632" rx="14" ry="10" fill="#30363a"/><ellipse cx="24" cy="600" rx="8" ry="20" fill="#2b3034"/></g><rect x="21" y="557.3" width="128" height="90.4" fill="#fff" filter="url(#tb)" opacity="0.28"/><g filter="url(#bl2)"><circle cx="61.2" cy="609.3" r="3.2" fill="#c9cdd0"/><circle cx="88.8" cy="575.3" r="3.2" fill="#aab0b3"/><circle cx="63" cy="574" r="2.5" fill="#6d7377"/><circle cx="100" cy="621" r="2.6" fill="#72787c"/><circle cx="137" cy="629" r="2.6" fill="#5d6367"/><circle cx="132" cy="572" r="3" fill="#596064"/><circle cx="45" cy="577" r="2.4" fill="#666c70"/><circle cx="113" cy="606" r="2.2" fill="#5b6165"/></g><g filter="url(#bl1)"><circle cx="61.2" cy="609.4" r="1.9" fill="#fff"/><circle cx="88.9" cy="575.2" r="1.2" fill="#e8eaec"/></g></g><rect x="129.6" y="644" width="12.5" height="2" fill="#fff"/><text x="135.8" y="640.8" font-size="6.8" text-anchor="middle" font-weight="bold" fill="#fff" textLength="19.5" lengthAdjust="spacingAndGlyphs">30µM</text><rect x="167.7" y="471.2" width="35.9" height="81.6" rx="5.5" fill="#e9e9eb" stroke="#a5a7b0" stroke-width="2.1"/><rect x="207.4" y="471.2" width="72.8" height="81.6" rx="5.5" fill="#e9e9eb" stroke="#a5a7b0" stroke-width="2.1"/><text x="172" y="481.8" font-size="7.3" font-weight="bold" fill="#2c2c2e" textLength="16.5" lengthAdjust="spacingAndGlyphs">BLA</text><text x="212.7" y="481.8" font-size="7.3" font-weight="bold" fill="#2c2c2e" textLength="23" lengthAdjust="spacingAndGlyphs">CeL/C</text><path d="M193.9,511.5 C197,524 211,525.5 223,520 C238,513 250,511 256.5,500 L259.5,496" fill="none" stroke="#e0b62a" stroke-width="1.1"/><circle cx="180.8" cy="493.1" r="5.3" fill="#999da6" stroke="#70747c" stroke-width="0.7"/><circle cx="179.7" cy="535.1" r="5.3" fill="#999da6" stroke="#70747c" stroke-width="0.7"/><circle cx="229" cy="503.6" r="5.3" fill="#999da6" stroke="#70747c" stroke-width="0.7"/><circle cx="262.6" cy="494.2" r="5.3" fill="#999da6" stroke="#70747c" stroke-width="0.7"/><circle cx="263.3" cy="539.6" r="5.3" fill="#999da6" stroke="#70747c" stroke-width="0.7"/><circle cx="193.9" cy="511.5" r="5.3" fill="#e7c02c" stroke="#b8951c" stroke-width="0.7"/><path d="M260.9,515.6 Q255.8,506.9 259.4,502.9 Q254,507.9 257.9,517.2 Z" fill="#39b24a" stroke="#39b24a" stroke-width="0.6" stroke-linejoin="round"/><path d="M260.6,517.6 Q264.7,512.4 264.9,506.4 Q263.3,511 258.2,515.2 Z" fill="#39b24a" stroke="#39b24a" stroke-width="0.6" stroke-linejoin="round"/><path d="M259,514.8 Q252.1,517.2 247.8,515.8 Q252.7,519.2 259.8,518 Z" fill="#39b24a" stroke="#39b24a" stroke-width="0.6" stroke-linejoin="round"/><path d="M258.3,517.7 Q264.7,521.9 270.8,518.8 Q265.9,520.3 260.5,515.1 Z" fill="#39b24a" stroke="#39b24a" stroke-width="0.6" stroke-linejoin="round"/><path d="M257.9,515.7 Q255.3,523 258.2,529.6 Q257.1,523.8 260.9,517.1 Z" fill="#39b24a" stroke="#39b24a" stroke-width="0.6" stroke-linejoin="round"/><circle cx="259.4" cy="516.4" r="3" fill="#39b24a"/><path d="M234.5,534.7 Q229.2,527.1 221.6,526.8 Q227.4,528.1 231.5,536.5 Z" fill="#39b24a" stroke="#39b24a" stroke-width="0.6" stroke-linejoin="round"/><path d="M234.5,536.5 Q238.6,528.1 242.4,527.8 Q236.8,527.1 231.5,534.7 Z" fill="#39b24a" stroke="#39b24a" stroke-width="0.6" stroke-linejoin="round"/><path d="M232.1,534.2 Q225.4,539.5 220.8,538 Q226.6,541.1 233.9,537 Z" fill="#39b24a" stroke="#39b24a" stroke-width="0.6" stroke-linejoin="round"/><path d="M231.6,536.5 Q235.9,542.1 235.6,546.4 Q237.7,540.9 234.4,534.7 Z" fill="#39b24a" stroke="#39b24a" stroke-width="0.6" stroke-linejoin="round"/><path d="M232.5,537.2 Q241,539 244,542.6 Q241.6,537 233.5,534 Z" fill="#39b24a" stroke="#39b24a" stroke-width="0.6" stroke-linejoin="round"/><circle cx="233" cy="535.6" r="3" fill="#39b24a"/><line x1="285.6" y1="486.4" x2="291.3" y2="479.4" stroke="#444" stroke-width="0.50"/><polygon points="265.8,512.2 288.4,488.5 282.8,484.3" fill="#a5c6dd" stroke="#5d7c94" stroke-width="0.5" stroke-linejoin="round"/><ellipse cx="285.6" cy="486.4" rx="1.3" ry="3.5" fill="#cfe3f1" stroke="#4f6d85" stroke-width="0.6" transform="rotate(-52.5 285.6 486.4)"/><line x1="275.7" y1="499.3" x2="283.6" y2="489" stroke="#3f5d75" stroke-width="0.80"/><line x1="268.1" y1="509.9" x2="287.3" y2="487.7" stroke="#e4f0f8" stroke-width="0.80"/><text x="214.8" y="570.8" font-size="9.4" text-anchor="middle" textLength="70.5" lengthAdjust="spacingAndGlyphs">5ms - 20Hz 10s</text><path d="M174.5,573.8V578.8M176.5,573.8V578.8M178.5,573.8V578.8M180.5,573.8V578.8M182.5,573.8V578.8M184.5,573.8V578.8M186.5,573.8V578.8M188.5,573.8V578.8M190.5,573.8V578.8M192.5,573.8V578.8M194.5,573.8V578.8M196.5,573.8V578.8M198.5,573.8V578.8M200.5,573.8V578.8M202.5,573.8V578.8M204.5,573.8V578.8M206.5,573.8V578.8M208.5,573.8V578.8M210.5,573.8V578.8M212.5,573.8V578.8M214.4,573.8V578.8M216.4,573.8V578.8M218.4,573.8V578.8M220.4,573.8V578.8M222.4,573.8V578.8M224.4,573.8V578.8M226.4,573.8V578.8M228.4,573.8V578.8M230.4,573.8V578.8M232.4,573.8V578.8M234.4,573.8V578.8M236.4,573.8V578.8M238.4,573.8V578.8M240.4,573.8V578.8M242.4,573.8V578.8M244.4,573.8V578.8M246.4,573.8V578.8M248.4,573.8V578.8M250.4,573.8V578.8M252.4,573.8V578.8M254.4,573.8V578.8" fill="none" stroke="#c9def2" stroke-width="0.9"/><line x1="174.5" y1="578.8" x2="192" y2="584.6" stroke="#d5e5f5" stroke-width="0.80"/><line x1="254.4" y1="578.8" x2="210.3" y2="584.6" stroke="#d5e5f5" stroke-width="0.80"/><rect x="192" y="584.6" width="18.3" height="63.2" fill="#cfe2f4"/><path d="M156.5,591C156.9,591 158,590.9 158.7,591C159.4,591 160.2,591.1 160.9,591.1C161.6,591.1 162.4,591 163.1,591C163.8,591 164.6,590.9 165.3,590.9C166,591 166.8,591.1 167.5,591.1C168.2,591.2 169,591.4 169.7,591.5C170.4,591.5 171.2,591.4 171.9,591.4C172.6,591.4 173.4,591.4 174.1,591.4C174.8,591.3 175.6,591.1 176.3,591C177,591 177.8,591.2 178.5,591.2C179.2,591.2 180,591.1 180.7,591.1C181.4,591 182.2,591 182.9,591C183.6,591 184.4,591 185.1,591C185.8,591 186.6,590.9 187.3,591C188,591.1 188.7,591.4 189.5,591.5C190.3,591.5 191.6,590 192.3,591.4C193.1,592.8 193.3,596.4 194,600C194.7,603.6 195.6,609.6 196.5,613C197.4,616.4 198.4,619.1 199.5,620.6C200.6,622.1 201.9,622.2 203,622.3C204.1,622.4 205.1,622.2 206,621.2C206.9,620.2 207.7,618.1 208.5,616C209.3,613.9 209.9,611.3 211,608.5C212.1,605.7 213.5,601.7 215,599C216.5,596.3 218,594.2 220,592.4C222,590.6 224.3,589.4 227,588.3C229.7,587.2 232.8,586.5 236,585.8C239.2,585.1 242.7,584.7 246,584.2C249.3,583.7 252.6,583.4 256,583C259.4,582.6 264.8,582.2 266.5,582" fill="none" stroke="#a2a5a6" stroke-width="1.25" stroke-linejoin="round" stroke-linecap="round"/><path d="M156.5,591C156.9,591 158,590.9 158.7,591C159.4,591 160.2,591.1 160.9,591.1C161.6,591.1 162.4,591 163.1,591C163.8,591 164.6,590.9 165.3,590.9C166,591 166.8,591.1 167.5,591.1C168.2,591.2 169,591.4 169.7,591.5C170.4,591.5 171.2,591.4 171.9,591.4C172.6,591.4 173.4,591.4 174.1,591.4C174.8,591.3 175.6,591.1 176.3,591C177,591 177.8,591.2 178.5,591.2C179.2,591.2 180,591.1 180.7,591.1C181.4,591 182.2,591 182.9,591C183.6,591 184.4,591 185.1,591C185.8,591 186.6,590.9 187.3,591C188,591.1 188.6,591.4 189.5,591.5C190.4,591.6 191.6,590.8 192.5,591.6C193.4,592.4 193.9,594.5 195,596.5C196.1,598.5 197.5,601.1 199,603.5C200.5,605.9 202.5,609 204,611C205.5,613 206.9,614.6 208,615.6C209.1,616.6 209.5,616.9 210.5,617C211.5,617.1 212.4,616.8 214,616C215.6,615.2 217.8,613.4 220,612C222.2,610.6 224.3,609 227,607.6C229.7,606.2 232.8,604.8 236,603.6C239.2,602.4 242.7,601.4 246,600.6C249.3,599.8 252.6,599.1 256,598.6C259.4,598.1 264.8,597.6 266.5,597.4" fill="none" stroke="#757a78" stroke-width="1.2" stroke-linejoin="round" stroke-linecap="round"/><path d="M156.5,591C156.9,591 158,590.9 158.7,591C159.4,591 160.2,591.1 160.9,591.1C161.6,591.1 162.4,591 163.1,591C163.8,591 164.6,590.9 165.3,590.9C166,591 166.8,591.1 167.5,591.1C168.2,591.2 169,591.4 169.7,591.5C170.4,591.5 171.2,591.4 171.9,591.4C172.6,591.4 173.4,591.4 174.1,591.4C174.8,591.3 175.6,591.1 176.3,591C177,591 177.8,591.2 178.5,591.2C179.2,591.2 180,591.1 180.7,591.1C181.4,591 182.2,591 182.9,591C183.6,591 184.4,591 185.1,591C185.8,591 186.6,590.9 187.3,591C188,591.1 188.7,591.4 189.5,591.5C190.3,591.6 191.6,589.8 192.3,591.6C193,593.4 193.1,597.6 193.6,602C194.1,606.4 194.8,613.2 195.5,618C196.2,622.8 197.1,627.6 198,631C198.9,634.4 199.9,636.8 201,638.5C202.1,640.2 203.4,640.7 204.5,641.4C205.6,642.1 206.6,642.7 207.4,642.5C208.2,642.3 208.8,641.6 209.5,640C210.2,638.4 210.6,635.8 211.5,633C212.4,630.2 213.6,626.2 215,623C216.4,619.8 218,616.7 220,613.8C222,610.9 224.3,608.2 227,605.8C229.7,603.4 232.8,601.4 236,599.6C239.2,597.8 242.7,596.2 246,594.8C249.3,593.4 252.6,592.1 256,591C259.4,589.9 264.8,588.8 266.5,588.4" fill="none" stroke="#0c0c0c" stroke-width="1.4" stroke-linejoin="round" stroke-linecap="round"/><path d="M156.5,591C156.9,591 158,590.9 158.7,591C159.4,591 160.2,591.1 160.9,591.1C161.6,591.1 162.4,591 163.1,591C163.8,591 164.6,590.9 165.3,590.9C166,591 166.8,591.1 167.5,591.1C168.2,591.2 169,591.4 169.7,591.5C170.4,591.5 171.2,591.4 171.9,591.4C172.6,591.4 173.4,591.4 174.1,591.4C174.8,591.3 175.6,591.1 176.3,591C177,591 177.8,591.2 178.5,591.2C179.2,591.2 180,591.1 180.7,591.1C181.4,591 182.2,591 182.9,591C183.6,591 184.4,591 185.1,591C185.8,591 186.6,590.9 187.3,591C188,591.1 188.7,591.4 189.5,591.5C190.3,591.5 191.6,591.3 192,591.3" fill="none" stroke="#9a9d9f" stroke-width="1.3" stroke-linejoin="round" stroke-linecap="round"/><line x1="168.2" y1="616.2" x2="168.2" y2="636.5" stroke="#1a1a1a" stroke-width="1"/><line x1="167.7" y1="636" x2="185.5" y2="636" stroke="#1a1a1a" stroke-width="1"/><text font-size="8.4" text-anchor="middle" textLength="29" lengthAdjust="spacingAndGlyphs" transform="translate(163.6 626.4) rotate(-90)">200 pA</text><text x="167.4" y="645.6" font-size="8.6" textLength="18.5" lengthAdjust="spacingAndGlyphs">10 s</text><line x1="244.1" y1="616.9" x2="259.8" y2="616.9" stroke="#0c0c0c" stroke-width="1.4"/><line x1="244.1" y1="629.7" x2="259.8" y2="629.7" stroke="#6b706e" stroke-width="1"/><line x1="244.1" y1="641.9" x2="259.8" y2="641.9" stroke="#9b9fa1" stroke-width="1"/><text x="264.9" y="620.5" font-size="10.8" fill="#222" textLength="17.8" lengthAdjust="spacingAndGlyphs">Ctrl</text><text x="266.4" y="633.2" font-size="10.8" fill="#444" textLength="12" lengthAdjust="spacingAndGlyphs">Ba</text><text x="279" y="628.6" font-size="4.6" fill="#444" textLength="5.7" lengthAdjust="spacingAndGlyphs">2+</text><text x="268.6" y="645.4" font-size="10.8" fill="#666">I</text><text x="271.6" y="647.2" font-size="4.8" fill="#666">K</text>
<!-- panel_h -->
<text x="308.8" y="478.7" font-size="14.5" font-weight="bold" fill="#111">h</text><polygon points="366.6,495.8 367.5,494.8 368.4,494.7 369.3,495 370.2,495 371.1,493.7 372,493.8 372.9,493.6 373.8,493.9 374.6,493.7 375.5,495.5 376.4,494.8 377.3,493.7 378.2,495.7 379.1,494.6 380,494.7 380.9,494.5 381.8,495.3 382.7,495.1 383.6,494.8 384.5,493.4 385.4,493.3 386.3,495.5 387.2,496.3 388.1,496.5 389,497.2 389.8,495.6 390.7,496.1 391.6,495.3 392.5,494.6 393.4,496.1 394.3,494.9 395.2,495.3 396.1,495 397,495.7 397.9,495.9 398.8,496.3 399.7,496.5 400.6,494.9 401.5,493.8 402.4,498.9 403.3,503.2 404.1,509.1 405,516 405.9,523.2 406.8,527 407.7,529.5 408.6,532.6 409.5,534.9 410.4,536.1 411.3,535.4 412.2,537 413.1,536.2 414,536.8 414.9,538.3 415.8,537.6 416.7,537 417.6,536.1 418.5,536.1 419.3,532.4 420.2,529.2 421.1,525 422,521.8 422.9,517.5 423.8,514.5 424.7,511.1 425.6,507.5 426.5,507 427.4,506.1 428.3,504.9 429.2,503.7 430.1,503.3 431,501.7 431.9,501.1 432.8,501.7 433.7,501 434.5,500 435.4,500.3 436.3,500.4 437.2,500.4 438.1,498.8 439,497.3 439.9,497 440.8,496.8 441.7,497.3 442.6,496.2 443.5,495.6 444.4,494.8 445.3,495.2 446.2,494.6 447.1,494.4 448,494.9 448.8,493.9 449.7,494.2 450.6,493.7 451.5,493.4 452.4,492.6 453.3,493.5 454.2,494.5 455.1,493.6 456,492.9 456.9,492.5 457.8,491.2 458.7,493.1 459.6,493 460.5,492.9 461.4,492.2 462.3,491.8 463.2,492 464,492 464.9,490.8 465.8,490 466.7,489.4 467.6,489.6 468.5,490 469.4,490 470.3,489.1 471.2,489.4 472.1,489.9 473,489.6 473.9,488.4 473.9,498.6 473,499.8 472.1,500.7 471.2,499.4 470.3,499.7 469.4,500.5 468.5,500.7 467.6,500.8 466.7,501.2 465.8,502 464.9,502.3 464,502.7 463.2,504.1 462.3,503.1 461.4,502.7 460.5,503.2 459.6,503.7 458.7,503.4 457.8,502.6 456.9,504.6 456,504.3 455.1,504.1 454.2,505.2 453.3,505.5 452.4,505.8 451.5,506.4 450.6,505.8 449.7,505.6 448.8,504.8 448,505.9 447.1,506.5 446.2,506.6 445.3,506.2 444.4,506.7 443.5,507.9 442.6,508.6 441.7,509.1 440.8,509.3 439.9,508.8 439,510.1 438.1,510.9 437.2,511.3 436.3,511.7 435.4,513.3 434.5,513.6 433.7,513.6 432.8,515.7 431.9,517.1 431,519.1 430.1,519.9 429.2,522.5 428.3,523.1 427.4,525.4 426.5,527.3 425.6,530.1 424.7,535 423.8,538.4 422.9,542.5 422,547.5 421.1,552.4 420.2,555.5 419.3,559 418.5,563.6 417.6,566 416.7,565.9 415.8,565.2 414.9,565.7 414,564.5 413.1,563.9 412.2,562.8 411.3,561.8 410.4,560.4 409.5,558.5 408.6,554.9 407.7,552.5 406.8,548.4 405.9,545.6 405,534.2 404.1,524.3 403.3,515.6 402.4,508.6 401.5,500.4 400.6,500.1 399.7,500.7 398.8,500.1 397.9,500 397,499.6 396.1,498.8 395.2,499.1 394.3,498.8 393.4,499.1 392.5,499.6 391.6,500.3 390.7,499.4 389.8,499.7 389,500 388.1,500.1 387.2,499.2 386.3,499.9 385.4,498.5 384.5,497.6 383.6,499 382.7,498.6 381.8,499.9 380.9,499.9 380,499.4 379.1,498.1 378.2,498.7 377.3,499.4 376.4,498.8 375.5,498.3 374.6,497.7 373.8,498.4 372.9,498.7 372,498.2 371.1,499.4 370.2,499.8 369.3,499.8 368.4,500 367.5,500.4 366.6,499.7" fill="#0d9bd8" opacity="0.35"/><polyline points="366.6,498.5 367.5,497.8 368.4,497.3 369.3,497.1 370.2,497.3 371.1,496.5 372,495.9 372.9,495.8 373.8,495.6 374.6,496.2 375.5,496.9 376.4,496.9 377.3,496.7 378.2,497.2 379.1,496.6 380,497 380.9,497.3 381.8,497.8 382.7,496.9 383.6,496.6 384.5,496.2 385.4,496.4 386.3,497.3 387.2,497.6 388.1,497.6 389,498 389.8,497.1 390.7,497.3 391.6,497.8 392.5,497.1 393.4,497.6 394.3,496.9 395.2,497 396.1,496.9 397,497.2 397.9,497.1 398.8,497.5 399.7,498 400.6,497.2 401.5,497.5 402.4,503 403.3,509.6 404.1,517.6 405,525.9 405.9,534.5 406.8,537.3 407.7,540.4 408.6,543.2 409.5,546.9 410.4,547.8 411.3,548.1 412.2,549.5 413.1,549.7 414,550.2 414.9,551.4 415.8,551.4 416.7,551.1 417.6,551 418.5,549.9 419.3,546 420.2,542.6 421.1,538.8 422,534 422.9,529.7 423.8,526.4 424.7,523 425.6,519.5 426.5,517.6 427.4,516.5 428.3,514.7 429.2,513 430.1,511.2 431,510.1 431.9,509.8 432.8,509.1 433.7,507.5 434.5,507 435.4,506.1 436.3,505.7 437.2,505.4 438.1,505.1 439,504 439.9,503.2 440.8,503.2 441.7,502.6 442.6,502.1 443.5,501.4 444.4,500.7 445.3,500.9 446.2,500.2 447.1,499.6 448,499.7 448.8,499.2 449.7,499.3 450.6,499.5 451.5,499.7 452.4,498.9 453.3,499.3 454.2,499.7 455.1,498.8 456,498.2 456.9,498.2 457.8,497.5 458.7,498.2 459.6,498.2 460.5,498.2 461.4,497.9 462.3,498 463.2,498.1 464,497.8 464.9,496.7 465.8,495.8 466.7,495.4 467.6,495.4 468.5,495.7 469.4,494.9 470.3,494.8 471.2,494.5 472.1,495.1 473,495.2 473.9,494.4" fill="none" stroke="#0d9bd8" stroke-width="0.8" stroke-linejoin="round"/><polygon points="366.6,497.8 367.5,496.2 368.4,496.4 369.3,496.9 370.2,495.3 371.1,495 372,494.5 372.9,494.1 373.8,493.8 374.6,494.1 375.5,493.6 376.4,493.5 377.3,495 378.2,495.5 379.1,494.6 380,494.5 380.9,494.4 381.8,494.4 382.7,495.5 383.6,494 384.5,495.1 385.4,494 386.3,494.8 387.2,494.6 388.1,494.3 389,493.9 389.8,494.6 390.7,494 391.6,494.9 392.5,494.7 393.4,495.3 394.3,495.9 395.2,495.9 396.1,495.8 397,495.9 397.9,496.5 398.8,496.1 399.7,495.1 400.6,495.6 401.5,496 402.4,497.1 403.3,500.1 404.1,503.9 405,506 405.9,510.4 406.8,510 407.7,511 408.6,513.4 409.5,514.5 410.4,514 411.3,514.5 412.2,514.4 413.1,513.6 414,513.1 414.9,514.1 415.8,513.8 416.7,514.9 417.6,514.6 418.5,514.7 419.3,513.2 420.2,511.9 421.1,510.4 422,509.3 422.9,508.1 423.8,506.3 424.7,505.4 425.6,505 426.5,504.8 427.4,503.7 428.3,505.1 429.2,504.6 430.1,504 431,503.8 431.9,503.7 432.8,503.6 433.7,503.9 434.5,503.4 435.4,502.5 436.3,502.2 437.2,501.5 438.1,503 439,502.8 439.9,502.3 440.8,501.8 441.7,500.7 442.6,500.3 443.5,500.8 444.4,500.5 445.3,500.4 446.2,498.9 447.1,498.6 448,499.2 448.8,499.4 449.7,498.1 450.6,498.4 451.5,497.7 452.4,498.6 453.3,498.5 454.2,498.3 455.1,500.3 456,501.9 456.9,502.1 457.8,503.5 458.7,503.7 459.6,505.1 460.5,504.3 461.4,505.7 462.3,506.7 463.2,507.5 464,507.2 464.9,505.5 465.8,506.4 466.7,505.6 467.6,506.5 468.5,505.7 469.4,506.1 470.3,506 471.2,506.6 472.1,507.4 473,507.1 473.9,506.6 473.9,522 473,522 472.1,521.3 471.2,521.3 470.3,520.5 469.4,520.3 468.5,518.4 467.6,518.5 466.7,518.1 465.8,519 464.9,518.7 464,517.8 463.2,518 462.3,517.6 461.4,516.2 460.5,515.2 459.6,515.5 458.7,512.7 457.8,512.9 456.9,512.2 456,511.6 455.1,510.3 454.2,508.3 453.3,507.6 452.4,507.8 451.5,506.9 450.6,507.6 449.7,508.5 448.8,509 448,508.6 447.1,507.9 446.2,507.6 445.3,509.3 444.4,508.8 443.5,509.8 442.6,509.3 441.7,509.1 440.8,509.4 439.9,510.2 439,511.1 438.1,511.7 437.2,510.6 436.3,512 435.4,512.2 434.5,512.8 433.7,512.8 432.8,512.2 431.9,513.2 431,512.4 430.1,513.6 429.2,513.7 428.3,513.8 427.4,514.1 426.5,513.9 425.6,516.3 424.7,517.3 423.8,517.3 422.9,519.2 422,520.8 421.1,522.9 420.2,524.5 419.3,525.1 418.5,525.8 417.6,526.1 416.7,527 415.8,527 414.9,526 414,525.8 413.1,525.4 412.2,525.1 411.3,525.8 410.4,526 409.5,525.6 408.6,524.8 407.7,522.6 406.8,522.2 405.9,520.9 405,516.7 404.1,513.3 403.3,507.9 402.4,503.8 401.5,500.5 400.6,499.6 399.7,499.4 398.8,499.1 397.9,498.8 397,497.8 396.1,497.2 395.2,498.5 394.3,498.4 393.4,498.1 392.5,497.2 391.6,496.7 390.7,496.1 389.8,496.4 389,496.7 388.1,497.1 387.2,497.2 386.3,497.9 385.4,498.1 384.5,498.3 383.6,497.7 382.7,498.8 381.8,498.2 380.9,497.2 380,498.5 379.1,498.4 378.2,497.8 377.3,498.5 376.4,496.3 375.5,496.3 374.6,497.2 373.8,497.6 372.9,497.4 372,498.3 371.1,497.9 370.2,498.3 369.3,499.9 368.4,500.2 367.5,499.6 366.6,500" fill="#2a57a9" opacity="0.6"/><polyline points="366.6,498.8 367.5,498.4 368.4,498.6 369.3,497.9 370.2,497.1 371.1,497 372,496.3 372.9,495.9 373.8,496.4 374.6,496 375.5,495.7 376.4,495.6 377.3,496.7 378.2,496.9 379.1,496.7 380,496.6 380.9,496.3 381.8,496.2 382.7,496.8 383.6,496.1 384.5,496.2 385.4,495.8 386.3,496.4 387.2,495.8 388.1,495.9 389,495.8 389.8,495.7 390.7,495.4 391.6,496 392.5,496.7 393.4,496.8 394.3,497.2 395.2,497 396.1,496.4 397,496.7 397.9,497.2 398.8,497.7 399.7,497.4 400.6,497.1 401.5,497.6 402.4,499.9 403.3,502.9 404.1,507.7 405,511.2 405.9,515.6 406.8,515.9 407.7,516.9 408.6,518.4 409.5,519.6 410.4,519.7 411.3,519.6 412.2,519.4 413.1,519.4 414,519.6 414.9,520.3 415.8,520.3 416.7,520.3 417.6,520.1 418.5,520.3 419.3,520 420.2,518.2 421.1,517 422,514.6 422.9,513.7 423.8,512.5 424.7,511.5 425.6,510.6 426.5,509.4 427.4,509.2 428.3,509.3 429.2,509.8 430.1,509.1 431,508.7 431.9,508.3 432.8,507.4 433.7,507.7 434.5,507.9 435.4,507.1 436.3,506.5 437.2,506.3 438.1,506.8 439,506.6 439.9,505.8 440.8,505.6 441.7,505.5 442.6,505.4 443.5,504.9 444.4,504.6 445.3,504.1 446.2,503.5 447.1,503.2 448,503.4 448.8,503.6 449.7,503.3 450.6,503.2 451.5,502.9 452.4,503.7 453.3,503.5 454.2,503.3 455.1,505 456,506.2 456.9,506.9 457.8,508.2 458.7,508.5 459.6,509.8 460.5,510.3 461.4,511.5 462.3,512 463.2,512.4 464,512.4 464.9,512.1 465.8,512.6 466.7,512.4 467.6,512.8 468.5,512.7 469.4,513 470.3,513.6 471.2,514.1 472.1,514.6 473,514.2 473.9,514.3" fill="none" stroke="#2a57a9" stroke-width="0.8" stroke-linejoin="round"/><polygon points="366.6,498.7 367.5,497.5 368.4,497.6 369.3,499.4 370.2,499.7 371.1,500.2 372,499 372.9,498.4 373.8,499.2 374.6,498.6 375.5,497.1 376.4,498.3 377.3,498.1 378.2,499.2 379.1,498.8 380,499.6 380.9,500.1 381.8,499.7 382.7,500.8 383.6,500.9 384.5,500 385.4,500.6 386.3,500.9 387.2,500.7 388.1,502.3 389,500.9 389.8,500.7 390.7,499.7 391.6,498.5 392.5,498.2 393.4,498.8 394.3,498.6 395.2,499 396.1,499.6 397,500.2 397.9,499.9 398.8,499.2 399.7,498.7 400.6,497.8 401.5,495.4 402.4,498.7 403.3,502.1 404.1,507.5 405,514.6 405.9,519.2 406.8,520.9 407.7,524 408.6,525.9 409.5,528.4 410.4,527.4 411.3,528.6 412.2,528.2 413.1,527.5 414,528.1 414.9,528.7 415.8,529.4 416.7,527.6 417.6,527.9 418.5,528.8 419.3,525.7 420.2,521.6 421.1,518.4 422,516 422.9,512.4 423.8,508.5 424.7,506.8 425.6,504.8 426.5,503.2 427.4,500.6 428.3,499.7 429.2,499.2 430.1,497.5 431,496 431.9,496.8 432.8,496.6 433.7,496.4 434.5,496 435.4,496.4 436.3,495.5 437.2,493.7 438.1,493.8 439,493.7 439.9,493.3 440.8,492.5 441.7,493.6 442.6,493.7 443.5,492.9 444.4,492.9 445.3,493.4 446.2,491.6 447.1,491.4 448,490.5 448.8,489.7 449.7,490.6 450.6,490.9 451.5,490.9 452.4,491.8 453.3,492.1 454.2,492.3 455.1,491.4 456,492.2 456.9,491.9 457.8,491.1 458.7,489.9 459.6,490.5 460.5,490.2 461.4,491.2 462.3,491.3 463.2,491 464,490.7 464.9,490 465.8,489.3 466.7,489.2 467.6,488.8 468.5,490.4 469.4,489.6 470.3,489.3 471.2,489.7 472.1,489.2 473,489.1 473.9,489.3 473.9,499.2 473,498.5 472.1,498.9 471.2,499.3 470.3,499.9 469.4,500 468.5,500.5 467.6,500.7 466.7,501.2 465.8,500.9 464.9,501.8 464,501.9 463.2,502.7 462.3,501.7 461.4,501.6 460.5,502.7 459.6,501.8 458.7,500.7 457.8,502.1 456.9,503.7 456,503.8 455.1,503 454.2,502.8 453.3,503.9 452.4,503 451.5,502.6 450.6,503 449.7,502.8 448.8,503.3 448,503.9 447.1,503.9 446.2,505.2 445.3,505.3 444.4,506.6 443.5,507 442.6,508.2 441.7,507.9 440.8,507 439.9,506.6 439,507.5 438.1,507 437.2,507.9 436.3,509.1 435.4,509.9 434.5,509.6 433.7,510.8 432.8,512.4 431.9,513.6 431,515.8 430.1,517.1 429.2,520.5 428.3,522.4 427.4,523.9 426.5,526.1 425.6,529 424.7,532.3 423.8,536.2 422.9,539.1 422,544.2 421.1,547.3 420.2,551.4 419.3,556.8 418.5,560 417.6,561 416.7,562.4 415.8,562.1 414.9,561.7 414,562.3 413.1,560.8 412.2,560.4 411.3,558.9 410.4,558.6 409.5,557.9 408.6,555.2 407.7,552.9 406.8,548.9 405.9,547.2 405,538 404.1,528.5 403.3,519.6 402.4,512.6 401.5,504.9 400.6,503.6 399.7,503.5 398.8,504 397.9,504.4 397,504.4 396.1,503.6 395.2,503.8 394.3,503.1 393.4,502.6 392.5,502.9 391.6,504.1 390.7,505 389.8,504.4 389,505.4 388.1,506.5 387.2,505.9 386.3,506.1 385.4,506.5 384.5,506 383.6,505.8 382.7,504.8 381.8,504.5 380.9,503.7 380,504.2 379.1,503.5 378.2,504.4 377.3,503.1 376.4,503.4 375.5,502.3 374.6,502.4 373.8,503.6 372.9,503.2 372,503.9 371.1,503.8 370.2,503.4 369.3,503 368.4,503.5 367.5,503.2 366.6,504.3" fill="#d67a9a" opacity="0.55"/><polyline points="366.6,501 367.5,500.5 368.4,500.2 369.3,501.1 370.2,501.3 371.1,501.7 372,501.3 372.9,501 373.8,501.7 374.6,500.9 375.5,500.4 376.4,500.7 377.3,500.8 378.2,501.2 379.1,501.2 380,501.4 380.9,501.6 381.8,501.5 382.7,502.3 383.6,502.7 384.5,502.5 385.4,503.2 386.3,503.9 387.2,503.4 388.1,504.1 389,503.5 389.8,503 390.7,502.6 391.6,502 392.5,501.1 393.4,501 394.3,500.7 395.2,501.3 396.1,501.6 397,501.7 397.9,501.8 398.8,501.7 399.7,501.7 400.6,501 401.5,500.8 402.4,505.9 403.3,510.6 404.1,518 405,526 405.9,533.5 406.8,535.6 407.7,538.2 408.6,540.4 409.5,542.9 410.4,542.9 411.3,544 412.2,544.4 413.1,544.3 414,545.1 414.9,545.2 415.8,545.7 416.7,545.1 417.6,545.3 418.5,544.6 419.3,540.9 420.2,537.1 421.1,533.6 422,530 422.9,526 423.8,522.5 424.7,519.1 425.6,516.5 426.5,515 427.4,512.6 428.3,511.5 429.2,509.7 430.1,507.8 431,506.2 431.9,505.5 432.8,504.2 433.7,503.4 434.5,503.3 435.4,502.8 436.3,502.2 437.2,501.3 438.1,500.4 439,500.6 439.9,500.1 440.8,500.1 441.7,500.6 442.6,500.4 443.5,500.2 444.4,500.2 445.3,499.4 446.2,498.4 447.1,497.7 448,497.6 448.8,497.1 449.7,497.2 450.6,497.1 451.5,496.5 452.4,497.2 453.3,497.3 454.2,497.3 455.1,497.4 456,497.2 456.9,497.6 457.8,497 458.7,496.1 459.6,496.5 460.5,496.8 461.4,496.7 462.3,496 463.2,496.3 464,495.7 464.9,496 465.8,495.7 466.7,495.2 467.6,494.9 468.5,495.5 469.4,494.7 470.3,494.2 471.2,494.3 472.1,493.9 473,493.9 473.9,494.4" fill="none" stroke="#d67a9a" stroke-width="0.8" stroke-linejoin="round"/><polygon points="366.6,504.7 367.5,505.5 368.4,503.4 369.3,505 370.2,505 371.1,505 372,505.4 372.9,506.6 373.8,507.6 374.6,507 375.5,505.6 376.4,504.3 377.3,502.2 378.2,502.5 379.1,501.4 380,500.9 380.9,500.4 381.8,500.8 382.7,501.4 383.6,499.8 384.5,498.5 385.4,497.7 386.3,495.9 387.2,495.8 388.1,494.4 389,495.5 389.8,494 390.7,495.9 391.6,495.7 392.5,496.4 393.4,494.9 394.3,494.4 395.2,493.2 396.1,495.5 397,496.1 397.9,497.4 398.8,496.8 399.7,495.7 400.6,496.4 401.5,496.5 402.4,500.5 403.3,508.2 404.1,521 405,534 405.9,548.3 406.8,549 407.7,549.5 408.6,551.1 409.5,551.7 410.4,555.3 411.3,556.2 412.2,555 413.1,556.8 414,557.8 414.9,558.7 415.8,558.6 416.7,559 417.6,556.8 418.5,555.6 419.3,553.1 420.2,549 421.1,543 422,534.2 422.9,531 423.8,527.3 424.7,525.5 425.6,521.7 426.5,521.6 427.4,521.6 428.3,520.1 429.2,517.7 430.1,515.8 431,516.3 431.9,514.4 432.8,514.3 433.7,513.2 434.5,511.8 435.4,511.5 436.3,510.7 437.2,511.5 438.1,510.4 439,510 439.9,509.9 440.8,508 441.7,508.9 442.6,508.6 443.5,508.6 444.4,509.7 445.3,507.8 446.2,506.4 447.1,506.5 448,505.1 448.8,505.6 449.7,504.8 450.6,504.6 451.5,504 452.4,505.9 453.3,503.5 454.2,504.6 455.1,502.5 456,500.6 456.9,501.8 457.8,501.8 458.7,502.4 459.6,501.9 460.5,501.2 461.4,502.8 462.3,503.4 463.2,500.8 464,502.3 464.9,500.2 465.8,499.4 466.7,501.2 467.6,502.5 468.5,500.4 469.4,498.7 470.3,499.3 471.2,498.4 472.1,499.9 473,499.1 473.9,500.1 473.9,510.8 473,510.4 472.1,509.6 471.2,510.3 470.3,511.7 469.4,510.4 468.5,511.3 467.6,512.4 466.7,512.1 465.8,511.5 464.9,513.7 464,514 463.2,515.5 462.3,515.2 461.4,516.9 460.5,516.4 459.6,513.8 458.7,514.9 457.8,515.1 456.9,516.1 456,516 455.1,515.2 454.2,516.4 453.3,517.4 452.4,519.7 451.5,517.8 450.6,520.3 449.7,520.4 448.8,521 448,522.5 447.1,522.8 446.2,523.1 445.3,521.5 444.4,523.1 443.5,523.4 442.6,524.9 441.7,525.9 440.8,527.3 439.9,528.2 439,529.9 438.1,528.6 437.2,528.9 436.3,530.2 435.4,532.8 434.5,532.1 433.7,534.9 432.8,536.5 431.9,539.5 431,539.4 430.1,541.6 429.2,544.3 428.3,547.8 427.4,550.3 426.5,554.4 425.6,555.1 424.7,560.6 423.8,563.1 422.9,568 422,574.5 421.1,582.5 420.2,591.8 419.3,598.8 418.5,601.3 417.6,604.3 416.7,605.6 415.8,603.3 414.9,602.7 414,598.7 413.1,598.3 412.2,595.5 411.3,592.5 410.4,589.5 409.5,587 408.6,584.7 407.7,578.8 406.8,577.4 405.9,573.3 405,556.5 404.1,540.9 403.3,525.2 402.4,514.8 401.5,503 400.6,500.6 399.7,501.2 398.8,501.9 397.9,499.9 397,500 396.1,499.9 395.2,499.8 394.3,501 393.4,502.4 392.5,502.2 391.6,501.2 390.7,502.2 389.8,501.1 389,500 388.1,500.9 387.2,501.6 386.3,501.4 385.4,502.3 384.5,504 383.6,503.6 382.7,505.6 381.8,505.4 380.9,503.6 380,505 379.1,506.5 378.2,507.1 377.3,507.6 376.4,508.4 375.5,510.5 374.6,510 373.8,514 372.9,512.9 372,511.8 371.1,511 370.2,509.9 369.3,509.3 368.4,509.5 367.5,511.1 366.6,509.7" fill="#e8603c" opacity="0.68"/><polyline points="366.6,506.8 367.5,507.2 368.4,506.6 369.3,506.5 370.2,506.7 371.1,507.5 372,507.8 372.9,508.5 373.8,509.8 374.6,508.2 375.5,507.1 376.4,506.2 377.3,505.2 378.2,504.9 379.1,503.6 380,503.6 380.9,502.4 381.8,503.2 382.7,503 383.6,502.3 384.5,501 385.4,500.6 386.3,499.6 387.2,499.6 388.1,498.7 389,497.9 389.8,497.7 390.7,498.7 391.6,497.9 392.5,498.6 393.4,498.4 394.3,498.5 395.2,497.2 396.1,498 397,497.5 397.9,498.6 398.8,499.2 399.7,498.7 400.6,497.9 401.5,499.3 402.4,507.6 403.3,516.5 404.1,530.2 405,545.1 405.9,559.8 406.8,563.3 407.7,564.9 408.6,567.8 409.5,570.5 410.4,573 411.3,574.1 412.2,575 413.1,577.6 414,578.8 414.9,580 415.8,581.2 416.7,583.4 417.6,581.1 418.5,579.3 419.3,576.5 420.2,569.6 421.1,561.8 422,554.1 422.9,549.3 423.8,545.2 424.7,542.6 425.6,539.4 426.5,537.7 427.4,535.8 428.3,533.2 429.2,531.8 430.1,529.6 431,527.7 431.9,527.1 432.8,525.8 433.7,525 434.5,523 435.4,523.2 436.3,521.4 437.2,520.5 438.1,519.9 439,520.3 439.9,519.3 440.8,518 441.7,517.9 442.6,516.8 443.5,516.3 444.4,516.7 445.3,515.1 446.2,515.2 447.1,514.7 448,513.7 448.8,512.5 449.7,511.7 450.6,511.9 451.5,511 452.4,511.6 453.3,511.1 454.2,510.8 455.1,509.6 456,508.9 456.9,508.6 457.8,507.9 458.7,508.4 459.6,508.4 460.5,509 461.4,508.9 462.3,509 463.2,507.9 464,508.3 464.9,506.8 465.8,506.4 466.7,506.3 467.6,506.8 468.5,506.4 469.4,505.8 470.3,506.1 471.2,504.5 472.1,504.6 473,504.4 473.9,504.5" fill="none" stroke="#e0302d" stroke-width="0.8" stroke-linejoin="round"/><line x1="356.9" y1="482.7" x2="356.9" y2="607.7" stroke="#1a1a1a" stroke-width="1.2"/><line x1="352.7" y1="502.2" x2="356.9" y2="502.2" stroke="#1a1a1a" stroke-width="1.2"/><text x="346.1" y="506.4" font-size="11.6" text-anchor="end">0</text><line x1="352.7" y1="537.2" x2="356.9" y2="537.2" stroke="#1a1a1a" stroke-width="1.2"/><text x="350.3" y="541.4" font-size="11.6" text-anchor="end" textLength="26.7" lengthAdjust="spacingAndGlyphs">-100</text><line x1="352.7" y1="572.2" x2="356.9" y2="572.2" stroke="#1a1a1a" stroke-width="1.2"/><text x="350.3" y="576.4" font-size="11.6" text-anchor="end" textLength="26.7" lengthAdjust="spacingAndGlyphs">-200</text><line x1="352.7" y1="607.2" x2="356.9" y2="607.2" stroke="#1a1a1a" stroke-width="1.2"/><text x="350.3" y="611.4" font-size="11.6" text-anchor="end" textLength="26.7" lengthAdjust="spacingAndGlyphs">-300</text><line x1="354.3" y1="484.7" x2="356.9" y2="484.7" stroke="#1a1a1a" stroke-width="1.2"/><line x1="354.3" y1="519.7" x2="356.9" y2="519.7" stroke="#1a1a1a" stroke-width="1.2"/><line x1="354.3" y1="554.7" x2="356.9" y2="554.7" stroke="#1a1a1a" stroke-width="1.2"/><line x1="354.3" y1="589.7" x2="356.9" y2="589.7" stroke="#1a1a1a" stroke-width="1.2"/><line x1="366.1" y1="611.7" x2="474.4" y2="611.7" stroke="#1a1a1a" stroke-width="1.2"/><line x1="366.6" y1="611.7" x2="366.6" y2="616.2" stroke="#1a1a1a" stroke-width="1.2"/><text x="367.1" y="631.2" font-size="11.6" text-anchor="middle">0</text><line x1="402.4" y1="611.7" x2="402.4" y2="616.2" stroke="#1a1a1a" stroke-width="1.2"/><text x="402.9" y="631.2" font-size="11.6" text-anchor="middle" textLength="14.4" lengthAdjust="spacingAndGlyphs">20</text><line x1="438.1" y1="611.7" x2="438.1" y2="616.2" stroke="#1a1a1a" stroke-width="1.2"/><text x="438.6" y="631.2" font-size="11.6" text-anchor="middle" textLength="14.4" lengthAdjust="spacingAndGlyphs">40</text><line x1="473.9" y1="611.7" x2="473.9" y2="616.2" stroke="#1a1a1a" stroke-width="1.2"/><text x="474.4" y="631.2" font-size="11.6" text-anchor="middle" textLength="14.4" lengthAdjust="spacingAndGlyphs">60</text><text x="434.5" y="648.6" font-size="13.2" text-anchor="middle" textLength="53" lengthAdjust="spacingAndGlyphs">Time (s)</text><text transform="translate(319.2 554.2) rotate(-90)" text-anchor="middle" font-size="13" textLength="101" lengthAdjust="spacingAndGlyphs">Astrocyte I<tspan dy="3.2" font-size="11.4">K</tspan><tspan dy="-3.2"> (pA)</tspan></text>
<!-- panel_i -->
<text x="512.2" y="478.2" font-size="14.5" font-weight="bold" fill="#111">i</text><rect x="573.3" y="475.5" width="21.8" height="33.4" fill="#0d9bd8"/><rect x="601.4" y="475.5" width="21.4" height="13.1" fill="#2a57a9"/><rect x="628" y="475.5" width="22" height="27.3" fill="#d67a9a"/><rect x="656" y="475.5" width="21.9" height="49.4" fill="#e0302d"/><line x1="561.5" y1="475" x2="561.5" y2="612.6" stroke="#1a1a1a" stroke-width="1.2"/><line x1="557.3" y1="475.5" x2="561.5" y2="475.5" stroke="#1a1a1a" stroke-width="1.2"/><text x="550.7" y="479.7" font-size="11.6" text-anchor="end">0</text><line x1="557.3" y1="521" x2="561.5" y2="521" stroke="#1a1a1a" stroke-width="1.2"/><text x="554.9" y="525.2" font-size="11.6" text-anchor="end" textLength="26.7" lengthAdjust="spacingAndGlyphs">-200</text><line x1="557.3" y1="566.6" x2="561.5" y2="566.6" stroke="#1a1a1a" stroke-width="1.2"/><text x="554.9" y="570.8" font-size="11.6" text-anchor="end" textLength="26.7" lengthAdjust="spacingAndGlyphs">-400</text><line x1="557.3" y1="612.1" x2="561.5" y2="612.1" stroke="#1a1a1a" stroke-width="1.2"/><text x="554.9" y="616.3" font-size="11.6" text-anchor="end" textLength="26.7" lengthAdjust="spacingAndGlyphs">-600</text><line x1="584.3" y1="500.2" x2="584.3" y2="516.2" stroke="#222" stroke-width="1.1"/><line x1="577.6" y1="500.2" x2="591" y2="500.2" stroke="#222" stroke-width="1.1"/><line x1="577.6" y1="516.2" x2="591" y2="516.2" stroke="#222" stroke-width="1.1"/><line x1="611.6" y1="483.9" x2="611.6" y2="493.1" stroke="#222" stroke-width="1.1"/><line x1="604.8" y1="483.9" x2="618.4" y2="483.9" stroke="#222" stroke-width="1.1"/><line x1="604.8" y1="493.1" x2="618.4" y2="493.1" stroke="#222" stroke-width="1.1"/><line x1="639" y1="493.1" x2="639" y2="511.5" stroke="#222" stroke-width="1.1"/><line x1="632.2" y1="493.1" x2="645.8" y2="493.1" stroke="#222" stroke-width="1.1"/><line x1="632.2" y1="511.5" x2="645.8" y2="511.5" stroke="#222" stroke-width="1.1"/><line x1="667.1" y1="512.3" x2="667.1" y2="537.8" stroke="#222" stroke-width="1.1"/><line x1="660.1" y1="512.3" x2="674.1" y2="512.3" stroke="#222" stroke-width="1.1"/><line x1="660.1" y1="537.8" x2="674.1" y2="537.8" stroke="#222" stroke-width="1.1"/><g fill="#fff" stroke="#000" stroke-width="0.95"><circle cx="577.3" cy="482.1" r="1.8"/><circle cx="591.7" cy="482.1" r="1.8"/><circle cx="577.3" cy="491" r="1.8"/><circle cx="584.3" cy="491" r="1.8"/><circle cx="591.7" cy="491" r="1.8"/><circle cx="577.3" cy="497" r="1.8"/><circle cx="591.2" cy="494.4" r="1.8"/><circle cx="591.2" cy="497.8" r="1.8"/><circle cx="583.8" cy="506.2" r="1.8"/><circle cx="576.5" cy="529.4" r="1.8"/><circle cx="576.5" cy="534.6" r="1.8"/><circle cx="583.8" cy="532.5" r="1.8"/><circle cx="584.3" cy="583.2" r="1.8"/><circle cx="603.5" cy="474.9" r="1.8"/><circle cx="609.3" cy="476" r="1.8"/><circle cx="616.1" cy="474.9" r="1.8"/><circle cx="620.6" cy="477.3" r="1.8"/><circle cx="604.3" cy="481.3" r="1.8"/><circle cx="611.4" cy="481.3" r="1.8"/><circle cx="603.5" cy="491" r="1.8"/><circle cx="608.3" cy="488.6" r="1.8"/><circle cx="603.5" cy="497" r="1.8"/><circle cx="616.1" cy="494.4" r="1.8"/><circle cx="620.6" cy="494.4" r="1.8"/><circle cx="608.3" cy="522.8" r="1.8"/><circle cx="631.6" cy="482.1" r="1.8"/><circle cx="639" cy="478.6" r="1.8"/><circle cx="646.1" cy="480.7" r="1.8"/><circle cx="639" cy="483.9" r="1.8"/><circle cx="646.1" cy="486" r="1.8"/><circle cx="639" cy="488.6" r="1.8"/><circle cx="631.6" cy="504.1" r="1.8"/><circle cx="646.1" cy="504.1" r="1.8"/><circle cx="639" cy="506.8" r="1.8"/><circle cx="639" cy="533" r="1.8"/><circle cx="639" cy="577.2" r="1.8"/><circle cx="667.1" cy="475.7" r="1.8"/><circle cx="673.9" cy="481.3" r="1.8"/><circle cx="667.1" cy="484.4" r="1.8"/><circle cx="667.1" cy="520.2" r="1.8"/><circle cx="667.1" cy="537.8" r="1.8"/><circle cx="667.1" cy="547.5" r="1.8"/><circle cx="667.1" cy="574" r="1.8"/><circle cx="667.1" cy="589" r="1.8"/></g><line x1="582.5" y1="594.3" x2="607.5" y2="594.3" stroke="#1a1a1a" stroke-width="1"/><text x="595.1" y="611.2" font-size="18" text-anchor="middle">*</text><text transform="translate(522.2 550) rotate(-90)" text-anchor="middle" font-size="13" textLength="107.7" lengthAdjust="spacingAndGlyphs">Astrocyte I<tspan dy="3.2" font-size="11.4">K</tspan><tspan dy="-3.2"> (pA)</tspan></text><text font-size="12.2" text-anchor="end" textLength="32.6" lengthAdjust="spacingAndGlyphs" transform="translate(586.3 616) rotate(-90)">Naive</text><text font-size="12.2" text-anchor="end" textLength="36.6" lengthAdjust="spacingAndGlyphs" transform="translate(614.6 616) rotate(-90)">Stress</text><text font-size="12.2" text-anchor="end" textLength="32.6" lengthAdjust="spacingAndGlyphs" transform="translate(644.2 616) rotate(-90)">Naive</text><text font-size="12.2" text-anchor="end" textLength="36.6" lengthAdjust="spacingAndGlyphs" transform="translate(670.8 616) rotate(-90)">Stress</text><line x1="577.3" y1="655.2" x2="617.5" y2="655.2" stroke="#333" stroke-width="1.3"/><line x1="633.7" y1="655.2" x2="673.2" y2="655.2" stroke="#333" stroke-width="1.3"/><text x="598.3" y="669.3" font-size="11.6" text-anchor="middle" textLength="19.7" lengthAdjust="spacingAndGlyphs">WT</text><text x="653.7" y="669.3" font-size="11.6" text-anchor="middle" textLength="33.7" lengthAdjust="spacingAndGlyphs">GFAP</text><text x="654.8" y="683" font-size="11.6" text-anchor="middle" textLength="56" lengthAdjust="spacingAndGlyphs">OTR cKO</text>
<!-- panel_j -->
<text x="-1.2" y="694.4" font-size="14.5" font-weight="bold" fill="#111">j</text><g transform="translate(0 675) scale(0.2415)"><path d="M440,128 C462,130 482,140 485,158 C486,174 466,180 448,178 C420,176 390,166 358,163" fill="none" stroke="#ad756b" stroke-width="7" stroke-linecap="round"/><path d="M300,138 L284,147 L296,152 L318,150 L326,140 Z" fill="#b88479"/><path d="M392,140 L386,149 L428,152 L432,146 L420,138 Z" fill="#b88479"/><path d="M252,94 C262,82 282,70 298,66 C302,60 308,59 311,63 C330,68 350,70 366,74 C392,78 412,88 426,100 C440,110 448,120 446,128 C444,138 438,142 430,143 C405,150 385,149 365,148 C345,148 325,146 310,142 C298,136 290,128 286,121 C276,114 262,108 253,102 Z" fill="#4a4a4c"/><ellipse cx="315.5" cy="85" rx="6.5" ry="10.5" fill="#b5857c" transform="rotate(18 315.5 85)"/><circle cx="283" cy="91" r="3.2" fill="#1c1416"/><circle cx="253" cy="98" r="3.5" fill="#b88479"/></g><text x="88.3" y="732.3" font-size="12.6" text-anchor="middle" textLength="88" lengthAdjust="spacingAndGlyphs">C57BL6/J mice</text><g transform="translate(88.5 739) scale(0.1781) translate(-342 -22)"><path d="M344,58 C338,35 320,24 290,24 C220,26 140,50 95,100 C55,150 35,220 35,275 C35,340 60,420 105,465 C130,488 170,496 190,488 C212,475 226,445 240,412 C250,440 270,465 300,476 C320,482 335,480 344,472 Z" fill="#c6cad0"/><path d="M344,58 C338,35 320,24 290,24 C220,26 140,50 95,100 C55,150 35,220 35,275 C35,340 60,420 105,465 C130,488 170,496 190,488 C212,475 226,445 240,412 C250,440 270,465 300,476 C320,482 335,480 344,472" fill="none" stroke="#e6e8eb" stroke-width="6"/><path d="M343,66 C336,44 318,34 290,34 C222,36 148,58 103,106 C65,154 45,222 45,275 C45,338 68,414 111,457 C134,478 168,486 187,479" fill="none" stroke="#a4aab3" stroke-width="1.9"/><path d="M344,124 C332,108 312,96 286,94 C246,92 205,108 180,132 C150,165 135,210 134,262 C134,302 148,340 172,366 C198,388 230,398 245,415 C256,442 276,462 302,473 C322,480 336,478 344,470 L344,124 Z" fill="#e4e6e9"/><path d="M205,108 C160,145 120,215 116,290 C114,330 122,362 134,392" fill="none" stroke="#e4e6e9" stroke-width="5"/><path d="M349,190 C310,184 240,184 205,196 C184,212 174,262 181,302 C190,342 222,372 252,400 C264,430 282,455 306,465 C325,470 338,468 349,462 Z" fill="#cbcfd5"/><path d="M230,300 C242,325 270,334 305,330" fill="none" stroke="#e0e2e6" stroke-width="6" stroke-linecap="round"/><path d="M216,226 C206,245 206,270 216,286" fill="none" stroke="#e0e2e6" stroke-width="6" stroke-linecap="round"/><ellipse cx="313" cy="258" rx="8" ry="13" fill="#e4e6e9"/><circle cx="302" cy="375" r="5" fill="#e4e6e9"/><ellipse cx="293" cy="432" rx="6" ry="9" fill="#e4e6e9"/><path d="M176,183 C178,140 225,112 291,110 C316,112 331,126 337,152 L326,172 C310,160 290,151 271,152 C250,152 232,151 215,162 C200,172 188,181 176,183 Z" fill="#eceef0" stroke="#7c838e" stroke-width="2.4"/><path d="M196,170 C212,142 258,128 298,131 C314,135 322,146 319,160" fill="none" stroke="#8f96a0" stroke-width="1.6"/><path d="M226,157 C248,141 280,138 303,149 C282,146 252,146 226,157 Z" fill="#d5d8dd" stroke="#8f96a0" stroke-width="1.4"/><path d="M154,184 C147,212 148,246 162,270 C168,272 166,262 164,250 C160,228 160,205 160,186 Z" fill="#fff" stroke="#c0c4ca" stroke-width="1"/><g transform="translate(684 0) scale(-1 1)"><path d="M344,58 C338,35 320,24 290,24 C220,26 140,50 95,100 C55,150 35,220 35,275 C35,340 60,420 105,465 C130,488 170,496 190,488 C212,475 226,445 240,412 C250,440 270,465 300,476 C320,482 335,480 344,472 Z" fill="#c6cad0"/><path d="M344,58 C338,35 320,24 290,24 C220,26 140,50 95,100 C55,150 35,220 35,275 C35,340 60,420 105,465 C130,488 170,496 190,488 C212,475 226,445 240,412 C250,440 270,465 300,476 C320,482 335,480 344,472" fill="none" stroke="#e6e8eb" stroke-width="6"/><path d="M343,66 C336,44 318,34 290,34 C222,36 148,58 103,106 C65,154 45,222 45,275 C45,338 68,414 111,457 C134,478 168,486 187,479" fill="none" stroke="#a4aab3" stroke-width="1.9"/><path d="M344,124 C332,108 312,96 286,94 C246,92 205,108 180,132 C150,165 135,210 134,262 C134,302 148,340 172,366 C198,388 230,398 245,415 C256,442 276,462 302,473 C322,480 336,478 344,470 L344,124 Z" fill="#e4e6e9"/><path d="M205,108 C160,145 120,215 116,290 C114,330 122,362 134,392" fill="none" stroke="#e4e6e9" stroke-width="5"/><path d="M349,190 C310,184 240,184 205,196 C184,212 174,262 181,302 C190,342 222,372 252,400 C264,430 282,455 306,465 C325,470 338,468 349,462 Z" fill="#cbcfd5"/><path d="M230,300 C242,325 270,334 305,330" fill="none" stroke="#e0e2e6" stroke-width="6" stroke-linecap="round"/><path d="M216,226 C206,245 206,270 216,286" fill="none" stroke="#e0e2e6" stroke-width="6" stroke-linecap="round"/><ellipse cx="313" cy="258" rx="8" ry="13" fill="#e4e6e9"/><circle cx="302" cy="375" r="5" fill="#e4e6e9"/><ellipse cx="293" cy="432" rx="6" ry="9" fill="#e4e6e9"/><path d="M176,183 C178,140 225,112 291,110 C316,112 331,126 337,152 L326,172 C310,160 290,151 271,152 C250,152 232,151 215,162 C200,172 188,181 176,183 Z" fill="#eceef0" stroke="#7c838e" stroke-width="2.4"/><path d="M196,170 C212,142 258,128 298,131 C314,135 322,146 319,160" fill="none" stroke="#8f96a0" stroke-width="1.6"/><path d="M226,157 C248,141 280,138 303,149 C282,146 252,146 226,157 Z" fill="#d5d8dd" stroke="#8f96a0" stroke-width="1.4"/><path d="M154,184 C147,212 148,246 162,270 C168,272 166,262 164,250 C160,228 160,205 160,186 Z" fill="#fff" stroke="#c0c4ca" stroke-width="1"/></g><path d="M342,136 L360,170 L354,196 L349,218 L342,250 L335,218 L330,196 L324,170 Z" fill="#fff" stroke="#e4e6e9" stroke-width="3"/><line x1="342" y1="50" x2="342" y2="122" stroke="#e9ebee" stroke-width="4"/><line x1="342" y1="418" x2="342" y2="470" stroke="#e3e5e8" stroke-width="3"/></g><circle cx="53.6" cy="791.4" r="3.4" fill="#4456b0"/><circle cx="122.8" cy="791.4" r="3.4" fill="#4456b0"/><g transform="translate(0 675) scale(0.2415)"><path d="M262,690 C248,660 255,625 266,625 C278,627 276,665 268,692" fill="#fff" stroke="#3a3a3a" stroke-width="3"/><path d="M203,690 L207,742 L232,815 C234,822 240,822 242,815 L266,742 L270,690 Z" fill="#fff" stroke="#3a3a3a" stroke-width="3" stroke-linejoin="round"/><path d="M209,748 L232,815 C234,822 240,822 242,815 L264,748 Z" fill="#a8d3ef"/><ellipse cx="236.5" cy="748" rx="27" ry="6.5" fill="#bfe0f5" stroke="#6aa7cf" stroke-width="2"/><ellipse cx="236.5" cy="690" rx="33.5" ry="9" fill="#fff" stroke="#3a3a3a" stroke-width="3"/><path d="M203,690 L207,742 L232,815 C234,822 240,822 242,815 L266,742 L270,690" fill="none" stroke="#3a3a3a" stroke-width="3" stroke-linejoin="round"/></g><circle cx="43" cy="835.6" r="3.4" fill="#4456b0"/><circle cx="41" cy="846" r="3.4" fill="#4456b0"/><line x1="73.7" y1="849.4" x2="82" y2="849.4" stroke="#111" stroke-width="1"/><polygon points="87.2,849.4 80.4,846.8 80.4,852" fill="#111"/><text x="119.4" y="845.4" font-size="13.6" text-anchor="middle" textLength="51.5" lengthAdjust="spacingAndGlyphs">Western</text><text x="119.4" y="861.8" font-size="13.6" text-anchor="middle" textLength="44.5" lengthAdjust="spacingAndGlyphs">blotting</text>
<!-- panel_k -->
<text x="182.6" y="697.9" font-size="14.5" font-weight="bold" fill="#111">k</text><defs><filter id="kb1" x="-10%" y="-100%" width="120%" height="300%"><feGaussianBlur stdDeviation="1.7 0.95"/></filter><filter id="kb2" x="-10%" y="-100%" width="120%" height="300%"><feGaussianBlur stdDeviation="2 2.6"/></filter><filter id="kb3" x="-10%" y="-100%" width="120%" height="300%"><feGaussianBlur stdDeviation="1.6 1.5"/></filter><clipPath id="ck1"><rect x="236" y="708.4" width="212" height="57"/></clipPath><clipPath id="ck2"><rect x="236" y="770.1" width="212" height="56.5"/></clipPath><clipPath id="ck3"><rect x="236" y="832.4" width="212" height="57.6"/></clipPath></defs><rect x="236" y="708.4" width="212" height="57" fill="#e9e9e9" stroke="#cfcfcf" stroke-width="0.8"/><g clip-path="url(#ck1)"><rect x="236" y="708.4" width="36.7" height="57" fill="#e8e8e8"/><rect x="272.7" y="708.4" width="32.3" height="57" fill="#eeeeee"/><rect x="305" y="708.4" width="36.3" height="57" fill="#e9e9e9"/><rect x="341.3" y="708.4" width="37" height="57" fill="#e8e8e8"/><rect x="378.3" y="708.4" width="36" height="57" fill="#ebebeb"/><rect x="414.3" y="708.4" width="33.7" height="57" fill="#efefef"/><g filter="url(#kb2)"><rect x="238" y="747" width="28" height="12" fill="#c9c9c9"/><rect x="309" y="748" width="29" height="10" fill="#cdcdcd"/><rect x="343" y="747.5" width="29" height="9" fill="#a9a9a9"/><rect x="383" y="749" width="27" height="9" fill="#d9d9d9"/><rect x="238" y="722" width="32" height="8" fill="#dedede"/><rect x="309" y="724" width="30" height="8" fill="#dedede"/></g><g filter="url(#kb1)"><path d="M238,728.8 L252,729.4 L268.5,731 L268.5,736 L252,735.2 L238,734 Z" fill="#000"/><path d="M278,731.6 L299,732.8 L299,735.2 L278,734 Z" fill="#8a8a8a"/><path d="M309,732 L322,732.8 L335,733.4 L335,738.2 L322,737.8 L309,736.6 Z" fill="#000"/><path d="M345,734.8 L371.5,735.6 L371.5,739 L345,738.4 Z" fill="#060606"/><path d="M382,734.2 L408.5,734.4 L408.5,739.2 L382,739 Z" fill="#000"/><path d="M419.5,735.2 L443,735.6 L443,738.4 L419.5,738 Z" fill="#7a7a7a"/></g></g><rect x="236" y="770.1" width="212" height="56.5" fill="#787878"/><g clip-path="url(#ck2)"><rect x="236" y="770.1" width="36.7" height="56.5" fill="#737373"/><rect x="272.7" y="770.1" width="32.3" height="56.5" fill="#7b7b7b"/><rect x="305" y="770.1" width="36.3" height="56.5" fill="#747474"/><rect x="341.3" y="770.1" width="37" height="56.5" fill="#757575"/><rect x="378.3" y="770.1" width="36" height="56.5" fill="#787878"/><rect x="414.3" y="770.1" width="33.7" height="56.5" fill="#808080"/><g filter="url(#kb3)"><rect x="238" y="790" width="32.7" height="4" fill="#5f5f5f"/><rect x="238" y="800" width="32.7" height="4" fill="#626262"/><rect x="238" y="818" width="32.7" height="5" fill="#565656"/><rect x="274.7" y="819" width="28.3" height="4" fill="#6a6a6a"/><rect x="307" y="791" width="32.3" height="4.5" fill="#4f4f4f"/><rect x="307" y="801" width="32.3" height="4.5" fill="#525252"/><rect x="307" y="819" width="32.3" height="5" fill="#4c4c4c"/><rect x="343.3" y="791" width="33" height="4.5" fill="#5a5a5a"/><rect x="343.3" y="801" width="33" height="4.5" fill="#5c5c5c"/><rect x="343.3" y="819" width="33" height="5" fill="#525252"/><rect x="380.3" y="792" width="32" height="4" fill="#666"/><rect x="380.3" y="800" width="32" height="3" fill="#6b6b6b"/><rect x="380.3" y="819" width="32" height="5" fill="#575757"/><rect x="416.3" y="820" width="29.7" height="4" fill="#6c6c6c"/><rect x="236" y="813" width="212" height="13.6" fill="#000" opacity="0.07"/><rect x="236" y="766" width="212" height="18" fill="#fff" opacity="0.09"/></g></g><rect x="236" y="832.4" width="212" height="57.6" fill="#bebebe"/><g clip-path="url(#ck3)"><rect x="236" y="832.4" width="36.7" height="57.6" fill="#b3b3b3"/><rect x="272.7" y="832.4" width="32.3" height="57.6" fill="#c6c6c6"/><rect x="305" y="832.4" width="36.3" height="57.6" fill="#b8b8b8"/><rect x="341.3" y="832.4" width="37" height="57.6" fill="#bdbdbd"/><rect x="378.3" y="832.4" width="36" height="57.6" fill="#bcbcbc"/><rect x="414.3" y="832.4" width="33.7" height="57.6" fill="#c5c5c5"/><g filter="url(#kb3)"><rect x="238.5" y="846" width="31.7" height="4" fill="#a3a3a3"/><rect x="238.5" y="858" width="31.7" height="4" fill="#a8a8a8"/><rect x="238.5" y="877" width="31.7" height="4.5" fill="#939393"/><rect x="275.2" y="848" width="27.3" height="3.5" fill="#bcbcbc"/><rect x="275.2" y="878" width="27.3" height="4" fill="#b9b9b9"/><rect x="307.5" y="838" width="31.3" height="4" fill="#a4a4a4"/><rect x="307.5" y="851" width="31.3" height="4.5" fill="#909090"/><rect x="307.5" y="861" width="31.3" height="4.5" fill="#969696"/><rect x="307.5" y="871" width="31.3" height="3.5" fill="#a6a6a6"/><rect x="307.5" y="881" width="31.3" height="5" fill="#8a8a8a"/><rect x="343.8" y="839" width="32" height="4" fill="#acacac"/><rect x="343.8" y="851" width="32" height="4.5" fill="#9c9c9c"/><rect x="343.8" y="861" width="32" height="4.5" fill="#a0a0a0"/><rect x="343.8" y="881" width="32" height="5" fill="#939393"/><rect x="380.8" y="840" width="31" height="3.5" fill="#b0b0b0"/><rect x="380.8" y="852" width="31" height="4" fill="#a8a8a8"/><rect x="380.8" y="862" width="31" height="4" fill="#acacac"/><rect x="380.8" y="881" width="31" height="4.5" fill="#9f9f9f"/><rect x="416.8" y="880" width="28.7" height="4" fill="#b8b8b8"/></g><rect x="236" y="832.4" width="3" height="57.6" fill="#999" opacity="0.5"/></g><circle cx="284" cy="815.4" r="0.7" fill="#222"/><circle cx="244.6" cy="876.8" r="0.8" fill="#222"/><circle cx="279.7" cy="870.6" r="0.6" fill="#222"/><circle cx="432.4" cy="859.6" r="0.8" fill="#222"/><circle cx="439.8" cy="849.6" r="0.7" fill="#222"/><line x1="272.7" y1="665" x2="272.7" y2="890" stroke="#0a0a0a" stroke-width="1.5"/><line x1="305" y1="665" x2="305" y2="890" stroke="#0a0a0a" stroke-width="1.5"/><line x1="341.3" y1="665" x2="341.3" y2="890" stroke="#0a0a0a" stroke-width="1.5"/><line x1="378.3" y1="665" x2="378.3" y2="890" stroke="#0a0a0a" stroke-width="1.5"/><line x1="414.3" y1="665" x2="414.3" y2="890" stroke="#0a0a0a" stroke-width="1.5"/><text font-size="11.6" textLength="32.3" lengthAdjust="spacingAndGlyphs" transform="translate(257 704.6) rotate(-90)">Naive</text><text font-size="11.6" textLength="35.8" lengthAdjust="spacingAndGlyphs" transform="translate(292.6 704.6) rotate(-90)">Stress</text><text font-size="11.6" textLength="32.3" lengthAdjust="spacingAndGlyphs" transform="translate(326.6 704.6) rotate(-90)">Naive</text><text font-size="11.6" textLength="35.8" lengthAdjust="spacingAndGlyphs" transform="translate(360.6 704.6) rotate(-90)">Stress</text><text font-size="11.6" textLength="32.3" lengthAdjust="spacingAndGlyphs" transform="translate(398 704.6) rotate(-90)">Naive</text><text font-size="11.6" textLength="35.8" lengthAdjust="spacingAndGlyphs" transform="translate(434.2 704.6) rotate(-90)">Stress</text><text font-size="12.4" text-anchor="middle" textLength="33.5" lengthAdjust="spacingAndGlyphs" transform="translate(220.6 736.8) rotate(-90)">Kir4.1</text><text font-size="12.4" text-anchor="middle" textLength="64.5" lengthAdjust="spacingAndGlyphs" transform="translate(220.6 802.2) rotate(-90)">Membrane</text><text font-size="12.4" text-anchor="middle" textLength="19.6" lengthAdjust="spacingAndGlyphs" transform="translate(220.6 858.8) rotate(-90)">Gel</text><line x1="202.6" y1="764.3" x2="202.6" y2="877.3" stroke="#222" stroke-width="1"/><text font-size="12.4" text-anchor="middle" textLength="67.8" lengthAdjust="spacingAndGlyphs" transform="translate(198.2 819.8) rotate(-90)">All proteins</text><text font-size="12.4" text-anchor="middle" textLength="102.2" lengthAdjust="spacingAndGlyphs" transform="translate(181.4 819.4) rotate(-90)">Biorad StainFree</text><text x="470.2" y="688.2" font-size="12.4" text-anchor="middle" textLength="23.4" lengthAdjust="spacingAndGlyphs">MW</text><text x="470.2" y="705" font-size="12.4" text-anchor="middle" textLength="33" lengthAdjust="spacingAndGlyphs">(kDa)</text><line x1="450.6" y1="725.4" x2="455.6" y2="725.4" stroke="#8a8a8a" stroke-width="0.90"/><text x="459.8" y="729.7" font-size="11.8" textLength="14.4" lengthAdjust="spacingAndGlyphs">50</text><line x1="450.6" y1="749.1" x2="455.6" y2="749.1" stroke="#8a8a8a" stroke-width="0.90"/><text x="459.8" y="753.4" font-size="11.8" textLength="14.4" lengthAdjust="spacingAndGlyphs">37</text><line x1="450.6" y1="781.9" x2="455.6" y2="781.9" stroke="#8a8a8a" stroke-width="0.90"/><text x="459.8" y="786.2" font-size="11.8" textLength="14.4" lengthAdjust="spacingAndGlyphs">75</text><line x1="450.6" y1="810.3" x2="455.6" y2="810.3" stroke="#8a8a8a" stroke-width="0.90"/><text x="459.8" y="814.6" font-size="11.8" textLength="14.4" lengthAdjust="spacingAndGlyphs">50</text><line x1="450.6" y1="845" x2="455.6" y2="845" stroke="#8a8a8a" stroke-width="0.90"/><text x="459.8" y="849.3" font-size="11.8" textLength="14.4" lengthAdjust="spacingAndGlyphs">75</text><line x1="450.6" y1="873.4" x2="455.6" y2="873.4" stroke="#8a8a8a" stroke-width="0.90"/><text x="459.8" y="877.7" font-size="11.8" textLength="14.4" lengthAdjust="spacingAndGlyphs">50</text><polygon points="455.4,735.9 466.9,732.5 466.9,739.3" fill="#050505"/>
<!-- panel_l -->
<rect x="511.6" y="688.6" width="2.2" height="9.6" fill="#111"/><rect x="628" y="764.8" width="22" height="44.2" fill="#0d9bd8"/><rect x="655.6" y="786.9" width="22" height="22.1" fill="#2a57a9"/><line x1="614.6" y1="698.1" x2="614.6" y2="809.5" stroke="#1a1a1a" stroke-width="1.2"/><line x1="610.4" y1="809" x2="614.6" y2="809" stroke="#1a1a1a" stroke-width="1.2"/><text x="606.8" y="813.2" font-size="11.6" text-anchor="end" textLength="19" lengthAdjust="spacingAndGlyphs">0.0</text><line x1="610.4" y1="786.9" x2="614.6" y2="786.9" stroke="#1a1a1a" stroke-width="1.2"/><text x="606.8" y="791.1" font-size="11.6" text-anchor="end" textLength="19" lengthAdjust="spacingAndGlyphs">0.5</text><line x1="610.4" y1="764.8" x2="614.6" y2="764.8" stroke="#1a1a1a" stroke-width="1.2"/><text x="606.8" y="769" font-size="11.6" text-anchor="end" textLength="19" lengthAdjust="spacingAndGlyphs">1.0</text><line x1="610.4" y1="742.8" x2="614.6" y2="742.8" stroke="#1a1a1a" stroke-width="1.2"/><text x="606.8" y="747" font-size="11.6" text-anchor="end" textLength="19" lengthAdjust="spacingAndGlyphs">1.5</text><line x1="610.4" y1="720.7" x2="614.6" y2="720.7" stroke="#1a1a1a" stroke-width="1.2"/><text x="606.8" y="724.9" font-size="11.6" text-anchor="end" textLength="19" lengthAdjust="spacingAndGlyphs">2.0</text><line x1="610.4" y1="698.6" x2="614.6" y2="698.6" stroke="#1a1a1a" stroke-width="1.2"/><text x="606.8" y="702.8" font-size="11.6" text-anchor="end" textLength="19" lengthAdjust="spacingAndGlyphs">2.5</text><line x1="639.4" y1="755.9" x2="639.4" y2="774" stroke="#222" stroke-width="1.1"/><line x1="633.8" y1="755.9" x2="645" y2="755.9" stroke="#222" stroke-width="1.1"/><line x1="633.8" y1="774" x2="645" y2="774" stroke="#222" stroke-width="1.1"/><line x1="666.6" y1="782.2" x2="666.6" y2="790.6" stroke="#222" stroke-width="1.1"/><line x1="661.4" y1="782.2" x2="671.8" y2="782.2" stroke="#222" stroke-width="1.1"/><line x1="661.4" y1="790.6" x2="671.8" y2="790.6" stroke="#222" stroke-width="1.1"/><g fill="#fff" stroke="#000" stroke-width="0.95"><circle cx="639.5" cy="732.8" r="1.8"/><circle cx="639.5" cy="753" r="1.8"/><circle cx="639.5" cy="758.2" r="1.8"/><circle cx="639.5" cy="771.7" r="1.8"/><circle cx="639.5" cy="774.9" r="1.8"/><circle cx="639.5" cy="797.2" r="1.8"/></g><g fill="#fff" stroke="#000" stroke-width="0.95"><circle cx="666.6" cy="768.3" r="1.8"/><circle cx="671" cy="790.6" r="1.8"/><circle cx="665.8" cy="793.8" r="1.8"/><circle cx="671" cy="795.9" r="1.8"/><circle cx="662.1" cy="798" r="1.8"/></g><g fill="#fff" stroke="#000" stroke-width="0.95"><circle cx="664.4" cy="773.6" r="1.2"/><circle cx="664.6" cy="776.4" r="1.2"/></g><line x1="637.2" y1="720.2" x2="666.6" y2="720.2" stroke="#1a1a1a" stroke-width="1"/><text x="651.4" y="724.8" font-size="18" text-anchor="middle">*</text><text font-size="12.2" text-anchor="end" textLength="32.6" lengthAdjust="spacingAndGlyphs" transform="translate(641.8 815.6) rotate(-90)">Naive</text><text font-size="12.2" text-anchor="end" textLength="36.6" lengthAdjust="spacingAndGlyphs" transform="translate(670.2 815.6) rotate(-90)">Stress</text><text font-size="12.6" text-anchor="middle" textLength="128" lengthAdjust="spacingAndGlyphs" transform="translate(544.8 754.2) rotate(-90)">Relative Kir4.1 levels</text><text font-size="12.6" text-anchor="middle" textLength="88" lengthAdjust="spacingAndGlyphs" transform="translate(561.2 756.6) rotate(-90)">(normalized to</text><text font-size="12.6" text-anchor="middle" textLength="107" lengthAdjust="spacingAndGlyphs" transform="translate(577.4 754.2) rotate(-90)">total protein load)</text>
</svg>
</body></html>
